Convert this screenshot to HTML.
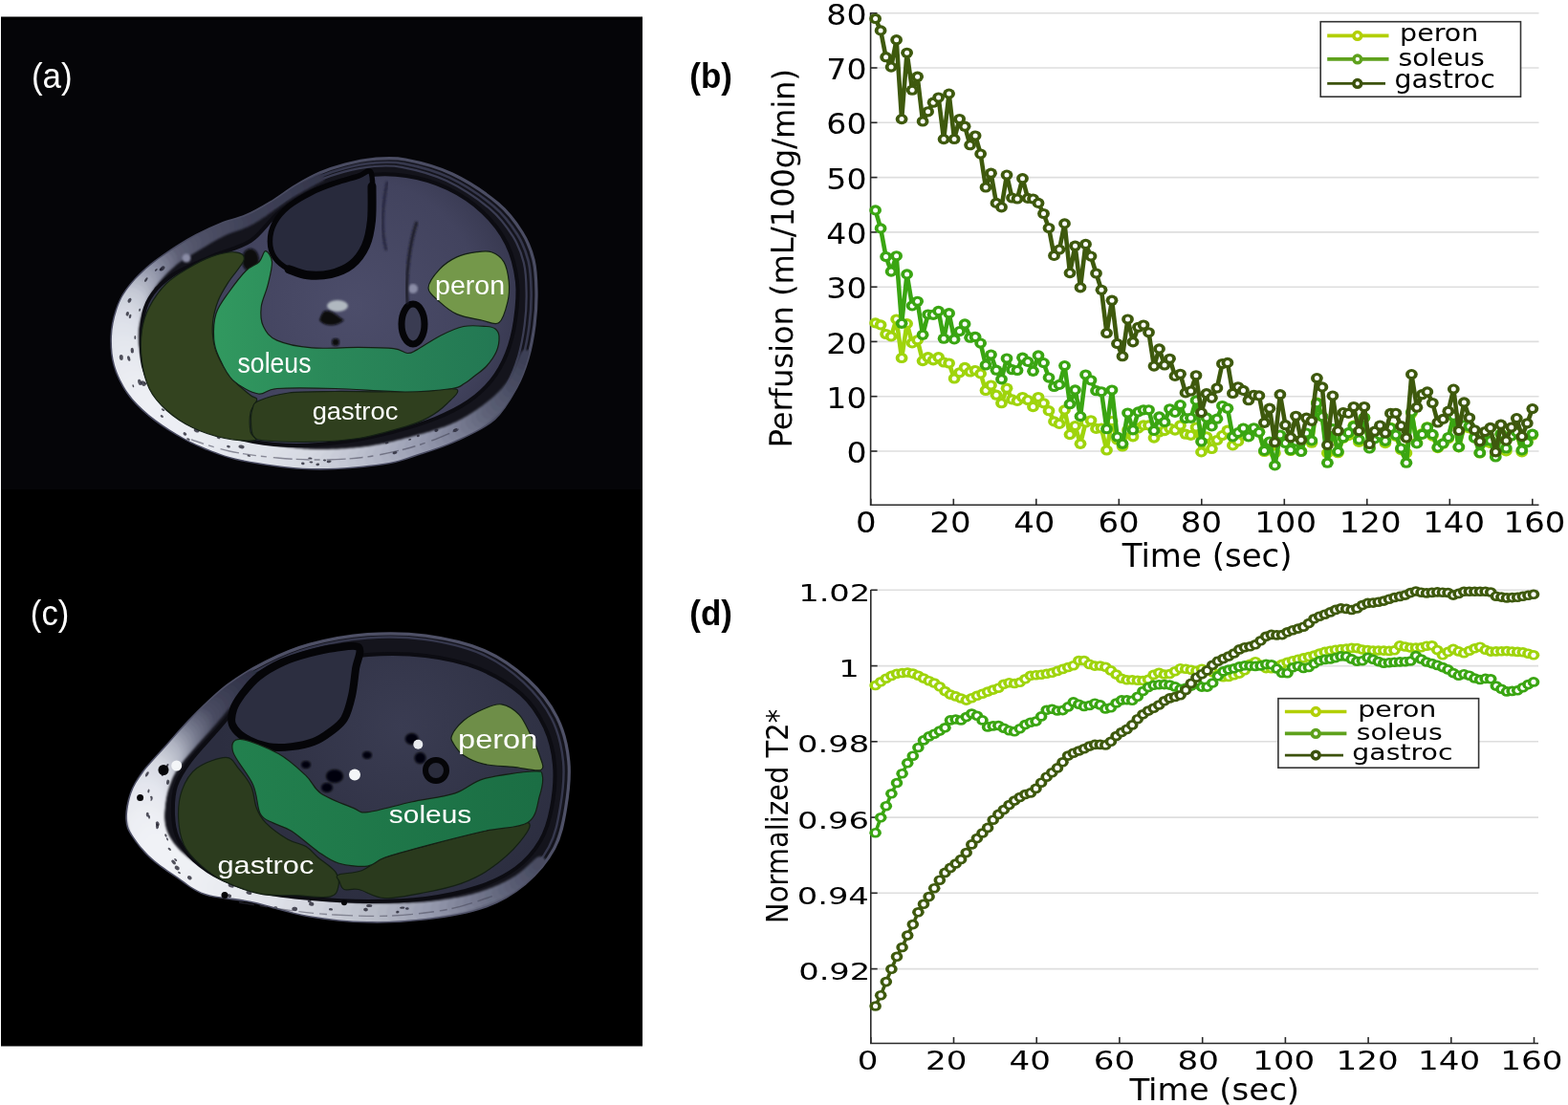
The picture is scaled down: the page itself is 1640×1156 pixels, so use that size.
<!DOCTYPE html>
<html><head><meta charset="utf-8"><title>Figure</title><style>html,body{margin:0;padding:0;background:#fff;overflow:hidden}svg{display:block}</style></head><body>
<svg width="1640" height="1156" viewBox="0 0 1640 1156">
<rect width="1640" height="1156" fill="#fff"/>
<defs>
<filter id="blur1" x="-10%" y="-10%" width="120%" height="120%"><feGaussianBlur stdDeviation="1.2"/></filter>
<filter id="blur06" x="-10%" y="-10%" width="120%" height="120%"><feGaussianBlur stdDeviation="0.6"/></filter>
<filter id="blur2" x="-10%" y="-10%" width="120%" height="120%"><feGaussianBlur stdDeviation="2.5"/></filter>
<filter id="blur4" x="-20%" y="-20%" width="140%" height="140%"><feGaussianBlur stdDeviation="5"/></filter>
<linearGradient id="bandA" gradientUnits="userSpaceOnUse" x1="120" y1="420" x2="560" y2="300">
<stop offset="0" stop-color="#e6e8f0"/><stop offset="0.45" stop-color="#c8ccd8"/><stop offset="0.75" stop-color="#6a6e86"/><stop offset="1" stop-color="#3a3c50"/></linearGradient>
<linearGradient id="bandC" gradientUnits="userSpaceOnUse" x1="130" y1="880" x2="600" y2="900">
<stop offset="0" stop-color="#f0f2f6"/><stop offset="0.5" stop-color="#d8dce4"/><stop offset="0.8" stop-color="#8a8ea6"/><stop offset="1" stop-color="#4a4c62"/></linearGradient>
<radialGradient id="musA" gradientUnits="userSpaceOnUse" cx="370" cy="320" r="190">
<stop offset="0" stop-color="#4c4d6a"/><stop offset="0.7" stop-color="#42435e"/><stop offset="1" stop-color="#34354b"/></radialGradient>
<radialGradient id="musC" gradientUnits="userSpaceOnUse" cx="420" cy="760" r="190">
<stop offset="0" stop-color="#3a3c52"/><stop offset="1" stop-color="#2c2e40"/></radialGradient>
<linearGradient id="solA" gradientUnits="userSpaceOnUse" x1="230" y1="0" x2="520" y2="0">
<stop offset="0" stop-color="#31985f"/><stop offset="0.4" stop-color="#2a8859"/><stop offset="1" stop-color="#237853"/></linearGradient>
<linearGradient id="solC" gradientUnits="userSpaceOnUse" x1="250" y1="0" x2="565" y2="0">
<stop offset="0" stop-color="#22804e"/><stop offset="1" stop-color="#1b6e44"/></linearGradient>
</defs>
<rect x="1" y="17.5" width="671" height="1077" fill="#000"/>
<rect x="1" y="21" width="671" height="491" fill="#050508"/>
<clipPath id="clipOA"><path d="M117,352 C117.3,342.5 119.4,333.1 122,325 C124.6,316.9 127.3,310.9 132.5,303.6 C137.7,296.3 145.5,288 153.3,281.1 C161.1,274.2 170.5,267.9 179.2,262.1 C187.8,256.3 196.5,251.1 205.2,246.5 C213.8,241.9 222.4,237.8 231.1,234.4 C239.8,231 248.5,229.6 257.1,225.8 C265.8,222.1 274.4,217.1 283,211.9 C291.6,206.7 300.3,199.8 309,194.6 C317.7,189.4 326.3,184.6 335,180.8 C343.7,177 351.8,174.4 361,172 C370.2,169.6 379.5,167.3 390,166.5 C400.5,165.7 410.2,164.4 424,167 C437.8,169.6 456.8,174.3 473,182 C489.2,189.7 508.8,202.8 521,213 C533.2,223.2 539.8,233.2 546,243 C552.2,252.8 555.5,261.7 558,272 C560.5,282.3 560.8,293.7 561,305 C561.2,316.3 560.5,328.3 559,340 C557.5,351.7 555.2,364.2 552,375 C548.8,385.8 545.8,394.5 540,405 C534.2,415.5 527.3,428.8 517,438 C506.7,447.2 490.8,454 478,460 C465.2,466 453,469.8 440,474 C427,478.2 419,482.3 400,485 C381,487.7 350.5,490.7 326,490 C301.5,489.3 271.8,484.7 253,481 C234.2,477.3 224.3,472.5 213,468 C201.7,463.5 194.5,459.7 185,454 C175.5,448.3 164.5,441.2 156,434 C147.5,426.8 140,419.7 134,411 C128,402.3 122.8,391.8 120,382 C117.2,372.2 116.7,361.5 117,352 Z"/></clipPath>
<path d="M117,352 C117.3,342.5 119.4,333.1 122,325 C124.6,316.9 127.3,310.9 132.5,303.6 C137.7,296.3 145.5,288 153.3,281.1 C161.1,274.2 170.5,267.9 179.2,262.1 C187.8,256.3 196.5,251.1 205.2,246.5 C213.8,241.9 222.4,237.8 231.1,234.4 C239.8,231 248.5,229.6 257.1,225.8 C265.8,222.1 274.4,217.1 283,211.9 C291.6,206.7 300.3,199.8 309,194.6 C317.7,189.4 326.3,184.6 335,180.8 C343.7,177 351.8,174.4 361,172 C370.2,169.6 379.5,167.3 390,166.5 C400.5,165.7 410.2,164.4 424,167 C437.8,169.6 456.8,174.3 473,182 C489.2,189.7 508.8,202.8 521,213 C533.2,223.2 539.8,233.2 546,243 C552.2,252.8 555.5,261.7 558,272 C560.5,282.3 560.8,293.7 561,305 C561.2,316.3 560.5,328.3 559,340 C557.5,351.7 555.2,364.2 552,375 C548.8,385.8 545.8,394.5 540,405 C534.2,415.5 527.3,428.8 517,438 C506.7,447.2 490.8,454 478,460 C465.2,466 453,469.8 440,474 C427,478.2 419,482.3 400,485 C381,487.7 350.5,490.7 326,490 C301.5,489.3 271.8,484.7 253,481 C234.2,477.3 224.3,472.5 213,468 C201.7,463.5 194.5,459.7 185,454 C175.5,448.3 164.5,441.2 156,434 C147.5,426.8 140,419.7 134,411 C128,402.3 122.8,391.8 120,382 C117.2,372.2 116.7,361.5 117,352 Z" fill="#14141c"/>
<path d="M117,352 C117.3,342.5 119.4,333.1 122,325 C124.6,316.9 127.3,310.9 132.5,303.6 C137.7,296.3 145.5,288 153.3,281.1 C161.1,274.2 170.5,267.9 179.2,262.1 C187.8,256.3 196.5,251.1 205.2,246.5 C213.8,241.9 222.4,237.8 231.1,234.4 C239.8,231 248.5,229.6 257.1,225.8 C265.8,222.1 274.4,217.1 283,211.9 C291.6,206.7 300.3,199.8 309,194.6 C317.7,189.4 326.3,184.6 335,180.8 C343.7,177 351.8,174.4 361,172 C370.2,169.6 379.5,167.3 390,166.5 C400.5,165.7 410.2,164.4 424,167 C437.8,169.6 456.8,174.3 473,182 C489.2,189.7 508.8,202.8 521,213 C533.2,223.2 539.8,233.2 546,243 C552.2,252.8 555.5,261.7 558,272 C560.5,282.3 560.8,293.7 561,305 C561.2,316.3 560.5,328.3 559,340 C557.5,351.7 555.2,364.2 552,375 C548.8,385.8 545.8,394.5 540,405 C534.2,415.5 527.3,428.8 517,438 C506.7,447.2 490.8,454 478,460 C465.2,466 453,469.8 440,474 C427,478.2 419,482.3 400,485 C381,487.7 350.5,490.7 326,490 C301.5,489.3 271.8,484.7 253,481 C234.2,477.3 224.3,472.5 213,468 C201.7,463.5 194.5,459.7 185,454 C175.5,448.3 164.5,441.2 156,434 C147.5,426.8 140,419.7 134,411 C128,402.3 122.8,391.8 120,382 C117.2,372.2 116.7,361.5 117,352 Z" fill="none" stroke="#4a4c62" stroke-width="3.2"/>
<path d="M122.7,351.4 C123,342.2 125.1,333 127.6,325.1 C130.1,317.3 132.7,311.4 137.8,304.3 C142.9,297.1 150.5,289.1 158.1,282.3 C165.7,275.6 174.9,269.4 183.3,263.8 C191.8,258.2 200.3,253.1 208.7,248.6 C217.1,244.1 225.5,240.2 233.9,236.8 C242.4,233.4 250.9,232.1 259.3,228.4 C267.7,224.7 276.1,219.9 284.6,214.9 C293,209.8 301.4,203 309.9,198 C318.3,192.9 326.8,188.2 335.2,184.5 C343.7,180.9 351.7,178.3 360.6,176 C369.5,173.6 378.6,171.4 388.9,170.6 C399.1,169.8 408.5,168.6 422,171.1 C435.5,173.6 454,178.2 469.8,185.7 C485.6,193.2 504.7,206 516.6,215.9 C528.5,225.8 535,235.6 541,245.2 C547,254.8 550.2,263.4 552.7,273.4 C555.1,283.5 555.4,294.6 555.6,305.6 C555.8,316.7 555.1,328.4 553.6,339.8 C552.2,351.1 549.9,363.3 546.8,373.9 C543.7,384.4 540.8,392.9 535.1,403.1 C529.4,413.4 522.8,426.4 512.7,435.3 C502.6,444.2 487.2,450.9 474.7,456.8 C462.2,462.6 450.3,466.3 437.6,470.4 C424.9,474.5 417.1,478.5 398.6,481.1 C380.1,483.7 350.4,486.6 326.5,486 C302.6,485.4 273.7,480.8 255.3,477.2 C236.9,473.7 227.4,468.9 216.3,464.5 C205.2,460.2 198.3,456.4 189,450.9 C179.7,445.4 169,438.4 160.7,431.4 C152.4,424.4 145.1,417.4 139.3,409 C133.4,400.5 128.4,390.3 125.6,380.7 C122.9,371.1 122.4,360.7 122.7,351.4 Z" fill="none" stroke="#35374c" stroke-width="2.6"/>
<path d="M127.9,350.9 C128.3,341.9 130.2,332.9 132.7,325.2 C135.2,317.6 137.7,311.8 142.7,304.9 C147.7,297.9 155.1,290 162.5,283.4 C169.9,276.9 178.9,270.8 187.2,265.4 C195.4,259.9 203.7,254.9 211.9,250.5 C220.1,246.1 228.3,242.3 236.6,239 C244.8,235.7 253.1,234.4 261.3,230.8 C269.6,227.2 277.7,222.5 286,217.6 C294.2,212.6 302.5,206 310.7,201.1 C319,196.2 327.2,191.5 335.5,188 C343.7,184.4 351.5,181.9 360.2,179.6 C369,177.3 377.8,175.1 387.8,174.3 C397.8,173.6 407,172.4 420.2,174.8 C433.4,177.3 451.5,181.8 466.9,189.1 C482.2,196.4 501,208.9 512.6,218.6 C524.1,228.3 530.5,237.8 536.4,247.2 C542.2,256.5 545.4,264.9 547.8,274.8 C550.2,284.6 550.5,295.4 550.6,306.2 C550.8,317 550.2,328.4 548.7,339.5 C547.3,350.6 545.1,362.5 542.1,372.8 C539,383.2 536.2,391.4 530.6,401.4 C525.1,411.4 518.6,424.1 508.7,432.8 C498.9,441.5 483.8,448 471.6,453.8 C459.4,459.5 447.8,463.1 435.4,467.1 C423.1,471.1 415.4,475 397.4,477.6 C379.3,480.1 350.2,483 326.9,482.3 C303.6,481.7 275.3,477.2 257.4,473.8 C239.5,470.3 230.1,465.7 219.3,461.4 C208.5,457.1 201.7,453.4 192.7,448 C183.6,442.7 173.2,435.8 165.1,429 C157,422.2 149.8,415.4 144.1,407.1 C138.4,398.9 133.5,388.9 130.8,379.5 C128.1,370.1 127.6,360 127.9,350.9 Z" fill="none" stroke="#3a3c52" stroke-width="2.2"/>
<g clip-path="url(#clipOA)"><g filter="url(#blur1)" fill="none" stroke-linecap="round">
<path d="M335,186 L331.2,187.9" stroke="#34364a" stroke-width="8.2"/>
<path d="M331.2,187.9 L326,190.4" stroke="#35374b" stroke-width="8.8"/>
<path d="M326,190.4 L319.9,193.5" stroke="#36384d" stroke-width="9.2"/>
<path d="M319.9,193.5 L313.2,196.9" stroke="#37394e" stroke-width="9.8"/>
<path d="M313.2,196.9 L306.4,200.4" stroke="#383a4f" stroke-width="10.2"/>
<path d="M306.4,200.4 L300,204" stroke="#393b51" stroke-width="10.8"/>
<path d="M300,204 L293.7,207.8" stroke="#3a3c52" stroke-width="11.2"/>
<path d="M293.7,207.8 L287.3,212.1" stroke="#3b3d53" stroke-width="11.8"/>
<path d="M287.3,212.1 L280.7,216.5" stroke="#3b3d53" stroke-width="12.2"/>
<path d="M280.7,216.5 L274.2,220.8" stroke="#3c3e54" stroke-width="12.8"/>
<path d="M274.2,220.8 L267.9,224.7" stroke="#3d3f55" stroke-width="13.2"/>
<path d="M267.9,224.7 L262,228" stroke="#3d3f55" stroke-width="13.8"/>
<path d="M262,228 L256.5,230.4" stroke="#3e4056" stroke-width="14.3"/>
<path d="M256.5,230.4 L251.3,232.2" stroke="#3f4157" stroke-width="15"/>
<path d="M251.3,232.2 L246.3,233.6" stroke="#414359" stroke-width="15.7"/>
<path d="M246.3,233.6 L241.5,234.9" stroke="#42445a" stroke-width="16.3"/>
<path d="M241.5,234.9 L236.7,236.3" stroke="#43455b" stroke-width="17"/>
<path d="M236.7,236.3 L232,238" stroke="#45475d" stroke-width="17.7"/>
<path d="M232,238 L227.3,240.1" stroke="#46485e" stroke-width="18.2"/>
<path d="M227.3,240.1 L222.8,242.3" stroke="#47495f" stroke-width="18.5"/>
<path d="M222.8,242.3 L218.3,244.6" stroke="#494b61" stroke-width="18.8"/>
<path d="M218.3,244.6 L213.9,247" stroke="#4a4c62" stroke-width="19.2"/>
<path d="M213.9,247 L209.5,249.5" stroke="#4b4d63" stroke-width="19.5"/>
<path d="M209.5,249.5 L205,252" stroke="#4d4f65" stroke-width="19.8"/>
<path d="M205,252 L200.5,254.5" stroke="#4e5066" stroke-width="20.2"/>
<path d="M200.5,254.5 L195.9,257" stroke="#515369" stroke-width="20.5"/>
<path d="M195.9,257 L191.3,259.5" stroke="#53556b" stroke-width="20.8"/>
<path d="M191.3,259.5 L186.8,262.1" stroke="#56586e" stroke-width="21.2"/>
<path d="M186.8,262.1 L182.3,265" stroke="#595b71" stroke-width="21.5"/>
<path d="M182.3,265 L178,268" stroke="#5b5d73" stroke-width="21.8"/>
<path d="M178,268 L173.7,271.3" stroke="#5e6076" stroke-width="22.3"/>
<path d="M173.7,271.3 L169.5,274.7" stroke="#66697e" stroke-width="23"/>
<path d="M169.5,274.7 L165.4,278.4" stroke="#6f7187" stroke-width="23.7"/>
<path d="M165.4,278.4 L161.4,282.1" stroke="#777a8f" stroke-width="24.3"/>
<path d="M161.4,282.1 L157.6,286" stroke="#7f8397" stroke-width="25"/>
<path d="M157.6,286 L154,290" stroke="#888ba0" stroke-width="25.7"/>
<path d="M154,290 L150.7,294.1" stroke="#9094a8" stroke-width="26.3"/>
<path d="M150.7,294.1 L147.5,298.3" stroke="#999daf" stroke-width="27"/>
<path d="M147.5,298.3 L144.5,302.6" stroke="#a1a5b7" stroke-width="27.7"/>
<path d="M144.5,302.6 L141.7,307" stroke="#aaaebe" stroke-width="28.3"/>
<path d="M141.7,307 L139.2,311.5" stroke="#b3b7c5" stroke-width="29"/>
<path d="M139.2,311.5 L137,316" stroke="#bbbfcd" stroke-width="29.7"/>
<path d="M137,316 L135,320.5" stroke="#c4c8d4" stroke-width="30.2"/>
<path d="M135,320.5 L133.3,325.1" stroke="#c8ccd7" stroke-width="30.5"/>
<path d="M133.3,325.1 L131.9,329.8" stroke="#ccd0db" stroke-width="30.8"/>
<path d="M131.9,329.8 L130.7,334.4" stroke="#d0d4de" stroke-width="31.2"/>
<path d="M130.7,334.4 L129.7,339.2" stroke="#d4d7e1" stroke-width="31.5"/>
<path d="M129.7,339.2 L129,344" stroke="#d8dbe5" stroke-width="31.8"/>
<path d="M129,344 L128.5,348.9" stroke="#dcdfe8" stroke-width="32.2"/>
<path d="M128.5,348.9 L128.3,353.8" stroke="#dde0e9" stroke-width="32.5"/>
<path d="M128.3,353.8 L128.4,358.8" stroke="#dfe2ea" stroke-width="32.8"/>
<path d="M128.4,358.8 L128.7,363.9" stroke="#e0e3eb" stroke-width="33.2"/>
<path d="M128.7,363.9 L129.2,368.9" stroke="#e1e4ec" stroke-width="33.5"/>
<path d="M129.2,368.9 L130,374" stroke="#e3e6ed" stroke-width="33.8"/>
<path d="M130,374 L131,379.1" stroke="#e4e7ee" stroke-width="34"/>
<path d="M131,379.1 L132.2,384.4" stroke="#e5e8ef" stroke-width="34"/>
<path d="M132.2,384.4 L133.7,389.6" stroke="#e6e9ef" stroke-width="34"/>
<path d="M133.7,389.6 L135.4,394.9" stroke="#e7eaf0" stroke-width="34"/>
<path d="M135.4,394.9 L137.5,400" stroke="#e8eaf1" stroke-width="34"/>
<path d="M137.5,400 L140,405" stroke="#e9ebf1" stroke-width="34"/>
<path d="M140,405 L142.9,409.9" stroke="#eaecf2" stroke-width="34"/>
<path d="M142.9,409.9 L146.1,414.8" stroke="#ebedf2" stroke-width="34"/>
<path d="M146.1,414.8 L149.6,419.6" stroke="#ebedf3" stroke-width="34"/>
<path d="M149.6,419.6 L153.5,424.2" stroke="#eceef4" stroke-width="34"/>
<path d="M153.5,424.2 L157.6,428.7" stroke="#edeff4" stroke-width="34"/>
<path d="M157.6,428.7 L162,433" stroke="#edeff4" stroke-width="34"/>
<path d="M162,433 L166.7,437.1" stroke="#eef0f5" stroke-width="34"/>
<path d="M166.7,437.1 L171.6,441" stroke="#eef0f5" stroke-width="34"/>
<path d="M171.6,441 L176.9,444.8" stroke="#edeff5" stroke-width="34"/>
<path d="M176.9,444.8 L182.4,448.3" stroke="#edeff4" stroke-width="34"/>
<path d="M182.4,448.3 L188.1,451.8" stroke="#edeff4" stroke-width="34"/>
<path d="M188.1,451.8 L194,455" stroke="#eceef4" stroke-width="34"/>
<path d="M194,455 L200.1,458.1" stroke="#eceef4" stroke-width="33.8"/>
<path d="M200.1,458.1 L206.5,461" stroke="#ebedf3" stroke-width="33.5"/>
<path d="M206.5,461 L213.1,463.8" stroke="#eaecf3" stroke-width="33.2"/>
<path d="M213.1,463.8 L219.9,466.4" stroke="#e9ecf2" stroke-width="32.8"/>
<path d="M219.9,466.4 L226.9,468.8" stroke="#e8ebf1" stroke-width="32.5"/>
<path d="M226.9,468.8 L234,471" stroke="#e7eaf1" stroke-width="32.2"/>
<path d="M234,471 L241.3,473" stroke="#e6e9f0" stroke-width="31.8"/>
<path d="M241.3,473 L248.7,474.7" stroke="#e5e8ef" stroke-width="31.5"/>
<path d="M248.7,474.7 L256.4,476.2" stroke="#e4e7ee" stroke-width="31.2"/>
<path d="M256.4,476.2 L264.1,477.6" stroke="#e3e6ed" stroke-width="30.8"/>
<path d="M264.1,477.6 L272,478.9" stroke="#e2e5ec" stroke-width="30.5"/>
<path d="M272,478.9 L280,480" stroke="#e1e4eb" stroke-width="30.2"/>
<path d="M280,480 L288,481" stroke="#e0e3ea" stroke-width="29.8"/>
<path d="M288,481 L296.2,482" stroke="#dee1e9" stroke-width="29.5"/>
<path d="M296.2,482 L304.4,482.8" stroke="#dde0e7" stroke-width="29.2"/>
<path d="M304.4,482.8 L312.8,483.4" stroke="#dbdee6" stroke-width="28.8"/>
<path d="M312.8,483.4 L321.3,483.9" stroke="#d9dce5" stroke-width="28.5"/>
<path d="M321.3,483.9 L330,484" stroke="#d8dbe3" stroke-width="28.2"/>
<path d="M330,484 L338.9,483.9" stroke="#d6d9e2" stroke-width="27.8"/>
<path d="M338.9,483.9 L348.1,483.6" stroke="#d2d5df" stroke-width="27.5"/>
<path d="M348.1,483.6 L357.5,483" stroke="#cdd1db" stroke-width="27.2"/>
<path d="M357.5,483 L366.9,482.2" stroke="#c9ccd8" stroke-width="26.8"/>
<path d="M366.9,482.2 L376.1,481.2" stroke="#c5c8d5" stroke-width="26.5"/>
<path d="M376.1,481.2 L385,480" stroke="#c0c4d1" stroke-width="26.2"/>
<path d="M385,480 L393.7,478.5" stroke="#bcc0ce" stroke-width="25.8"/>
<path d="M393.7,478.5 L402.3,476.7" stroke="#b7bbca" stroke-width="25.5"/>
<path d="M402.3,476.7 L410.8,474.8" stroke="#b2b6c6" stroke-width="25.2"/>
<path d="M410.8,474.8 L419,472.6" stroke="#adb1c2" stroke-width="24.8"/>
<path d="M419,472.6 L427.1,470.3" stroke="#a8acbe" stroke-width="24.5"/>
<path d="M427.1,470.3 L435,468" stroke="#a3a7ba" stroke-width="24.2"/>
<path d="M435,468 L442.7,465.6" stroke="#9ea2b6" stroke-width="23.7"/>
<path d="M442.7,465.6 L450.2,463.2" stroke="#999db1" stroke-width="23"/>
<path d="M450.2,463.2 L457.5,460.6" stroke="#9397ac" stroke-width="22.3"/>
<path d="M457.5,460.6 L464.6,457.9" stroke="#8e92a7" stroke-width="21.7"/>
<path d="M464.6,457.9 L471.4,455.1" stroke="#898da2" stroke-width="21"/>
<path d="M471.4,455.1 L478,452" stroke="#83879d" stroke-width="20.3"/>
<path d="M478,452 L484.3,448.7" stroke="#7e8298" stroke-width="19.8"/>
<path d="M484.3,448.7 L490.4,445.3" stroke="#797d93" stroke-width="19.5"/>
<path d="M490.4,445.3 L496.2,441.6" stroke="#73778d" stroke-width="19.2"/>
<path d="M496.2,441.6 L501.7,437.9" stroke="#6e7288" stroke-width="18.8"/>
<path d="M501.7,437.9 L507,434" stroke="#696d83" stroke-width="18.5"/>
<path d="M507,434 L512,430" stroke="#63677d" stroke-width="18.2"/>
<path d="M512,430 L516.7,426" stroke="#5e6278" stroke-width="17.7"/>
<path d="M516.7,426 L521.1,421.9" stroke="#5b5f75" stroke-width="17"/>
<path d="M521.1,421.9 L525.2,417.6" stroke="#575b71" stroke-width="16.3"/>
<path d="M525.2,417.6 L529.1,413.3" stroke="#54586e" stroke-width="15.7"/>
<path d="M529.1,413.3 L532.7,408.7" stroke="#51556b" stroke-width="15"/>
<path d="M532.7,408.7 L536,404" stroke="#4d5167" stroke-width="14.3"/>
<path d="M536,404 L539.1,398.6" stroke="#4a4e64" stroke-width="13.8"/>
<path d="M539.1,398.6 L541.9,392.6" stroke="#484b61" stroke-width="13.5"/>
<path d="M541.9,392.6 L544.5,386.4" stroke="#45495f" stroke-width="13.2"/>
<path d="M544.5,386.4 L546.7,380.5" stroke="#43465c" stroke-width="12.8"/>
<path d="M546.7,380.5 L548.6,375.6" stroke="#414359" stroke-width="12.5"/>
<path d="M548.6,375.6 L550,372" stroke="#3e4157" stroke-width="12.2"/>
</g></g>
<g fill="#1c1c2a" fill-opacity="0.75" filter="url(#blur06)" clip-path="url(#clipOA)">
<ellipse cx="169.8" cy="280.9" rx="3.1" ry="1.9" transform="rotate(137.5 169.8 280.9)"/>
<ellipse cx="168.2" cy="281.8" rx="1.8" ry="1.1" transform="rotate(137.5 168.2 281.8)"/>
<ellipse cx="163.3" cy="282.3" rx="1.7" ry="0.9" transform="rotate(137.5 163.3 282.3)"/>
<ellipse cx="152.8" cy="292.6" rx="2.7" ry="1.2" transform="rotate(123.2 152.8 292.6)"/>
<ellipse cx="135.5" cy="314.3" rx="2.6" ry="1.7" transform="rotate(123.2 135.5 314.3)"/>
<ellipse cx="162.8" cy="301.6" rx="2.4" ry="1.1" transform="rotate(123.2 162.8 301.6)"/>
<ellipse cx="146.1" cy="324.3" rx="1.6" ry="0.9" transform="rotate(105.9 146.1 324.3)"/>
<ellipse cx="133.3" cy="328.3" rx="2.4" ry="1.6" transform="rotate(105.9 133.3 328.3)"/>
<ellipse cx="136.1" cy="330.9" rx="2.3" ry="1.2" transform="rotate(105.9 136.1 330.9)"/>
<ellipse cx="126.8" cy="374" rx="2.9" ry="2" transform="rotate(88.1 126.8 374)"/>
<ellipse cx="141.3" cy="353.1" rx="2" ry="0.9" transform="rotate(88.1 141.3 353.1)"/>
<ellipse cx="138.3" cy="366.7" rx="2.9" ry="1.7" transform="rotate(88.1 138.3 366.7)"/>
<ellipse cx="139.3" cy="403.8" rx="1.5" ry="0.8" transform="rotate(72.1 139.3 403.8)"/>
<ellipse cx="146.2" cy="399.9" rx="3.2" ry="1.9" transform="rotate(72.1 146.2 399.9)"/>
<ellipse cx="134.7" cy="375" rx="2.8" ry="1.5" transform="rotate(72.1 134.7 375)"/>
<ellipse cx="149.9" cy="401.1" rx="3.1" ry="2.2" transform="rotate(51.8 149.9 401.1)"/>
<ellipse cx="152" cy="400.9" rx="1.7" ry="0.8" transform="rotate(51.8 152 400.9)"/>
<ellipse cx="168.1" cy="419.1" rx="2.5" ry="1.5" transform="rotate(51.8 168.1 419.1)"/>
<ellipse cx="169.3" cy="435.5" rx="1.7" ry="1.2" transform="rotate(34.5 169.3 435.5)"/>
<ellipse cx="170.5" cy="428.6" rx="1.9" ry="1" transform="rotate(34.5 170.5 428.6)"/>
<ellipse cx="193.4" cy="453.9" rx="2" ry="1.5" transform="rotate(34.5 193.4 453.9)"/>
<ellipse cx="205.7" cy="450.3" rx="3" ry="2" transform="rotate(21.8 205.7 450.3)"/>
<ellipse cx="196.9" cy="459.5" rx="1.9" ry="1" transform="rotate(21.8 196.9 459.5)"/>
<ellipse cx="228.6" cy="458.1" rx="2" ry="1" transform="rotate(21.8 228.6 458.1)"/>
<ellipse cx="239" cy="467.2" rx="1.9" ry="1.3" transform="rotate(11.1 239 467.2)"/>
<ellipse cx="252.5" cy="467.4" rx="3.1" ry="1.9" transform="rotate(11.1 252.5 467.4)"/>
<ellipse cx="260.3" cy="476.8" rx="1.8" ry="0.9" transform="rotate(11.1 260.3 476.8)"/>
<ellipse cx="325.4" cy="483.4" rx="1.9" ry="1" transform="rotate(4.6 325.4 483.4)"/>
<ellipse cx="316.8" cy="484.8" rx="1.8" ry="1.4" transform="rotate(4.6 316.8 484.8)"/>
<ellipse cx="324.4" cy="479.5" rx="2.2" ry="1.1" transform="rotate(4.6 324.4 479.5)"/>
<ellipse cx="332.3" cy="485.9" rx="1.9" ry="1.3" transform="rotate(-4.2 332.3 485.9)"/>
<ellipse cx="344.1" cy="482.8" rx="2.5" ry="1.4" transform="rotate(-4.2 344.1 482.8)"/>
<ellipse cx="339.5" cy="481.5" rx="1.6" ry="0.9" transform="rotate(-4.2 339.5 481.5)"/>
<ellipse cx="413" cy="473.6" rx="2.5" ry="1.4" transform="rotate(-13.5 413 473.6)"/>
<ellipse cx="428.7" cy="459.8" rx="1.5" ry="0.8" transform="rotate(-13.5 428.7 459.8)"/>
<ellipse cx="404.6" cy="463.4" rx="1.8" ry="1" transform="rotate(-13.5 404.6 463.4)"/>
<ellipse cx="456.4" cy="450.2" rx="2.1" ry="1.6" transform="rotate(-20.4 456.4 450.2)"/>
<ellipse cx="476.3" cy="450.1" rx="2.7" ry="1.8" transform="rotate(-20.4 476.3 450.1)"/>
<ellipse cx="437.4" cy="455.9" rx="1.5" ry="1.2" transform="rotate(-20.4 437.4 455.9)"/>
</g>
<path d="M200,460 C206.7,462 225,468.8 240,472 C255,475.2 273.3,477.5 290,479 C306.7,480.5 323.3,481.3 340,481 C356.7,480.7 373.3,479.7 390,477 C406.7,474.3 425,469.7 440,465 C455,460.3 473.3,451.7 480,449" fill="none" stroke="#404052" stroke-width="1.4" stroke-dasharray="14 5 6 7 20 4" stroke-opacity="0.55" filter="url(#blur06)"/>
<path d="M148,352 C148.3,341.8 149.3,330.3 152,322 C154.7,313.7 158.5,308.2 164,302 C169.5,295.8 175.3,290.7 185,285 C194.7,279.3 209.2,273.5 222,268 C234.8,262.5 250.3,259.7 262,252 C273.7,244.3 280.7,231 292,222 C303.3,213 315.3,204.3 330,198 C344.7,191.7 364.2,186.3 380,184 C395.8,181.7 410.3,181.8 425,184 C439.7,186.2 454.7,190.7 468,197 C481.3,203.3 494.7,212.3 505,222 C515.3,231.7 524,242.8 530,255 C536,267.2 539.5,281.7 541,295 C542.5,308.3 540.8,322.5 539,335 C537.2,347.5 534.2,359.5 530,370 C525.8,380.5 520.7,389.7 514,398 C507.3,406.3 499.8,413.3 490,420 C480.2,426.7 468.3,432.7 455,438 C441.7,443.3 425.8,448 410,452 C394.2,456 376.7,459.7 360,462 C343.3,464.3 325.8,466 310,466 C294.2,466 279.7,464.7 265,462 C250.3,459.3 235.2,455 222,450 C208.8,445 196,438.7 186,432 C176,425.3 168,418.2 162,410 C156,401.8 152.3,392.7 150,383 C147.7,373.3 147.7,362.2 148,352 Z" fill="url(#musA)" stroke="#0c0c12" stroke-width="4"/>
<ellipse cx="262" cy="272" rx="9" ry="12" fill="#08080c" filter="url(#blur1)"/>
<path d="M387.3,179.3 C384.9,176.9 381.2,182.1 375.1,184.1 C369,186.1 358.8,188.7 350.7,191.5 C342.6,194.3 334.4,197.1 326.3,201.2 C318.2,205.3 308.5,210.6 302,215.9 C295.5,221.2 290.6,226.8 287.3,232.9 C284,239 282.4,246.3 282.4,252.4 C282.4,258.5 284,264.6 287.3,269.5 C290.6,274.4 296.3,278.6 302,281.7 C307.7,284.8 314.2,287 321.5,287.8 C328.8,288.6 338.2,288.4 345.9,286.6 C353.6,284.8 361.7,281.7 367.8,276.8 C373.9,271.9 378.9,265 382.4,257.3 C385.8,249.6 387.3,240.2 388.5,230.5 C389.7,220.8 390,207.3 389.8,198.8 C389.6,190.3 389.8,181.8 387.3,179.3 Z" fill="#282a3c" stroke="#050508" stroke-width="5.5"/>
<path d="M389,195 C388.9,200.9 389.6,220.1 388.5,230.5 C387.4,240.9 385.8,249.6 382.4,257.3 C378.9,265 373.9,271.9 367.8,276.8 C361.7,281.7 353.6,284.8 345.9,286.6 C338.2,288.4 328.8,288.6 321.5,287.8 C314.2,287 305.2,282.7 302,281.7" fill="none" stroke="#050508" stroke-width="9" stroke-linecap="round"/>
<ellipse cx="432" cy="339" rx="12" ry="21" fill="#3a3c52" stroke="#050508" stroke-width="7"/>
<circle cx="432" cy="302" r="5" fill="#8a8ca6" filter="url(#blur1)"/>
<ellipse cx="353" cy="320" rx="11" ry="6" fill="#b0b8c0" filter="url(#blur1)"/>
<ellipse cx="342" cy="333" rx="6" ry="5" fill="#08080c" filter="url(#blur1)"/>
<circle cx="195" cy="270" r="4.5" fill="#8a8ca6" filter="url(#blur1)"/>
<path d="M436,232 C428,255 424,290 426,318" fill="none" stroke="#1c1c28" stroke-width="3" filter="url(#blur1)"/>
<path d="M405,190 C400,215 398,240 404,262" fill="none" stroke="#24243a" stroke-width="2.5" filter="url(#blur1)"/>
<path d="M338,326 C345,322 352,330 360,335 C352,342 340,342 334,335 Z" fill="#08080c" filter="url(#blur1)"/>
<circle cx="351" cy="358" r="4" fill="#08080c" filter="url(#blur1)"/>
<path d="M246.2,263.9 C251.8,264.4 256.3,266.6 255.2,271.7 C254.1,276.8 244,287.1 239.5,294.2 C235,301.3 231,307.4 228.2,314.5 C225.4,321.6 223.3,329.5 222.6,337 C221.8,344.5 222.4,352.8 223.7,359.5 C225,366.2 227.1,371.1 230.5,377.5 C233.9,383.9 238.8,391.7 244,397.7 C249.2,403.7 257.9,410.1 262,413.5 C266.1,416.9 268.7,415 268.7,418 C268.7,421 263.1,425.9 262,431.5 C260.9,437.1 261.2,446.8 262,451.7 C262.8,456.6 271,459.6 266.5,460.7 C262,461.8 245.9,460.8 235,458.5 C224.1,456.2 211.3,452.1 201.2,447.2 C191.1,442.3 181.7,435.9 174.2,429.2 C166.7,422.4 160.5,415.3 156.2,406.7 C151.9,398.1 149.7,387.6 148.4,377.5 C147.1,367.4 147.1,355.4 148.4,346 C149.7,336.6 151.9,329.4 156.2,321.2 C160.5,312.9 167.4,303.2 174.2,296.5 C180.9,289.8 188.8,285.4 196.7,280.7 C204.6,276 213.2,271.2 221.5,268.4 C229.8,265.6 240.6,263.3 246.2,263.9 Z" fill="#33431f" stroke="#142014" stroke-width="1.2"/>
<path d="M270.2,419.5 C276.5,416.7 288.7,412.7 302,411 C315.3,409.3 333.8,409.7 350,409.5 C366.2,409.3 384.5,409.9 399.5,409.8 C414.5,409.7 427,409.4 440,409 C453,408.6 473,405.1 477.6,407.3 C482.2,409.5 472.7,417.1 467.8,422 C462.9,426.9 455.6,432.6 448.3,436.6 C441,440.7 436.1,442.7 423.9,446.3 C411.7,449.9 391.4,455.9 375.1,458.5 C358.8,461.1 342.6,461.8 326.3,462.2 C310.1,462.6 287.8,462 277.6,461 C267.4,460 267.5,459.3 265,456 C262.5,452.7 262.7,445.7 262.5,441 C262.3,436.3 262.7,431.6 264,428 C265.3,424.4 263.9,422.3 270.2,419.5 Z" fill="#2f3f1e" stroke="#142014" stroke-width="1.2"/>
<path d="M277.7,262.7 C279.9,262.7 284.1,268 284.5,274 C284.9,280 281.9,290.8 280,298.7 C278.1,306.6 273.9,314.1 273.2,321.2 C272.4,328.3 272.7,335.7 275.5,341.5 C278.3,347.3 281.3,352.4 289.8,356.1 C298.3,359.8 312.1,362.7 326.3,363.9 C340.5,365.1 360.9,363.3 375.1,363.4 C389.3,363.5 403.2,363.6 411.7,364.6 C420.2,365.6 422.2,369.3 426.3,369.5 C430.4,369.7 430.4,368.9 436.1,365.9 C441.8,362.8 452.4,355.3 460.5,351.2 C468.6,347.1 476.8,343.1 484.9,341.5 C493,339.9 503.4,341.1 508.9,341.5 C514.4,341.9 515.8,342.2 518,344 C520.2,345.8 521.8,348.1 522,352 C522.2,355.9 521.5,362.3 519.3,367.5 C517.1,372.7 512.6,378.8 508.9,383 C505.2,387.2 501,389.7 497.1,392.7 C493.2,395.7 489.7,398.9 485.6,401.2 C481.5,403.5 483,405 472.7,406.5 C462.4,408 444.2,410 423.9,410 C403.6,410 373,407.1 350.7,406.5 C328.4,405.9 303.2,405.6 289.8,406.5 C276.4,407.4 277.9,413.5 270.2,412 C262.5,410.5 250.3,404.1 243.4,397.6 C236.5,391.1 232.1,380.3 228.8,373.2 C225.5,366.1 224.2,362.5 223.7,355 C223.2,347.5 223.4,336.2 226,328 C228.6,319.8 234.2,313 239.5,305.5 C244.8,298 252.2,288.2 257.5,283 C262.8,277.8 267.6,277.4 271,274 C274.4,270.6 275.4,262.7 277.7,262.7 Z" fill="url(#solA)" stroke="#142014" stroke-width="1.2"/>
<path d="M448,301.3 C448,295.7 454.6,287.3 459.6,281.9 C464.6,276.5 471.3,271.9 477.8,268.9 C484.3,265.9 492.4,264.6 498.5,263.7 C504.6,262.8 509.3,262 514.1,263.7 C518.9,265.4 524.1,268.9 527.1,274.1 C530.1,279.3 531.6,288 532.3,294.9 C532.9,301.8 532.7,308.5 531,315.6 C529.3,322.7 526.4,334.4 521.9,337.6 C517.4,340.8 511,336.5 503.7,335 C496.4,333.5 485.1,331.8 477.8,328.6 C470.5,325.4 464.6,320.2 459.6,315.6 C454.6,311.1 448,306.9 448,301.3 Z" fill="#74984a" stroke="#142014" stroke-width="1.2"/>
<text transform="translate(248.56,389.91) scale(0.8881,1.0000)" font-family="Liberation Sans, sans-serif" font-size="29.96" fill="#fff">soleus</text>
<text transform="translate(326.65,439.18) scale(1.0663,1.0000)" font-family="Liberation Sans, sans-serif" font-size="25.64" fill="#fff">gastroc</text>
<text transform="translate(455.06,307.80) scale(1.0037,1.0000)" font-family="Liberation Sans, sans-serif" font-size="28.43" fill="#fff">peron</text>
<text transform="translate(32.93,92.19) scale(0.9638,1.0000)" font-family="Liberation Sans, sans-serif" font-size="36.28" fill="#fff">(a)</text>
<clipPath id="clipOC"><path d="M132.9,857.3 C132.6,849.9 134.6,838 137.4,829.9 C140.2,821.8 144,816.1 149.6,808.5 C155.2,800.9 162.3,793.8 171,784.1 C179.7,774.5 190.3,761.8 201.5,750.6 C212.7,739.4 225.3,726.8 238,717.1 C250.7,707.5 263.5,699.8 277.7,692.7 C291.9,685.6 305.6,679.2 323.4,674.4 C341.2,669.6 364.1,665.2 384.4,663.7 C404.7,662.2 425.1,662.4 445.4,665.2 C465.7,668 488.5,672.9 506.3,680.5 C524.1,688.1 539.4,699.3 552.1,711 C564.8,722.7 575.5,736.4 582.6,750.6 C589.7,764.8 593.3,780.5 594.8,796.3 C596.3,812 594.2,829.9 591.7,845.1 C589.2,860.4 586.6,874.6 579.5,887.8 C572.4,901 561.2,914.2 549,924.4 C536.8,934.6 523.6,942.7 506.3,948.8 C489,954.9 465.7,958.5 445.4,961 C425.1,963.5 404.7,964.5 384.4,964 C364.1,963.5 343.7,961.4 323.4,957.9 C303.1,954.4 280.4,946.5 262.4,942.7 C244.3,938.9 227.7,939.2 215.1,935.1 C202.5,931 196.1,924.4 186.6,918 C177.1,911.6 166,904.3 158.1,897 C150.2,889.7 143.2,880.8 139,874.2 C134.8,867.6 133.2,864.7 132.9,857.3 Z"/></clipPath>
<path d="M132.9,857.3 C132.6,849.9 134.6,838 137.4,829.9 C140.2,821.8 144,816.1 149.6,808.5 C155.2,800.9 162.3,793.8 171,784.1 C179.7,774.5 190.3,761.8 201.5,750.6 C212.7,739.4 225.3,726.8 238,717.1 C250.7,707.5 263.5,699.8 277.7,692.7 C291.9,685.6 305.6,679.2 323.4,674.4 C341.2,669.6 364.1,665.2 384.4,663.7 C404.7,662.2 425.1,662.4 445.4,665.2 C465.7,668 488.5,672.9 506.3,680.5 C524.1,688.1 539.4,699.3 552.1,711 C564.8,722.7 575.5,736.4 582.6,750.6 C589.7,764.8 593.3,780.5 594.8,796.3 C596.3,812 594.2,829.9 591.7,845.1 C589.2,860.4 586.6,874.6 579.5,887.8 C572.4,901 561.2,914.2 549,924.4 C536.8,934.6 523.6,942.7 506.3,948.8 C489,954.9 465.7,958.5 445.4,961 C425.1,963.5 404.7,964.5 384.4,964 C364.1,963.5 343.7,961.4 323.4,957.9 C303.1,954.4 280.4,946.5 262.4,942.7 C244.3,938.9 227.7,939.2 215.1,935.1 C202.5,931 196.1,924.4 186.6,918 C177.1,911.6 166,904.3 158.1,897 C150.2,889.7 143.2,880.8 139,874.2 C134.8,867.6 133.2,864.7 132.9,857.3 Z" fill="#14141c"/>
<path d="M132.9,857.3 C132.6,849.9 134.6,838 137.4,829.9 C140.2,821.8 144,816.1 149.6,808.5 C155.2,800.9 162.3,793.8 171,784.1 C179.7,774.5 190.3,761.8 201.5,750.6 C212.7,739.4 225.3,726.8 238,717.1 C250.7,707.5 263.5,699.8 277.7,692.7 C291.9,685.6 305.6,679.2 323.4,674.4 C341.2,669.6 364.1,665.2 384.4,663.7 C404.7,662.2 425.1,662.4 445.4,665.2 C465.7,668 488.5,672.9 506.3,680.5 C524.1,688.1 539.4,699.3 552.1,711 C564.8,722.7 575.5,736.4 582.6,750.6 C589.7,764.8 593.3,780.5 594.8,796.3 C596.3,812 594.2,829.9 591.7,845.1 C589.2,860.4 586.6,874.6 579.5,887.8 C572.4,901 561.2,914.2 549,924.4 C536.8,934.6 523.6,942.7 506.3,948.8 C489,954.9 465.7,958.5 445.4,961 C425.1,963.5 404.7,964.5 384.4,964 C364.1,963.5 343.7,961.4 323.4,957.9 C303.1,954.4 280.4,946.5 262.4,942.7 C244.3,938.9 227.7,939.2 215.1,935.1 C202.5,931 196.1,924.4 186.6,918 C177.1,911.6 166,904.3 158.1,897 C150.2,889.7 143.2,880.8 139,874.2 C134.8,867.6 133.2,864.7 132.9,857.3 Z" fill="none" stroke="#4e5066" stroke-width="3.2"/>
<path d="M138.7,856.2 C138.4,849 140.4,837.5 143.1,829.5 C145.8,821.6 149.5,816.1 155,808.7 C160.4,801.2 167.4,794.3 175.8,784.9 C184.3,775.5 194.7,763.1 205.6,752.2 C216.5,741.3 228.8,729 241.2,719.5 C253.6,710.1 266,702.7 279.9,695.8 C293.8,688.8 307.1,682.6 324.4,677.9 C341.8,673.2 364.1,669 383.9,667.5 C403.7,666 423.6,666.2 443.4,668.9 C463.2,671.7 485.4,676.4 502.8,683.9 C520.1,691.3 535,702.2 547.4,713.6 C559.8,725 570.2,738.3 577.2,752.2 C584.1,766.1 587.6,781.4 589.1,796.8 C590.5,812.1 588.5,829.5 586,844.3 C583.5,859.2 581.1,873.1 574.1,886 C567.2,898.9 556.3,911.8 544.4,921.7 C532.5,931.6 519.6,939.5 502.8,945.5 C485.9,951.4 463.2,954.9 443.4,957.4 C423.6,959.8 403.7,960.8 383.9,960.3 C364.1,959.8 344.3,957.8 324.4,954.3 C304.6,950.9 282.6,943.2 265,939.5 C247.4,935.8 231.2,936.1 218.8,932.1 C206.5,928.1 200.3,921.6 191.1,915.4 C181.8,909.2 171,902.1 163.3,895 C155.5,887.8 148.7,879.2 144.7,872.7 C140.6,866.3 139,863.4 138.7,856.2 Z" fill="none" stroke="#35374c" stroke-width="2.4"/>
<g clip-path="url(#clipOC)"><g filter="url(#blur1)" fill="none" stroke-linecap="round">
<path d="M262,708 L259.1,710.4" stroke="#2e3044" stroke-width="14.5"/>
<path d="M259.1,710.4 L255.2,713.7" stroke="#303246" stroke-width="15.5"/>
<path d="M255.2,713.7 L250.5,717.6" stroke="#323449" stroke-width="16.5"/>
<path d="M250.5,717.6 L245.5,721.9" stroke="#34364b" stroke-width="17.5"/>
<path d="M245.5,721.9 L240.5,726.1" stroke="#36384d" stroke-width="18.5"/>
<path d="M240.5,726.1 L236,730" stroke="#383a50" stroke-width="19.5"/>
<path d="M236,730 L231.9,733.7" stroke="#3a3c52" stroke-width="20.7"/>
<path d="M231.9,733.7 L227.8,737.4" stroke="#3d3f55" stroke-width="22"/>
<path d="M227.8,737.4 L223.8,741.1" stroke="#3f4157" stroke-width="23.3"/>
<path d="M223.8,741.1 L219.8,744.8" stroke="#42445a" stroke-width="24.7"/>
<path d="M219.8,744.8 L215.9,748.4" stroke="#45475d" stroke-width="26"/>
<path d="M215.9,748.4 L212,752" stroke="#47495f" stroke-width="27.3"/>
<path d="M212,752 L208.2,755.4" stroke="#4a4c62" stroke-width="28.5"/>
<path d="M208.2,755.4 L204.4,758.8" stroke="#515369" stroke-width="29.5"/>
<path d="M204.4,758.8 L200.8,762.1" stroke="#585b70" stroke-width="30.5"/>
<path d="M200.8,762.1 L197.1,765.4" stroke="#5f6277" stroke-width="31.5"/>
<path d="M197.1,765.4 L193.5,768.7" stroke="#66697e" stroke-width="32.5"/>
<path d="M193.5,768.7 L190,772" stroke="#6d7185" stroke-width="33.5"/>
<path d="M190,772 L186.5,775.3" stroke="#74788c" stroke-width="34.5"/>
<path d="M186.5,775.3 L182.9,778.6" stroke="#7e8295" stroke-width="35.5"/>
<path d="M182.9,778.6 L179.4,781.9" stroke="#888c9e" stroke-width="36.5"/>
<path d="M179.4,781.9 L176.1,785.2" stroke="#9296a7" stroke-width="37.5"/>
<path d="M176.1,785.2 L172.9,788.6" stroke="#9ca0b0" stroke-width="38.5"/>
<path d="M172.9,788.6 L170,792" stroke="#a6aab9" stroke-width="39.5"/>
<path d="M170,792 L167.3,795.5" stroke="#b0b4c2" stroke-width="40.3"/>
<path d="M167.3,795.5 L164.9,799" stroke="#b6bac7" stroke-width="41"/>
<path d="M164.9,799 L162.6,802.6" stroke="#bcc0cc" stroke-width="41.7"/>
<path d="M162.6,802.6 L160.5,806.3" stroke="#c2c6d1" stroke-width="42.3"/>
<path d="M160.5,806.3 L158.6,810.1" stroke="#c8cbd6" stroke-width="43"/>
<path d="M158.6,810.1 L157,814" stroke="#ced1db" stroke-width="43.7"/>
<path d="M157,814 L155.6,818.1" stroke="#d4d7e0" stroke-width="43.8"/>
<path d="M155.6,818.1 L154.5,822.4" stroke="#d7dae2" stroke-width="43.5"/>
<path d="M154.5,822.4 L153.6,826.8" stroke="#d9dce5" stroke-width="43.2"/>
<path d="M153.6,826.8 L152.9,831.2" stroke="#dcdee7" stroke-width="42.8"/>
<path d="M152.9,831.2 L152.3,835.6" stroke="#dfe1e9" stroke-width="42.5"/>
<path d="M152.3,835.6 L152,840" stroke="#e1e4ec" stroke-width="42.2"/>
<path d="M152,840 L151.8,844.4" stroke="#e4e6ee" stroke-width="41.7"/>
<path d="M151.8,844.4 L151.8,848.8" stroke="#e5e7ef" stroke-width="41"/>
<path d="M151.8,848.8 L152,853.2" stroke="#e7e9f0" stroke-width="40.3"/>
<path d="M152,853.2 L152.4,857.6" stroke="#e8eaf0" stroke-width="39.7"/>
<path d="M152.4,857.6 L153.1,861.9" stroke="#e9ebf1" stroke-width="39"/>
<path d="M153.1,861.9 L154,866" stroke="#ebedf2" stroke-width="38.3"/>
<path d="M154,866 L155.2,869.9" stroke="#eceef3" stroke-width="37.7"/>
<path d="M155.2,869.9 L156.7,873.7" stroke="#edeff4" stroke-width="37"/>
<path d="M156.7,873.7 L158.4,877.4" stroke="#edeff4" stroke-width="36.3"/>
<path d="M158.4,877.4 L160.3,881" stroke="#eef0f4" stroke-width="35.7"/>
<path d="M160.3,881 L162.5,884.6" stroke="#eff1f5" stroke-width="35"/>
<path d="M162.5,884.6 L165,888" stroke="#eff1f6" stroke-width="34.3"/>
<path d="M165,888 L167.7,891.4" stroke="#f0f2f6" stroke-width="33.7"/>
<path d="M167.7,891.4 L170.7,894.7" stroke="#f0f2f6" stroke-width="33"/>
<path d="M170.7,894.7 L174,897.9" stroke="#f0f2f6" stroke-width="32.3"/>
<path d="M174,897.9 L177.5,901" stroke="#f0f2f6" stroke-width="31.7"/>
<path d="M177.5,901 L181.2,904" stroke="#f0f2f6" stroke-width="31"/>
<path d="M181.2,904 L185,907" stroke="#f0f2f6" stroke-width="30.3"/>
<path d="M185,907 L189,909.9" stroke="#f0f2f6" stroke-width="29.8"/>
<path d="M189,909.9 L193.1,912.6" stroke="#f0f2f6" stroke-width="29.5"/>
<path d="M193.1,912.6 L197.5,915.3" stroke="#eff1f5" stroke-width="29.2"/>
<path d="M197.5,915.3 L202.1,917.9" stroke="#eff1f5" stroke-width="28.8"/>
<path d="M202.1,917.9 L206.9,920.5" stroke="#eff1f5" stroke-width="28.5"/>
<path d="M206.9,920.5 L212,923" stroke="#eef0f4" stroke-width="28.2"/>
<path d="M212,923 L217.4,925.5" stroke="#eef0f4" stroke-width="27.8"/>
<path d="M217.4,925.5 L223,928" stroke="#edeff3" stroke-width="27.5"/>
<path d="M223,928 L228.9,930.4" stroke="#eceef3" stroke-width="27.2"/>
<path d="M228.9,930.4 L235.1,932.7" stroke="#ebedf2" stroke-width="26.8"/>
<path d="M235.1,932.7 L241.4,934.9" stroke="#eaecf1" stroke-width="26.5"/>
<path d="M241.4,934.9 L248,937" stroke="#e9ebf1" stroke-width="26.2"/>
<path d="M248,937 L254.8,938.9" stroke="#e8eaf0" stroke-width="25.8"/>
<path d="M254.8,938.9 L261.9,940.8" stroke="#e7e9ef" stroke-width="25.5"/>
<path d="M261.9,940.8 L269.2,942.5" stroke="#e5e7ee" stroke-width="25.2"/>
<path d="M269.2,942.5 L276.7,944.1" stroke="#e4e6ed" stroke-width="24.8"/>
<path d="M276.7,944.1 L284.3,945.6" stroke="#e3e5ec" stroke-width="24.5"/>
<path d="M284.3,945.6 L292,947" stroke="#e1e3eb" stroke-width="24.2"/>
<path d="M292,947 L299.7,948.3" stroke="#e0e2ea" stroke-width="23.8"/>
<path d="M299.7,948.3 L307.4,949.4" stroke="#dde0e8" stroke-width="23.5"/>
<path d="M307.4,949.4 L315.3,950.5" stroke="#dbdde5" stroke-width="23.2"/>
<path d="M315.3,950.5 L323.3,951.4" stroke="#d8dae3" stroke-width="22.8"/>
<path d="M323.3,951.4 L331.5,952.3" stroke="#d5d8e1" stroke-width="22.5"/>
<path d="M331.5,952.3 L340,953" stroke="#d3d6de" stroke-width="22.2"/>
<path d="M340,953 L348.8,953.6" stroke="#d0d3dc" stroke-width="21.8"/>
<path d="M348.8,953.6 L357.8,954.1" stroke="#cccfd9" stroke-width="21.5"/>
<path d="M357.8,954.1 L367.1,954.6" stroke="#c8cbd5" stroke-width="21.2"/>
<path d="M367.1,954.6 L376.4,954.9" stroke="#c4c8d2" stroke-width="20.8"/>
<path d="M376.4,954.9 L385.8,955" stroke="#c0c4cf" stroke-width="20.5"/>
<path d="M385.8,955 L395,955" stroke="#bcc0cb" stroke-width="20.2"/>
<path d="M395,955 L404.2,954.9" stroke="#b8bcc8" stroke-width="19.8"/>
<path d="M404.2,954.9 L413.5,954.6" stroke="#b3b7c4" stroke-width="19.5"/>
<path d="M413.5,954.6 L422.8,954.2" stroke="#adb1c0" stroke-width="19.2"/>
<path d="M422.8,954.2 L432,953.7" stroke="#a8acbc" stroke-width="18.8"/>
<path d="M432,953.7 L441.1,953" stroke="#a3a7b8" stroke-width="18.5"/>
<path d="M441.1,953 L450,952" stroke="#9da1b4" stroke-width="18.2"/>
<path d="M450,952 L458.7,950.8" stroke="#989cb0" stroke-width="17.8"/>
<path d="M458.7,950.8 L467.4,949.5" stroke="#9296aa" stroke-width="17.5"/>
<path d="M467.4,949.5 L475.9,947.9" stroke="#8c90a5" stroke-width="17.2"/>
<path d="M475.9,947.9 L484.3,946.2" stroke="#868a9f" stroke-width="16.8"/>
<path d="M484.3,946.2 L492.3,944.2" stroke="#808499" stroke-width="16.5"/>
<path d="M492.3,944.2 L500,942" stroke="#7a7e94" stroke-width="16.2"/>
<path d="M500,942 L507.4,939.5" stroke="#74788e" stroke-width="15.8"/>
<path d="M507.4,939.5 L514.6,936.7" stroke="#6f7389" stroke-width="15.5"/>
<path d="M514.6,936.7 L521.6,933.8" stroke="#6b6f85" stroke-width="15.2"/>
<path d="M521.6,933.8 L528.1,930.6" stroke="#666a80" stroke-width="14.8"/>
<path d="M528.1,930.6 L534.3,927.3" stroke="#61657b" stroke-width="14.5"/>
<path d="M534.3,927.3 L540,924" stroke="#5d6177" stroke-width="14.2"/>
<path d="M540,924 L545.3,920.3" stroke="#585c72" stroke-width="13.8"/>
<path d="M545.3,920.3 L550.4,916.1" stroke="#55596f" stroke-width="13.5"/>
<path d="M550.4,916.1 L555,911.9" stroke="#52556b" stroke-width="13.2"/>
<path d="M555,911.9 L559.1,907.9" stroke="#4e5268" stroke-width="12.8"/>
<path d="M559.1,907.9 L562.5,904.4" stroke="#4b4f65" stroke-width="12.5"/>
<path d="M562.5,904.4 L565,902" stroke="#484b61" stroke-width="12.2"/>
</g></g>
<g fill="#1c1c2a" fill-opacity="0.75" filter="url(#blur06)" clip-path="url(#clipOC)">
<ellipse cx="153.8" cy="809.9" rx="3" ry="1.4" transform="rotate(120.6 153.8 809.9)"/>
<ellipse cx="170.4" cy="809.8" rx="2.4" ry="1.2" transform="rotate(120.6 170.4 809.8)"/>
<ellipse cx="175.1" cy="800.7" rx="1.9" ry="1.1" transform="rotate(120.6 175.1 800.7)"/>
<ellipse cx="175.6" cy="818.3" rx="2.7" ry="1.6" transform="rotate(100.9 175.6 818.3)"/>
<ellipse cx="155.4" cy="827.5" rx="2.1" ry="1" transform="rotate(100.9 155.4 827.5)"/>
<ellipse cx="158" cy="835.3" rx="2.6" ry="1.7" transform="rotate(100.9 158 835.3)"/>
<ellipse cx="164.5" cy="864.4" rx="2.8" ry="1.6" transform="rotate(85.6 164.5 864.4)"/>
<ellipse cx="156" cy="854.7" rx="2" ry="1" transform="rotate(85.6 156 854.7)"/>
<ellipse cx="154.3" cy="852.2" rx="2.5" ry="1.5" transform="rotate(85.6 154.3 852.2)"/>
<ellipse cx="173.4" cy="874" rx="1.8" ry="1" transform="rotate(63.4 173.4 874)"/>
<ellipse cx="175" cy="877.9" rx="1.7" ry="0.8" transform="rotate(63.4 175 877.9)"/>
<ellipse cx="164.8" cy="861.7" rx="2.5" ry="1.8" transform="rotate(63.4 164.8 861.7)"/>
<ellipse cx="177.3" cy="888.3" rx="2" ry="1.1" transform="rotate(43.5 177.3 888.3)"/>
<ellipse cx="183.7" cy="899.5" rx="1.9" ry="0.9" transform="rotate(43.5 183.7 899.5)"/>
<ellipse cx="181.6" cy="902" rx="2.9" ry="1.6" transform="rotate(43.5 181.6 902)"/>
<ellipse cx="198.3" cy="918.2" rx="2.5" ry="2" transform="rotate(30.7 198.3 918.2)"/>
<ellipse cx="187.5" cy="913" rx="1.6" ry="1" transform="rotate(30.7 187.5 913)"/>
<ellipse cx="185.2" cy="908" rx="2.7" ry="2.1" transform="rotate(30.7 185.2 908)"/>
<ellipse cx="239.8" cy="937.2" rx="2.4" ry="1.9" transform="rotate(21.3 239.8 937.2)"/>
<ellipse cx="241.7" cy="926.6" rx="3.2" ry="1.8" transform="rotate(21.3 241.7 926.6)"/>
<ellipse cx="223.4" cy="914.4" rx="2.3" ry="1.2" transform="rotate(21.3 223.4 914.4)"/>
<ellipse cx="288.4" cy="949.2" rx="1.9" ry="0.9" transform="rotate(12.8 288.4 949.2)"/>
<ellipse cx="273.4" cy="932.8" rx="2.4" ry="1.8" transform="rotate(12.8 273.4 932.8)"/>
<ellipse cx="260.4" cy="934" rx="3" ry="1.8" transform="rotate(12.8 260.4 934)"/>
<ellipse cx="308.2" cy="950.9" rx="2.9" ry="2.2" transform="rotate(7.1 308.2 950.9)"/>
<ellipse cx="325.7" cy="945.8" rx="2.7" ry="2" transform="rotate(7.1 325.7 945.8)"/>
<ellipse cx="323.7" cy="943" rx="2" ry="1.2" transform="rotate(7.1 323.7 943)"/>
<ellipse cx="382.5" cy="951.6" rx="2.4" ry="1.8" transform="rotate(2.1 382.5 951.6)"/>
<ellipse cx="346" cy="951.3" rx="2.1" ry="1.3" transform="rotate(2.1 346 951.3)"/>
<ellipse cx="386.2" cy="947.6" rx="3.1" ry="1.5" transform="rotate(2.1 386.2 947.6)"/>
<ellipse cx="425.8" cy="950.5" rx="1.9" ry="1.2" transform="rotate(-3.1 425.8 950.5)"/>
<ellipse cx="420.7" cy="949.6" rx="2.7" ry="1.2" transform="rotate(-3.1 420.7 949.6)"/>
<ellipse cx="415.8" cy="954.1" rx="1.7" ry="1.3" transform="rotate(-3.1 415.8 954.1)"/>
</g>
<path d="M250,944 C258.3,945.3 283.3,949.8 300,952 C316.7,954.2 331.7,956 350,957 C368.3,958 390,959 410,958 C430,957 451.7,954.7 470,951 C488.3,947.3 511.7,938.5 520,936" fill="none" stroke="#404052" stroke-width="1.4" stroke-dasharray="16 6 8 5 22 6" stroke-opacity="0.5" filter="url(#blur06)"/>
<path d="M181,852 C180.7,842.8 181,831.3 184,822 C187,812.7 192,805.5 199,796 C206,786.5 217.5,774.7 226,765 C234.5,755.3 241,746.5 250,738 C259,729.5 267.5,721.2 280,714 C292.5,706.8 307.5,699.8 325,695 C342.5,690.2 365,686.5 385,685 C405,683.5 425.8,683.7 445,686 C464.2,688.3 483.3,692.3 500,699 C516.7,705.7 533.3,715.7 545,726 C556.7,736.3 564.2,748.7 570,761 C575.8,773.3 578.8,786 580,800 C581.2,814 579.5,831.7 577,845 C574.5,858.3 571.2,869.5 565,880 C558.8,890.5 550.8,900 540,908 C529.2,916 515.8,922.7 500,928 C484.2,933.3 464.2,937.5 445,940 C425.8,942.5 405,943 385,943 C365,943 343.8,941.7 325,940 C306.2,938.3 287.3,936.3 272,933 C256.7,929.7 244.5,925.5 233,920 C221.5,914.5 210.8,907.2 203,900 C195.2,892.8 189.7,885 186,877 C182.3,869 181.3,861.2 181,852 Z" fill="url(#musC)" stroke="#0c0c12" stroke-width="4"/>
<path d="M375.2,677.4 C378.9,681.1 373.2,691.6 372,700 C370.8,708.4 370,719.3 368,728 C366,736.7 363.8,745.7 360,752 C356.2,758.3 350.3,762 345,766 C339.7,770 334.6,773.5 328,776 C321.4,778.5 313,780.2 305.1,781.1 C297.2,782 288.8,782.6 280.7,781.1 C272.6,779.6 262.6,775.9 256.3,772 C250,768.1 245,763 243,758 C241,753 242.4,747.3 244.1,742 C245.8,736.7 249,731.9 253.3,726.2 C257.6,720.5 263.1,713.5 270,708 C276.9,702.5 286.1,697.1 295,693 C303.9,688.9 314.2,686 323.4,683.5 C332.6,681 341.4,679 350,678 C358.6,677 371.5,673.7 375.2,677.4 Z" fill="#2c2e40" stroke="#050508" stroke-width="8"/>
<ellipse cx="350" cy="812" rx="9" ry="7" fill="#060608" filter="url(#blur1)"/>
<ellipse cx="342" cy="824" rx="6" ry="5" fill="#060608" filter="url(#blur1)"/>
<ellipse cx="430.7" cy="773" rx="7" ry="6" fill="#060608" filter="url(#blur1)"/>
<ellipse cx="439.5" cy="793" rx="6" ry="6" fill="#060608" filter="url(#blur1)"/>
<ellipse cx="384" cy="790" rx="5" ry="4" fill="#060608" filter="url(#blur1)"/>
<ellipse cx="320" cy="800" rx="5" ry="4" fill="#060608" filter="url(#blur1)"/>
<circle cx="456" cy="806" r="11" fill="#2a2c3c" stroke="#050508" stroke-width="6"/>
<circle cx="371" cy="810.5" r="6" fill="#f4f6f8"/>
<circle cx="437.3" cy="778.7" r="5" fill="#e8eaee"/>
<circle cx="184.7" cy="801" r="5.5" fill="#f4f6f8"/>
<circle cx="152.7" cy="836" r="5" fill="#e8eaf0"/>
<circle cx="171" cy="805.5" r="5.5" fill="#050508"/>
<circle cx="146.6" cy="834.5" r="3.5" fill="#050508"/>
<circle cx="235" cy="936.6" r="3.5" fill="#050508"/>
<circle cx="360" cy="944.2" r="3" fill="#050508"/>
<path d="M236.1,792.4 C243.4,792.4 245,798.7 249.4,803.8 C253.8,808.9 259.5,815.8 262.7,822.8 C265.9,829.8 265.8,839.2 268.4,845.6 C270.9,852 272.6,855.5 278,860.9 C283.4,866.3 293.8,873.9 300.8,878 C307.8,882.1 314.7,882.4 320,885.6 C325.3,888.8 327.5,892.6 332.6,897 C337.8,901.4 347.3,907.1 350.9,912.2 C354.4,917.3 354.9,923.1 353.9,927.4 C352.9,931.7 352.4,936.6 344.8,938.1 C337.2,939.6 320.3,937.1 308.2,936.6 C296.1,936.1 284.5,937.6 272.2,935.1 C259.9,932.6 244.7,926.9 234.2,921.8 C223.7,916.7 216.4,911 209.4,904.6 C202.4,898.2 196.1,892 192.3,883.7 C188.5,875.5 186.9,864.6 186.6,855.1 C186.3,845.6 187.2,835.2 190.4,826.6 C193.6,818 198,809.5 205.6,803.8 C213.2,798.1 228.8,792.4 236.1,792.4 Z" fill="#2c3c1e" stroke="#142014" stroke-width="1.2"/>
<path d="M353.9,915.2 C357.8,913.3 370.2,913.7 378.3,910.7 C386.4,907.7 391.5,901.3 402.7,897 C413.9,892.7 428.1,889.4 445.4,884.8 C462.7,880.2 488.5,873.6 506.3,869.5 C524.1,865.4 546,858.4 552.1,860.4 C558.2,862.4 549.6,873.6 543,881.7 C536.4,889.8 522.6,902 512.4,909.1 C502.2,916.2 493.2,920.3 482,924.4 C470.8,928.5 458.6,931 445.4,933.5 C432.2,936 414.4,940.1 402.7,939.6 C391,939.1 382.3,932 375.2,930.5 C368.1,929 363.4,931.9 360,930.5 C356.6,929.1 356,924.5 355,922 C354,919.5 350,917.1 353.9,915.2 Z" fill="#2a3a1d" stroke="#142014" stroke-width="1.2"/>
<path d="M251.3,773.3 C259.2,773.6 279.9,782.1 291.3,788.5 C302.8,794.9 312.6,804.5 320,811.4 C327.4,818.3 327.4,824.3 335.6,829.9 C343.8,835.5 361,841.8 369.1,845.1 C377.2,848.4 374.2,850.7 384.4,849.7 C394.6,848.7 414.9,842.3 430.1,839 C445.4,835.7 463.2,834 475.9,829.9 C488.6,825.8 492.6,818.4 506.3,814.6 C520,810.8 548,807.5 558.2,807 C568.4,806.5 566.3,807.3 567.3,811.6 C568.3,815.9 566.8,824.8 564.3,832.9 C561.8,841 561.8,854.3 552.1,860.4 C542.4,866.5 524.1,865.4 506.3,869.5 C488.5,873.6 462.7,880.2 445.4,884.8 C428.1,889.4 412.9,893.5 402.7,897 C392.5,900.5 392.5,905.1 384.4,906.1 C376.3,907.1 362.5,905.5 353.9,903 C345.3,900.5 340.7,896.5 332.6,890.9 C324.5,885.3 312.9,874.5 305.1,869.5 C297.3,864.5 291.1,863.9 285.6,860.9 C280.1,857.9 275.7,858 272.2,851.3 C268.7,844.6 269.4,831.7 264.6,820.9 C259.9,810.1 245.9,794.5 243.7,786.6 C241.5,778.7 243.4,773 251.3,773.3 Z" fill="url(#solC)" stroke="#142014" stroke-width="1.2"/>
<path d="M472.8,768.9 C474.6,764.9 479.4,758.3 485,753.7 C490.6,749.1 499.7,744.3 506.3,741.5 C512.9,738.7 518.5,735.9 524.6,736.9 C530.7,737.9 537.8,742.3 542.9,747.6 C548,752.9 551.5,761.8 555.1,768.9 C558.7,776 562.5,784.1 564.3,790.2 C566.1,796.3 570.4,803.5 565.8,805.5 C561.2,807.5 546.7,803.4 536.8,802.4 C526.9,801.4 514.9,801.4 506.3,799.4 C497.7,797.4 490.3,793.8 485,790.2 C479.7,786.6 476.3,781.5 474.3,778 C472.3,774.5 471,772.9 472.8,768.9 Z" fill="#6e8e48" stroke="#142014" stroke-width="1.2"/>
<text transform="translate(479.10,782.71) scale(1.1662,1.0000)" font-family="Liberation Sans, sans-serif" font-size="27.90" fill="#fff">peron</text>
<text transform="translate(406.87,860.75) scale(1.1740,1.0000)" font-family="Liberation Sans, sans-serif" font-size="25.46" fill="#fff">soleus</text>
<text transform="translate(227.51,913.78) scale(1.1987,1.0000)" font-family="Liberation Sans, sans-serif" font-size="25.64" fill="#fff">gastroc</text>
<text transform="translate(31.85,654.27) scale(0.9275,1.0000)" font-family="Liberation Sans, sans-serif" font-size="37.35" fill="#fff">(c)</text>
<line x1="911" y1="472" x2="1609.5" y2="472" stroke="#dedede" stroke-width="1.6"/>
<line x1="911" y1="414.7" x2="1609.5" y2="414.7" stroke="#dedede" stroke-width="1.6"/>
<line x1="911" y1="357.4" x2="1609.5" y2="357.4" stroke="#dedede" stroke-width="1.6"/>
<line x1="911" y1="300.2" x2="1609.5" y2="300.2" stroke="#dedede" stroke-width="1.6"/>
<line x1="911" y1="242.9" x2="1609.5" y2="242.9" stroke="#dedede" stroke-width="1.6"/>
<line x1="911" y1="185.6" x2="1609.5" y2="185.6" stroke="#dedede" stroke-width="1.6"/>
<line x1="911" y1="128.3" x2="1609.5" y2="128.3" stroke="#dedede" stroke-width="1.6"/>
<line x1="911" y1="71" x2="1609.5" y2="71" stroke="#dedede" stroke-width="1.6"/>
<line x1="911" y1="13.8" x2="1609.5" y2="13.8" stroke="#dedede" stroke-width="1.6"/>
<path d="M910.6,13 V528.3 H1609.5" fill="none" stroke="#2a2a2a" stroke-width="1.6"/>
<line x1="910.6" y1="472" x2="917.5" y2="472" stroke="#2a2a2a" stroke-width="1.6"/>
<line x1="910.6" y1="414.7" x2="917.5" y2="414.7" stroke="#2a2a2a" stroke-width="1.6"/>
<line x1="910.6" y1="357.4" x2="917.5" y2="357.4" stroke="#2a2a2a" stroke-width="1.6"/>
<line x1="910.6" y1="300.2" x2="917.5" y2="300.2" stroke="#2a2a2a" stroke-width="1.6"/>
<line x1="910.6" y1="242.9" x2="917.5" y2="242.9" stroke="#2a2a2a" stroke-width="1.6"/>
<line x1="910.6" y1="185.6" x2="917.5" y2="185.6" stroke="#2a2a2a" stroke-width="1.6"/>
<line x1="910.6" y1="128.3" x2="917.5" y2="128.3" stroke="#2a2a2a" stroke-width="1.6"/>
<line x1="910.6" y1="71" x2="917.5" y2="71" stroke="#2a2a2a" stroke-width="1.6"/>
<line x1="910.6" y1="13.8" x2="917.5" y2="13.8" stroke="#2a2a2a" stroke-width="1.6"/>
<line x1="910.8" y1="528.3" x2="910.8" y2="521.8" stroke="#2a2a2a" stroke-width="1.6"/>
<line x1="997.3" y1="528.3" x2="997.3" y2="521.8" stroke="#2a2a2a" stroke-width="1.6"/>
<line x1="1083.8" y1="528.3" x2="1083.8" y2="521.8" stroke="#2a2a2a" stroke-width="1.6"/>
<line x1="1170.3" y1="528.3" x2="1170.3" y2="521.8" stroke="#2a2a2a" stroke-width="1.6"/>
<line x1="1256.8" y1="528.3" x2="1256.8" y2="521.8" stroke="#2a2a2a" stroke-width="1.6"/>
<line x1="1343.3" y1="528.3" x2="1343.3" y2="521.8" stroke="#2a2a2a" stroke-width="1.6"/>
<line x1="1429.8" y1="528.3" x2="1429.8" y2="521.8" stroke="#2a2a2a" stroke-width="1.6"/>
<line x1="1516.3" y1="528.3" x2="1516.3" y2="521.8" stroke="#2a2a2a" stroke-width="1.6"/>
<line x1="1602.8" y1="528.3" x2="1602.8" y2="521.8" stroke="#2a2a2a" stroke-width="1.6"/>
<text transform="translate(885.41,484.17) scale(1.0800,0.9862)" font-family="DejaVu Sans, sans-serif" font-size="30.70" fill="#000">0</text>
<text transform="translate(864.31,426.89) scale(1.0800,0.9862)" font-family="DejaVu Sans, sans-serif" font-size="30.70" fill="#000">10</text>
<text transform="translate(864.31,369.61) scale(1.0800,0.9862)" font-family="DejaVu Sans, sans-serif" font-size="30.70" fill="#000">20</text>
<text transform="translate(864.31,312.33) scale(1.0800,0.9862)" font-family="DejaVu Sans, sans-serif" font-size="30.70" fill="#000">30</text>
<text transform="translate(864.31,255.05) scale(1.0800,0.9862)" font-family="DejaVu Sans, sans-serif" font-size="30.70" fill="#000">40</text>
<text transform="translate(864.31,197.77) scale(1.0800,0.9862)" font-family="DejaVu Sans, sans-serif" font-size="30.70" fill="#000">50</text>
<text transform="translate(864.31,140.49) scale(1.0800,0.9862)" font-family="DejaVu Sans, sans-serif" font-size="30.70" fill="#000">60</text>
<text transform="translate(864.31,83.21) scale(1.0800,0.9862)" font-family="DejaVu Sans, sans-serif" font-size="30.70" fill="#000">70</text>
<text transform="translate(864.31,25.93) scale(1.0800,0.9862)" font-family="DejaVu Sans, sans-serif" font-size="30.70" fill="#000">80</text>
<text transform="translate(895.00,556.87) scale(1.1100,0.9981)" font-family="DejaVu Sans, sans-serif" font-size="30.60" fill="#000">0</text>
<text transform="translate(972.37,556.87) scale(1.1100,0.9981)" font-family="DejaVu Sans, sans-serif" font-size="30.60" fill="#000">20</text>
<text transform="translate(1060.19,556.87) scale(1.1100,0.9981)" font-family="DejaVu Sans, sans-serif" font-size="30.60" fill="#000">40</text>
<text transform="translate(1148.43,556.87) scale(1.1100,0.9981)" font-family="DejaVu Sans, sans-serif" font-size="30.60" fill="#000">60</text>
<text transform="translate(1234.86,556.87) scale(1.1100,0.9981)" font-family="DejaVu Sans, sans-serif" font-size="30.60" fill="#000">80</text>
<text transform="translate(1312.25,556.87) scale(1.1100,0.9981)" font-family="DejaVu Sans, sans-serif" font-size="30.60" fill="#000">100</text>
<text transform="translate(1400.75,556.87) scale(1.1100,0.9981)" font-family="DejaVu Sans, sans-serif" font-size="30.60" fill="#000">120</text>
<text transform="translate(1488.25,556.87) scale(1.1100,0.9981)" font-family="DejaVu Sans, sans-serif" font-size="30.60" fill="#000">140</text>
<text transform="translate(1572.55,556.87) scale(1.1100,0.9981)" font-family="DejaVu Sans, sans-serif" font-size="30.60" fill="#000">160</text>
<text transform="translate(1173.70,592.61) scale(1.0207,1.0000)" font-family="DejaVu Sans, sans-serif" font-size="33.31" fill="#000">Time (sec)</text>
<text transform="translate(827.93,468.55) rotate(-89.5) scale(0.9863,1.0000)" font-family="DejaVu Sans, sans-serif" font-size="32.55" fill="#000">Perfusion (mL/100g/min)</text>
<polyline points="915.6,337.9 921.1,339.9 926.6,349.5 932.1,351.9 937.6,334 943.1,374.5 948.6,338.6 954.1,358.9 959.6,355.8 965.1,377.6 970.6,373.7 976.1,376.8 981.6,373.7 987.1,379 992.6,380 998.1,396 1003.6,389.8 1009.1,384.4 1014.6,389 1020.1,387.5 1025.6,390.9 1031,408.5 1036.5,403 1042,413.2 1047.5,421.7 1053,406.2 1058.5,417.9 1064,419.4 1069.5,415.5 1075,418.6 1080.5,425.6 1086,415.5 1091.5,421.8 1097,429.7 1102.5,440.9 1108,443.4 1113.5,428.9 1119,454.6 1124.5,445.6 1130,464.3 1135.5,442 1141,439.8 1146.5,448.4 1152,448 1157.5,471 1163,440.6 1168.5,460 1174,467 1179.5,450 1185,456.8 1190.5,448 1196,444.9 1201.5,444.9 1207,458.1 1212.5,452 1218,450.6 1223.5,448 1229,450.1 1234.5,444.9 1240,454.2 1245.5,455.3 1251,447 1256.5,472.9 1261.9,456.8 1267.4,469.5 1272.9,460.5 1278.4,455.6 1283.9,450.2 1289.4,465.9 1294.9,461.7 1300.4,448.4 1305.9,456.5 1311.4,449.4 1316.9,451.6 1322.4,472.5 1327.9,462.5 1333.4,474 1338.9,456 1344.4,462.6 1349.9,471.5 1355.4,461.3 1360.9,471.9 1366.4,453.8 1371.9,463.2 1377.4,421.2 1382.9,435.7 1388.4,474 1393.9,451.5 1399.4,473.7 1404.9,458.3 1410.4,455.6 1415.9,445.1 1421.4,462.4 1426.9,437.1 1432.4,468.6 1437.9,458.4 1443.4,455.2 1448.9,463.6 1454.4,447.3 1459.9,456.3 1465.4,470.6 1470.9,474 1476.4,432.2 1481.9,463.2 1487.4,453.6 1492.8,446.8 1498.3,456.1 1503.8,468.6 1509.3,464.2 1514.8,458.8 1520.3,436 1525.8,467.8 1531.3,447 1536.8,447.8 1542.3,458 1547.8,474 1553.3,462.1 1558.8,463.5 1564.3,474 1569.8,454.2 1575.3,471.9 1580.8,455.5 1586.3,452.7 1591.8,472.9 1597.3,462.4 1602.8,455.2" fill="none" stroke="#9fd40c" stroke-width="4.6" stroke-linejoin="round"/>
<ellipse cx="915.6" cy="337.9" rx="6.4" ry="5.6" fill="#9fd40c"/><circle cx="915.6" cy="337.9" r="2.5" fill="#fff"/>
<ellipse cx="921.1" cy="339.9" rx="6.4" ry="5.6" fill="#9fd40c"/><circle cx="921.1" cy="339.9" r="2.5" fill="#fff"/>
<ellipse cx="926.6" cy="349.5" rx="6.4" ry="5.6" fill="#9fd40c"/><circle cx="926.6" cy="349.5" r="2.5" fill="#fff"/>
<ellipse cx="932.1" cy="351.9" rx="6.4" ry="5.6" fill="#9fd40c"/><circle cx="932.1" cy="351.9" r="2.5" fill="#fff"/>
<ellipse cx="937.6" cy="334" rx="6.4" ry="5.6" fill="#9fd40c"/><circle cx="937.6" cy="334" r="2.5" fill="#fff"/>
<ellipse cx="943.1" cy="374.5" rx="6.4" ry="5.6" fill="#9fd40c"/><circle cx="943.1" cy="374.5" r="2.5" fill="#fff"/>
<ellipse cx="948.6" cy="338.6" rx="6.4" ry="5.6" fill="#9fd40c"/><circle cx="948.6" cy="338.6" r="2.5" fill="#fff"/>
<ellipse cx="954.1" cy="358.9" rx="6.4" ry="5.6" fill="#9fd40c"/><circle cx="954.1" cy="358.9" r="2.5" fill="#fff"/>
<ellipse cx="959.6" cy="355.8" rx="6.4" ry="5.6" fill="#9fd40c"/><circle cx="959.6" cy="355.8" r="2.5" fill="#fff"/>
<ellipse cx="965.1" cy="377.6" rx="6.4" ry="5.6" fill="#9fd40c"/><circle cx="965.1" cy="377.6" r="2.5" fill="#fff"/>
<ellipse cx="970.6" cy="373.7" rx="6.4" ry="5.6" fill="#9fd40c"/><circle cx="970.6" cy="373.7" r="2.5" fill="#fff"/>
<ellipse cx="976.1" cy="376.8" rx="6.4" ry="5.6" fill="#9fd40c"/><circle cx="976.1" cy="376.8" r="2.5" fill="#fff"/>
<ellipse cx="981.6" cy="373.7" rx="6.4" ry="5.6" fill="#9fd40c"/><circle cx="981.6" cy="373.7" r="2.5" fill="#fff"/>
<ellipse cx="987.1" cy="379" rx="6.4" ry="5.6" fill="#9fd40c"/><circle cx="987.1" cy="379" r="2.5" fill="#fff"/>
<ellipse cx="992.6" cy="380" rx="6.4" ry="5.6" fill="#9fd40c"/><circle cx="992.6" cy="380" r="2.5" fill="#fff"/>
<ellipse cx="998.1" cy="396" rx="6.4" ry="5.6" fill="#9fd40c"/><circle cx="998.1" cy="396" r="2.5" fill="#fff"/>
<ellipse cx="1003.6" cy="389.8" rx="6.4" ry="5.6" fill="#9fd40c"/><circle cx="1003.6" cy="389.8" r="2.5" fill="#fff"/>
<ellipse cx="1009.1" cy="384.4" rx="6.4" ry="5.6" fill="#9fd40c"/><circle cx="1009.1" cy="384.4" r="2.5" fill="#fff"/>
<ellipse cx="1014.6" cy="389" rx="6.4" ry="5.6" fill="#9fd40c"/><circle cx="1014.6" cy="389" r="2.5" fill="#fff"/>
<ellipse cx="1020.1" cy="387.5" rx="6.4" ry="5.6" fill="#9fd40c"/><circle cx="1020.1" cy="387.5" r="2.5" fill="#fff"/>
<ellipse cx="1025.6" cy="390.9" rx="6.4" ry="5.6" fill="#9fd40c"/><circle cx="1025.6" cy="390.9" r="2.5" fill="#fff"/>
<ellipse cx="1031" cy="408.5" rx="6.4" ry="5.6" fill="#9fd40c"/><circle cx="1031" cy="408.5" r="2.5" fill="#fff"/>
<ellipse cx="1036.5" cy="403" rx="6.4" ry="5.6" fill="#9fd40c"/><circle cx="1036.5" cy="403" r="2.5" fill="#fff"/>
<ellipse cx="1042" cy="413.2" rx="6.4" ry="5.6" fill="#9fd40c"/><circle cx="1042" cy="413.2" r="2.5" fill="#fff"/>
<ellipse cx="1047.5" cy="421.7" rx="6.4" ry="5.6" fill="#9fd40c"/><circle cx="1047.5" cy="421.7" r="2.5" fill="#fff"/>
<ellipse cx="1053" cy="406.2" rx="6.4" ry="5.6" fill="#9fd40c"/><circle cx="1053" cy="406.2" r="2.5" fill="#fff"/>
<ellipse cx="1058.5" cy="417.9" rx="6.4" ry="5.6" fill="#9fd40c"/><circle cx="1058.5" cy="417.9" r="2.5" fill="#fff"/>
<ellipse cx="1064" cy="419.4" rx="6.4" ry="5.6" fill="#9fd40c"/><circle cx="1064" cy="419.4" r="2.5" fill="#fff"/>
<ellipse cx="1069.5" cy="415.5" rx="6.4" ry="5.6" fill="#9fd40c"/><circle cx="1069.5" cy="415.5" r="2.5" fill="#fff"/>
<ellipse cx="1075" cy="418.6" rx="6.4" ry="5.6" fill="#9fd40c"/><circle cx="1075" cy="418.6" r="2.5" fill="#fff"/>
<ellipse cx="1080.5" cy="425.6" rx="6.4" ry="5.6" fill="#9fd40c"/><circle cx="1080.5" cy="425.6" r="2.5" fill="#fff"/>
<ellipse cx="1086" cy="415.5" rx="6.4" ry="5.6" fill="#9fd40c"/><circle cx="1086" cy="415.5" r="2.5" fill="#fff"/>
<ellipse cx="1091.5" cy="421.8" rx="6.4" ry="5.6" fill="#9fd40c"/><circle cx="1091.5" cy="421.8" r="2.5" fill="#fff"/>
<ellipse cx="1097" cy="429.7" rx="6.4" ry="5.6" fill="#9fd40c"/><circle cx="1097" cy="429.7" r="2.5" fill="#fff"/>
<ellipse cx="1102.5" cy="440.9" rx="6.4" ry="5.6" fill="#9fd40c"/><circle cx="1102.5" cy="440.9" r="2.5" fill="#fff"/>
<ellipse cx="1108" cy="443.4" rx="6.4" ry="5.6" fill="#9fd40c"/><circle cx="1108" cy="443.4" r="2.5" fill="#fff"/>
<ellipse cx="1113.5" cy="428.9" rx="6.4" ry="5.6" fill="#9fd40c"/><circle cx="1113.5" cy="428.9" r="2.5" fill="#fff"/>
<ellipse cx="1119" cy="454.6" rx="6.4" ry="5.6" fill="#9fd40c"/><circle cx="1119" cy="454.6" r="2.5" fill="#fff"/>
<ellipse cx="1124.5" cy="445.6" rx="6.4" ry="5.6" fill="#9fd40c"/><circle cx="1124.5" cy="445.6" r="2.5" fill="#fff"/>
<ellipse cx="1130" cy="464.3" rx="6.4" ry="5.6" fill="#9fd40c"/><circle cx="1130" cy="464.3" r="2.5" fill="#fff"/>
<ellipse cx="1135.5" cy="442" rx="6.4" ry="5.6" fill="#9fd40c"/><circle cx="1135.5" cy="442" r="2.5" fill="#fff"/>
<ellipse cx="1141" cy="439.8" rx="6.4" ry="5.6" fill="#9fd40c"/><circle cx="1141" cy="439.8" r="2.5" fill="#fff"/>
<ellipse cx="1146.5" cy="448.4" rx="6.4" ry="5.6" fill="#9fd40c"/><circle cx="1146.5" cy="448.4" r="2.5" fill="#fff"/>
<ellipse cx="1152" cy="448" rx="6.4" ry="5.6" fill="#9fd40c"/><circle cx="1152" cy="448" r="2.5" fill="#fff"/>
<ellipse cx="1157.5" cy="471" rx="6.4" ry="5.6" fill="#9fd40c"/><circle cx="1157.5" cy="471" r="2.5" fill="#fff"/>
<ellipse cx="1163" cy="440.6" rx="6.4" ry="5.6" fill="#9fd40c"/><circle cx="1163" cy="440.6" r="2.5" fill="#fff"/>
<ellipse cx="1168.5" cy="460" rx="6.4" ry="5.6" fill="#9fd40c"/><circle cx="1168.5" cy="460" r="2.5" fill="#fff"/>
<ellipse cx="1174" cy="467" rx="6.4" ry="5.6" fill="#9fd40c"/><circle cx="1174" cy="467" r="2.5" fill="#fff"/>
<ellipse cx="1179.5" cy="450" rx="6.4" ry="5.6" fill="#9fd40c"/><circle cx="1179.5" cy="450" r="2.5" fill="#fff"/>
<ellipse cx="1185" cy="456.8" rx="6.4" ry="5.6" fill="#9fd40c"/><circle cx="1185" cy="456.8" r="2.5" fill="#fff"/>
<ellipse cx="1190.5" cy="448" rx="6.4" ry="5.6" fill="#9fd40c"/><circle cx="1190.5" cy="448" r="2.5" fill="#fff"/>
<ellipse cx="1196" cy="444.9" rx="6.4" ry="5.6" fill="#9fd40c"/><circle cx="1196" cy="444.9" r="2.5" fill="#fff"/>
<ellipse cx="1201.5" cy="444.9" rx="6.4" ry="5.6" fill="#9fd40c"/><circle cx="1201.5" cy="444.9" r="2.5" fill="#fff"/>
<ellipse cx="1207" cy="458.1" rx="6.4" ry="5.6" fill="#9fd40c"/><circle cx="1207" cy="458.1" r="2.5" fill="#fff"/>
<ellipse cx="1212.5" cy="452" rx="6.4" ry="5.6" fill="#9fd40c"/><circle cx="1212.5" cy="452" r="2.5" fill="#fff"/>
<ellipse cx="1218" cy="450.6" rx="6.4" ry="5.6" fill="#9fd40c"/><circle cx="1218" cy="450.6" r="2.5" fill="#fff"/>
<ellipse cx="1223.5" cy="448" rx="6.4" ry="5.6" fill="#9fd40c"/><circle cx="1223.5" cy="448" r="2.5" fill="#fff"/>
<ellipse cx="1229" cy="450.1" rx="6.4" ry="5.6" fill="#9fd40c"/><circle cx="1229" cy="450.1" r="2.5" fill="#fff"/>
<ellipse cx="1234.5" cy="444.9" rx="6.4" ry="5.6" fill="#9fd40c"/><circle cx="1234.5" cy="444.9" r="2.5" fill="#fff"/>
<ellipse cx="1240" cy="454.2" rx="6.4" ry="5.6" fill="#9fd40c"/><circle cx="1240" cy="454.2" r="2.5" fill="#fff"/>
<ellipse cx="1245.5" cy="455.3" rx="6.4" ry="5.6" fill="#9fd40c"/><circle cx="1245.5" cy="455.3" r="2.5" fill="#fff"/>
<ellipse cx="1251" cy="447" rx="6.4" ry="5.6" fill="#9fd40c"/><circle cx="1251" cy="447" r="2.5" fill="#fff"/>
<ellipse cx="1256.5" cy="472.9" rx="6.4" ry="5.6" fill="#9fd40c"/><circle cx="1256.5" cy="472.9" r="2.5" fill="#fff"/>
<ellipse cx="1261.9" cy="456.8" rx="6.4" ry="5.6" fill="#9fd40c"/><circle cx="1261.9" cy="456.8" r="2.5" fill="#fff"/>
<ellipse cx="1267.4" cy="469.5" rx="6.4" ry="5.6" fill="#9fd40c"/><circle cx="1267.4" cy="469.5" r="2.5" fill="#fff"/>
<ellipse cx="1272.9" cy="460.5" rx="6.4" ry="5.6" fill="#9fd40c"/><circle cx="1272.9" cy="460.5" r="2.5" fill="#fff"/>
<ellipse cx="1278.4" cy="455.6" rx="6.4" ry="5.6" fill="#9fd40c"/><circle cx="1278.4" cy="455.6" r="2.5" fill="#fff"/>
<ellipse cx="1283.9" cy="450.2" rx="6.4" ry="5.6" fill="#9fd40c"/><circle cx="1283.9" cy="450.2" r="2.5" fill="#fff"/>
<ellipse cx="1289.4" cy="465.9" rx="6.4" ry="5.6" fill="#9fd40c"/><circle cx="1289.4" cy="465.9" r="2.5" fill="#fff"/>
<ellipse cx="1294.9" cy="461.7" rx="6.4" ry="5.6" fill="#9fd40c"/><circle cx="1294.9" cy="461.7" r="2.5" fill="#fff"/>
<ellipse cx="1300.4" cy="448.4" rx="6.4" ry="5.6" fill="#9fd40c"/><circle cx="1300.4" cy="448.4" r="2.5" fill="#fff"/>
<ellipse cx="1305.9" cy="456.5" rx="6.4" ry="5.6" fill="#9fd40c"/><circle cx="1305.9" cy="456.5" r="2.5" fill="#fff"/>
<ellipse cx="1311.4" cy="449.4" rx="6.4" ry="5.6" fill="#9fd40c"/><circle cx="1311.4" cy="449.4" r="2.5" fill="#fff"/>
<ellipse cx="1316.9" cy="451.6" rx="6.4" ry="5.6" fill="#9fd40c"/><circle cx="1316.9" cy="451.6" r="2.5" fill="#fff"/>
<ellipse cx="1322.4" cy="472.5" rx="6.4" ry="5.6" fill="#9fd40c"/><circle cx="1322.4" cy="472.5" r="2.5" fill="#fff"/>
<ellipse cx="1327.9" cy="462.5" rx="6.4" ry="5.6" fill="#9fd40c"/><circle cx="1327.9" cy="462.5" r="2.5" fill="#fff"/>
<ellipse cx="1333.4" cy="474" rx="6.4" ry="5.6" fill="#9fd40c"/><circle cx="1333.4" cy="474" r="2.5" fill="#fff"/>
<ellipse cx="1338.9" cy="456" rx="6.4" ry="5.6" fill="#9fd40c"/><circle cx="1338.9" cy="456" r="2.5" fill="#fff"/>
<ellipse cx="1344.4" cy="462.6" rx="6.4" ry="5.6" fill="#9fd40c"/><circle cx="1344.4" cy="462.6" r="2.5" fill="#fff"/>
<ellipse cx="1349.9" cy="471.5" rx="6.4" ry="5.6" fill="#9fd40c"/><circle cx="1349.9" cy="471.5" r="2.5" fill="#fff"/>
<ellipse cx="1355.4" cy="461.3" rx="6.4" ry="5.6" fill="#9fd40c"/><circle cx="1355.4" cy="461.3" r="2.5" fill="#fff"/>
<ellipse cx="1360.9" cy="471.9" rx="6.4" ry="5.6" fill="#9fd40c"/><circle cx="1360.9" cy="471.9" r="2.5" fill="#fff"/>
<ellipse cx="1366.4" cy="453.8" rx="6.4" ry="5.6" fill="#9fd40c"/><circle cx="1366.4" cy="453.8" r="2.5" fill="#fff"/>
<ellipse cx="1371.9" cy="463.2" rx="6.4" ry="5.6" fill="#9fd40c"/><circle cx="1371.9" cy="463.2" r="2.5" fill="#fff"/>
<ellipse cx="1377.4" cy="421.2" rx="6.4" ry="5.6" fill="#9fd40c"/><circle cx="1377.4" cy="421.2" r="2.5" fill="#fff"/>
<ellipse cx="1382.9" cy="435.7" rx="6.4" ry="5.6" fill="#9fd40c"/><circle cx="1382.9" cy="435.7" r="2.5" fill="#fff"/>
<ellipse cx="1388.4" cy="474" rx="6.4" ry="5.6" fill="#9fd40c"/><circle cx="1388.4" cy="474" r="2.5" fill="#fff"/>
<ellipse cx="1393.9" cy="451.5" rx="6.4" ry="5.6" fill="#9fd40c"/><circle cx="1393.9" cy="451.5" r="2.5" fill="#fff"/>
<ellipse cx="1399.4" cy="473.7" rx="6.4" ry="5.6" fill="#9fd40c"/><circle cx="1399.4" cy="473.7" r="2.5" fill="#fff"/>
<ellipse cx="1404.9" cy="458.3" rx="6.4" ry="5.6" fill="#9fd40c"/><circle cx="1404.9" cy="458.3" r="2.5" fill="#fff"/>
<ellipse cx="1410.4" cy="455.6" rx="6.4" ry="5.6" fill="#9fd40c"/><circle cx="1410.4" cy="455.6" r="2.5" fill="#fff"/>
<ellipse cx="1415.9" cy="445.1" rx="6.4" ry="5.6" fill="#9fd40c"/><circle cx="1415.9" cy="445.1" r="2.5" fill="#fff"/>
<ellipse cx="1421.4" cy="462.4" rx="6.4" ry="5.6" fill="#9fd40c"/><circle cx="1421.4" cy="462.4" r="2.5" fill="#fff"/>
<ellipse cx="1426.9" cy="437.1" rx="6.4" ry="5.6" fill="#9fd40c"/><circle cx="1426.9" cy="437.1" r="2.5" fill="#fff"/>
<ellipse cx="1432.4" cy="468.6" rx="6.4" ry="5.6" fill="#9fd40c"/><circle cx="1432.4" cy="468.6" r="2.5" fill="#fff"/>
<ellipse cx="1437.9" cy="458.4" rx="6.4" ry="5.6" fill="#9fd40c"/><circle cx="1437.9" cy="458.4" r="2.5" fill="#fff"/>
<ellipse cx="1443.4" cy="455.2" rx="6.4" ry="5.6" fill="#9fd40c"/><circle cx="1443.4" cy="455.2" r="2.5" fill="#fff"/>
<ellipse cx="1448.9" cy="463.6" rx="6.4" ry="5.6" fill="#9fd40c"/><circle cx="1448.9" cy="463.6" r="2.5" fill="#fff"/>
<ellipse cx="1454.4" cy="447.3" rx="6.4" ry="5.6" fill="#9fd40c"/><circle cx="1454.4" cy="447.3" r="2.5" fill="#fff"/>
<ellipse cx="1459.9" cy="456.3" rx="6.4" ry="5.6" fill="#9fd40c"/><circle cx="1459.9" cy="456.3" r="2.5" fill="#fff"/>
<ellipse cx="1465.4" cy="470.6" rx="6.4" ry="5.6" fill="#9fd40c"/><circle cx="1465.4" cy="470.6" r="2.5" fill="#fff"/>
<ellipse cx="1470.9" cy="474" rx="6.4" ry="5.6" fill="#9fd40c"/><circle cx="1470.9" cy="474" r="2.5" fill="#fff"/>
<ellipse cx="1476.4" cy="432.2" rx="6.4" ry="5.6" fill="#9fd40c"/><circle cx="1476.4" cy="432.2" r="2.5" fill="#fff"/>
<ellipse cx="1481.9" cy="463.2" rx="6.4" ry="5.6" fill="#9fd40c"/><circle cx="1481.9" cy="463.2" r="2.5" fill="#fff"/>
<ellipse cx="1487.4" cy="453.6" rx="6.4" ry="5.6" fill="#9fd40c"/><circle cx="1487.4" cy="453.6" r="2.5" fill="#fff"/>
<ellipse cx="1492.8" cy="446.8" rx="6.4" ry="5.6" fill="#9fd40c"/><circle cx="1492.8" cy="446.8" r="2.5" fill="#fff"/>
<ellipse cx="1498.3" cy="456.1" rx="6.4" ry="5.6" fill="#9fd40c"/><circle cx="1498.3" cy="456.1" r="2.5" fill="#fff"/>
<ellipse cx="1503.8" cy="468.6" rx="6.4" ry="5.6" fill="#9fd40c"/><circle cx="1503.8" cy="468.6" r="2.5" fill="#fff"/>
<ellipse cx="1509.3" cy="464.2" rx="6.4" ry="5.6" fill="#9fd40c"/><circle cx="1509.3" cy="464.2" r="2.5" fill="#fff"/>
<ellipse cx="1514.8" cy="458.8" rx="6.4" ry="5.6" fill="#9fd40c"/><circle cx="1514.8" cy="458.8" r="2.5" fill="#fff"/>
<ellipse cx="1520.3" cy="436" rx="6.4" ry="5.6" fill="#9fd40c"/><circle cx="1520.3" cy="436" r="2.5" fill="#fff"/>
<ellipse cx="1525.8" cy="467.8" rx="6.4" ry="5.6" fill="#9fd40c"/><circle cx="1525.8" cy="467.8" r="2.5" fill="#fff"/>
<ellipse cx="1531.3" cy="447" rx="6.4" ry="5.6" fill="#9fd40c"/><circle cx="1531.3" cy="447" r="2.5" fill="#fff"/>
<ellipse cx="1536.8" cy="447.8" rx="6.4" ry="5.6" fill="#9fd40c"/><circle cx="1536.8" cy="447.8" r="2.5" fill="#fff"/>
<ellipse cx="1542.3" cy="458" rx="6.4" ry="5.6" fill="#9fd40c"/><circle cx="1542.3" cy="458" r="2.5" fill="#fff"/>
<ellipse cx="1547.8" cy="474" rx="6.4" ry="5.6" fill="#9fd40c"/><circle cx="1547.8" cy="474" r="2.5" fill="#fff"/>
<ellipse cx="1553.3" cy="462.1" rx="6.4" ry="5.6" fill="#9fd40c"/><circle cx="1553.3" cy="462.1" r="2.5" fill="#fff"/>
<ellipse cx="1558.8" cy="463.5" rx="6.4" ry="5.6" fill="#9fd40c"/><circle cx="1558.8" cy="463.5" r="2.5" fill="#fff"/>
<ellipse cx="1564.3" cy="474" rx="6.4" ry="5.6" fill="#9fd40c"/><circle cx="1564.3" cy="474" r="2.5" fill="#fff"/>
<ellipse cx="1569.8" cy="454.2" rx="6.4" ry="5.6" fill="#9fd40c"/><circle cx="1569.8" cy="454.2" r="2.5" fill="#fff"/>
<ellipse cx="1575.3" cy="471.9" rx="6.4" ry="5.6" fill="#9fd40c"/><circle cx="1575.3" cy="471.9" r="2.5" fill="#fff"/>
<ellipse cx="1580.8" cy="455.5" rx="6.4" ry="5.6" fill="#9fd40c"/><circle cx="1580.8" cy="455.5" r="2.5" fill="#fff"/>
<ellipse cx="1586.3" cy="452.7" rx="6.4" ry="5.6" fill="#9fd40c"/><circle cx="1586.3" cy="452.7" r="2.5" fill="#fff"/>
<ellipse cx="1591.8" cy="472.9" rx="6.4" ry="5.6" fill="#9fd40c"/><circle cx="1591.8" cy="472.9" r="2.5" fill="#fff"/>
<ellipse cx="1597.3" cy="462.4" rx="6.4" ry="5.6" fill="#9fd40c"/><circle cx="1597.3" cy="462.4" r="2.5" fill="#fff"/>
<ellipse cx="1602.8" cy="455.2" rx="6.4" ry="5.6" fill="#9fd40c"/><circle cx="1602.8" cy="455.2" r="2.5" fill="#fff"/>
<polyline points="915.6,219.9 921.1,238.9 926.6,268.5 932.1,284.1 937.6,267.8 943.1,338.3 948.6,286.9 954.1,319.9 959.6,315.3 965.1,350.3 970.6,329 976.1,329.3 981.6,325.4 987.1,354.2 992.6,327.7 998.1,354.9 1003.6,346.6 1009.1,338.9 1014.6,353.2 1020.1,352.4 1025.6,359.1 1031,382 1036.5,371.1 1042,387.2 1047.5,396.8 1053,375 1058.5,386.7 1064,387.5 1069.5,374.2 1075,378.4 1080.5,388.3 1086,371.9 1091.5,379.6 1097,395.1 1102.5,404.5 1108,402.4 1113.5,382.6 1119,422.7 1124.5,407.9 1130,435.6 1135.5,392 1141,397.8 1146.5,408.7 1152,409.8 1157.5,448.7 1163,408 1168.5,457 1174,464.3 1179.5,432 1185,449.8 1190.5,430.9 1196,428.8 1201.5,428.8 1207,450.4 1212.5,435.9 1218,441.5 1223.5,427.8 1229,431.4 1234.5,423.6 1240,437.6 1245.5,437.3 1251,418.9 1256.5,462 1261.9,436.9 1267.4,445.9 1272.9,438.2 1278.4,424.5 1283.9,427.2 1289.4,456.9 1294.9,452.6 1300.4,448.1 1305.9,456.9 1311.4,447.8 1316.9,452.3 1322.4,471.4 1327.9,462 1333.4,486.9 1338.9,455 1344.4,463.5 1349.9,470.8 1355.4,462 1360.9,472.5 1366.4,453.1 1371.9,460.9 1377.4,421.7 1382.9,435.8 1388.4,484.2 1393.9,448.7 1399.4,472.4 1404.9,457.7 1410.4,452.7 1415.9,445.9 1421.4,460 1426.9,436.9 1432.4,469 1437.9,458.9 1443.4,455 1448.9,461.3 1454.4,447.6 1459.9,455 1465.4,469 1470.9,484.2 1476.4,431 1481.9,463.9 1487.4,454.4 1492.8,447 1498.3,454.4 1503.8,467.9 1509.3,463.9 1514.8,457.5 1520.3,435.2 1525.8,467.6 1531.3,444.8 1536.8,446 1542.3,458 1547.8,473.7 1553.3,461 1558.8,461 1564.3,478 1569.8,454 1575.3,469 1580.8,456 1586.3,452 1591.8,470.9 1597.3,462.8 1602.8,454.2" fill="none" stroke="#3aa512" stroke-width="4.6" stroke-linejoin="round"/>
<ellipse cx="915.6" cy="219.9" rx="6.4" ry="5.6" fill="#3aa512"/><circle cx="915.6" cy="219.9" r="2.5" fill="#fff"/>
<ellipse cx="921.1" cy="238.9" rx="6.4" ry="5.6" fill="#3aa512"/><circle cx="921.1" cy="238.9" r="2.5" fill="#fff"/>
<ellipse cx="926.6" cy="268.5" rx="6.4" ry="5.6" fill="#3aa512"/><circle cx="926.6" cy="268.5" r="2.5" fill="#fff"/>
<ellipse cx="932.1" cy="284.1" rx="6.4" ry="5.6" fill="#3aa512"/><circle cx="932.1" cy="284.1" r="2.5" fill="#fff"/>
<ellipse cx="937.6" cy="267.8" rx="6.4" ry="5.6" fill="#3aa512"/><circle cx="937.6" cy="267.8" r="2.5" fill="#fff"/>
<ellipse cx="943.1" cy="338.3" rx="6.4" ry="5.6" fill="#3aa512"/><circle cx="943.1" cy="338.3" r="2.5" fill="#fff"/>
<ellipse cx="948.6" cy="286.9" rx="6.4" ry="5.6" fill="#3aa512"/><circle cx="948.6" cy="286.9" r="2.5" fill="#fff"/>
<ellipse cx="954.1" cy="319.9" rx="6.4" ry="5.6" fill="#3aa512"/><circle cx="954.1" cy="319.9" r="2.5" fill="#fff"/>
<ellipse cx="959.6" cy="315.3" rx="6.4" ry="5.6" fill="#3aa512"/><circle cx="959.6" cy="315.3" r="2.5" fill="#fff"/>
<ellipse cx="965.1" cy="350.3" rx="6.4" ry="5.6" fill="#3aa512"/><circle cx="965.1" cy="350.3" r="2.5" fill="#fff"/>
<ellipse cx="970.6" cy="329" rx="6.4" ry="5.6" fill="#3aa512"/><circle cx="970.6" cy="329" r="2.5" fill="#fff"/>
<ellipse cx="976.1" cy="329.3" rx="6.4" ry="5.6" fill="#3aa512"/><circle cx="976.1" cy="329.3" r="2.5" fill="#fff"/>
<ellipse cx="981.6" cy="325.4" rx="6.4" ry="5.6" fill="#3aa512"/><circle cx="981.6" cy="325.4" r="2.5" fill="#fff"/>
<ellipse cx="987.1" cy="354.2" rx="6.4" ry="5.6" fill="#3aa512"/><circle cx="987.1" cy="354.2" r="2.5" fill="#fff"/>
<ellipse cx="992.6" cy="327.7" rx="6.4" ry="5.6" fill="#3aa512"/><circle cx="992.6" cy="327.7" r="2.5" fill="#fff"/>
<ellipse cx="998.1" cy="354.9" rx="6.4" ry="5.6" fill="#3aa512"/><circle cx="998.1" cy="354.9" r="2.5" fill="#fff"/>
<ellipse cx="1003.6" cy="346.6" rx="6.4" ry="5.6" fill="#3aa512"/><circle cx="1003.6" cy="346.6" r="2.5" fill="#fff"/>
<ellipse cx="1009.1" cy="338.9" rx="6.4" ry="5.6" fill="#3aa512"/><circle cx="1009.1" cy="338.9" r="2.5" fill="#fff"/>
<ellipse cx="1014.6" cy="353.2" rx="6.4" ry="5.6" fill="#3aa512"/><circle cx="1014.6" cy="353.2" r="2.5" fill="#fff"/>
<ellipse cx="1020.1" cy="352.4" rx="6.4" ry="5.6" fill="#3aa512"/><circle cx="1020.1" cy="352.4" r="2.5" fill="#fff"/>
<ellipse cx="1025.6" cy="359.1" rx="6.4" ry="5.6" fill="#3aa512"/><circle cx="1025.6" cy="359.1" r="2.5" fill="#fff"/>
<ellipse cx="1031" cy="382" rx="6.4" ry="5.6" fill="#3aa512"/><circle cx="1031" cy="382" r="2.5" fill="#fff"/>
<ellipse cx="1036.5" cy="371.1" rx="6.4" ry="5.6" fill="#3aa512"/><circle cx="1036.5" cy="371.1" r="2.5" fill="#fff"/>
<ellipse cx="1042" cy="387.2" rx="6.4" ry="5.6" fill="#3aa512"/><circle cx="1042" cy="387.2" r="2.5" fill="#fff"/>
<ellipse cx="1047.5" cy="396.8" rx="6.4" ry="5.6" fill="#3aa512"/><circle cx="1047.5" cy="396.8" r="2.5" fill="#fff"/>
<ellipse cx="1053" cy="375" rx="6.4" ry="5.6" fill="#3aa512"/><circle cx="1053" cy="375" r="2.5" fill="#fff"/>
<ellipse cx="1058.5" cy="386.7" rx="6.4" ry="5.6" fill="#3aa512"/><circle cx="1058.5" cy="386.7" r="2.5" fill="#fff"/>
<ellipse cx="1064" cy="387.5" rx="6.4" ry="5.6" fill="#3aa512"/><circle cx="1064" cy="387.5" r="2.5" fill="#fff"/>
<ellipse cx="1069.5" cy="374.2" rx="6.4" ry="5.6" fill="#3aa512"/><circle cx="1069.5" cy="374.2" r="2.5" fill="#fff"/>
<ellipse cx="1075" cy="378.4" rx="6.4" ry="5.6" fill="#3aa512"/><circle cx="1075" cy="378.4" r="2.5" fill="#fff"/>
<ellipse cx="1080.5" cy="388.3" rx="6.4" ry="5.6" fill="#3aa512"/><circle cx="1080.5" cy="388.3" r="2.5" fill="#fff"/>
<ellipse cx="1086" cy="371.9" rx="6.4" ry="5.6" fill="#3aa512"/><circle cx="1086" cy="371.9" r="2.5" fill="#fff"/>
<ellipse cx="1091.5" cy="379.6" rx="6.4" ry="5.6" fill="#3aa512"/><circle cx="1091.5" cy="379.6" r="2.5" fill="#fff"/>
<ellipse cx="1097" cy="395.1" rx="6.4" ry="5.6" fill="#3aa512"/><circle cx="1097" cy="395.1" r="2.5" fill="#fff"/>
<ellipse cx="1102.5" cy="404.5" rx="6.4" ry="5.6" fill="#3aa512"/><circle cx="1102.5" cy="404.5" r="2.5" fill="#fff"/>
<ellipse cx="1108" cy="402.4" rx="6.4" ry="5.6" fill="#3aa512"/><circle cx="1108" cy="402.4" r="2.5" fill="#fff"/>
<ellipse cx="1113.5" cy="382.6" rx="6.4" ry="5.6" fill="#3aa512"/><circle cx="1113.5" cy="382.6" r="2.5" fill="#fff"/>
<ellipse cx="1119" cy="422.7" rx="6.4" ry="5.6" fill="#3aa512"/><circle cx="1119" cy="422.7" r="2.5" fill="#fff"/>
<ellipse cx="1124.5" cy="407.9" rx="6.4" ry="5.6" fill="#3aa512"/><circle cx="1124.5" cy="407.9" r="2.5" fill="#fff"/>
<ellipse cx="1130" cy="435.6" rx="6.4" ry="5.6" fill="#3aa512"/><circle cx="1130" cy="435.6" r="2.5" fill="#fff"/>
<ellipse cx="1135.5" cy="392" rx="6.4" ry="5.6" fill="#3aa512"/><circle cx="1135.5" cy="392" r="2.5" fill="#fff"/>
<ellipse cx="1141" cy="397.8" rx="6.4" ry="5.6" fill="#3aa512"/><circle cx="1141" cy="397.8" r="2.5" fill="#fff"/>
<ellipse cx="1146.5" cy="408.7" rx="6.4" ry="5.6" fill="#3aa512"/><circle cx="1146.5" cy="408.7" r="2.5" fill="#fff"/>
<ellipse cx="1152" cy="409.8" rx="6.4" ry="5.6" fill="#3aa512"/><circle cx="1152" cy="409.8" r="2.5" fill="#fff"/>
<ellipse cx="1157.5" cy="448.7" rx="6.4" ry="5.6" fill="#3aa512"/><circle cx="1157.5" cy="448.7" r="2.5" fill="#fff"/>
<ellipse cx="1163" cy="408" rx="6.4" ry="5.6" fill="#3aa512"/><circle cx="1163" cy="408" r="2.5" fill="#fff"/>
<ellipse cx="1168.5" cy="457" rx="6.4" ry="5.6" fill="#3aa512"/><circle cx="1168.5" cy="457" r="2.5" fill="#fff"/>
<ellipse cx="1174" cy="464.3" rx="6.4" ry="5.6" fill="#3aa512"/><circle cx="1174" cy="464.3" r="2.5" fill="#fff"/>
<ellipse cx="1179.5" cy="432" rx="6.4" ry="5.6" fill="#3aa512"/><circle cx="1179.5" cy="432" r="2.5" fill="#fff"/>
<ellipse cx="1185" cy="449.8" rx="6.4" ry="5.6" fill="#3aa512"/><circle cx="1185" cy="449.8" r="2.5" fill="#fff"/>
<ellipse cx="1190.5" cy="430.9" rx="6.4" ry="5.6" fill="#3aa512"/><circle cx="1190.5" cy="430.9" r="2.5" fill="#fff"/>
<ellipse cx="1196" cy="428.8" rx="6.4" ry="5.6" fill="#3aa512"/><circle cx="1196" cy="428.8" r="2.5" fill="#fff"/>
<ellipse cx="1201.5" cy="428.8" rx="6.4" ry="5.6" fill="#3aa512"/><circle cx="1201.5" cy="428.8" r="2.5" fill="#fff"/>
<ellipse cx="1207" cy="450.4" rx="6.4" ry="5.6" fill="#3aa512"/><circle cx="1207" cy="450.4" r="2.5" fill="#fff"/>
<ellipse cx="1212.5" cy="435.9" rx="6.4" ry="5.6" fill="#3aa512"/><circle cx="1212.5" cy="435.9" r="2.5" fill="#fff"/>
<ellipse cx="1218" cy="441.5" rx="6.4" ry="5.6" fill="#3aa512"/><circle cx="1218" cy="441.5" r="2.5" fill="#fff"/>
<ellipse cx="1223.5" cy="427.8" rx="6.4" ry="5.6" fill="#3aa512"/><circle cx="1223.5" cy="427.8" r="2.5" fill="#fff"/>
<ellipse cx="1229" cy="431.4" rx="6.4" ry="5.6" fill="#3aa512"/><circle cx="1229" cy="431.4" r="2.5" fill="#fff"/>
<ellipse cx="1234.5" cy="423.6" rx="6.4" ry="5.6" fill="#3aa512"/><circle cx="1234.5" cy="423.6" r="2.5" fill="#fff"/>
<ellipse cx="1240" cy="437.6" rx="6.4" ry="5.6" fill="#3aa512"/><circle cx="1240" cy="437.6" r="2.5" fill="#fff"/>
<ellipse cx="1245.5" cy="437.3" rx="6.4" ry="5.6" fill="#3aa512"/><circle cx="1245.5" cy="437.3" r="2.5" fill="#fff"/>
<ellipse cx="1251" cy="418.9" rx="6.4" ry="5.6" fill="#3aa512"/><circle cx="1251" cy="418.9" r="2.5" fill="#fff"/>
<ellipse cx="1256.5" cy="462" rx="6.4" ry="5.6" fill="#3aa512"/><circle cx="1256.5" cy="462" r="2.5" fill="#fff"/>
<ellipse cx="1261.9" cy="436.9" rx="6.4" ry="5.6" fill="#3aa512"/><circle cx="1261.9" cy="436.9" r="2.5" fill="#fff"/>
<ellipse cx="1267.4" cy="445.9" rx="6.4" ry="5.6" fill="#3aa512"/><circle cx="1267.4" cy="445.9" r="2.5" fill="#fff"/>
<ellipse cx="1272.9" cy="438.2" rx="6.4" ry="5.6" fill="#3aa512"/><circle cx="1272.9" cy="438.2" r="2.5" fill="#fff"/>
<ellipse cx="1278.4" cy="424.5" rx="6.4" ry="5.6" fill="#3aa512"/><circle cx="1278.4" cy="424.5" r="2.5" fill="#fff"/>
<ellipse cx="1283.9" cy="427.2" rx="6.4" ry="5.6" fill="#3aa512"/><circle cx="1283.9" cy="427.2" r="2.5" fill="#fff"/>
<ellipse cx="1289.4" cy="456.9" rx="6.4" ry="5.6" fill="#3aa512"/><circle cx="1289.4" cy="456.9" r="2.5" fill="#fff"/>
<ellipse cx="1294.9" cy="452.6" rx="6.4" ry="5.6" fill="#3aa512"/><circle cx="1294.9" cy="452.6" r="2.5" fill="#fff"/>
<ellipse cx="1300.4" cy="448.1" rx="6.4" ry="5.6" fill="#3aa512"/><circle cx="1300.4" cy="448.1" r="2.5" fill="#fff"/>
<ellipse cx="1305.9" cy="456.9" rx="6.4" ry="5.6" fill="#3aa512"/><circle cx="1305.9" cy="456.9" r="2.5" fill="#fff"/>
<ellipse cx="1311.4" cy="447.8" rx="6.4" ry="5.6" fill="#3aa512"/><circle cx="1311.4" cy="447.8" r="2.5" fill="#fff"/>
<ellipse cx="1316.9" cy="452.3" rx="6.4" ry="5.6" fill="#3aa512"/><circle cx="1316.9" cy="452.3" r="2.5" fill="#fff"/>
<ellipse cx="1322.4" cy="471.4" rx="6.4" ry="5.6" fill="#3aa512"/><circle cx="1322.4" cy="471.4" r="2.5" fill="#fff"/>
<ellipse cx="1327.9" cy="462" rx="6.4" ry="5.6" fill="#3aa512"/><circle cx="1327.9" cy="462" r="2.5" fill="#fff"/>
<ellipse cx="1333.4" cy="486.9" rx="6.4" ry="5.6" fill="#3aa512"/><circle cx="1333.4" cy="486.9" r="2.5" fill="#fff"/>
<ellipse cx="1338.9" cy="455" rx="6.4" ry="5.6" fill="#3aa512"/><circle cx="1338.9" cy="455" r="2.5" fill="#fff"/>
<ellipse cx="1344.4" cy="463.5" rx="6.4" ry="5.6" fill="#3aa512"/><circle cx="1344.4" cy="463.5" r="2.5" fill="#fff"/>
<ellipse cx="1349.9" cy="470.8" rx="6.4" ry="5.6" fill="#3aa512"/><circle cx="1349.9" cy="470.8" r="2.5" fill="#fff"/>
<ellipse cx="1355.4" cy="462" rx="6.4" ry="5.6" fill="#3aa512"/><circle cx="1355.4" cy="462" r="2.5" fill="#fff"/>
<ellipse cx="1360.9" cy="472.5" rx="6.4" ry="5.6" fill="#3aa512"/><circle cx="1360.9" cy="472.5" r="2.5" fill="#fff"/>
<ellipse cx="1366.4" cy="453.1" rx="6.4" ry="5.6" fill="#3aa512"/><circle cx="1366.4" cy="453.1" r="2.5" fill="#fff"/>
<ellipse cx="1371.9" cy="460.9" rx="6.4" ry="5.6" fill="#3aa512"/><circle cx="1371.9" cy="460.9" r="2.5" fill="#fff"/>
<ellipse cx="1377.4" cy="421.7" rx="6.4" ry="5.6" fill="#3aa512"/><circle cx="1377.4" cy="421.7" r="2.5" fill="#fff"/>
<ellipse cx="1382.9" cy="435.8" rx="6.4" ry="5.6" fill="#3aa512"/><circle cx="1382.9" cy="435.8" r="2.5" fill="#fff"/>
<ellipse cx="1388.4" cy="484.2" rx="6.4" ry="5.6" fill="#3aa512"/><circle cx="1388.4" cy="484.2" r="2.5" fill="#fff"/>
<ellipse cx="1393.9" cy="448.7" rx="6.4" ry="5.6" fill="#3aa512"/><circle cx="1393.9" cy="448.7" r="2.5" fill="#fff"/>
<ellipse cx="1399.4" cy="472.4" rx="6.4" ry="5.6" fill="#3aa512"/><circle cx="1399.4" cy="472.4" r="2.5" fill="#fff"/>
<ellipse cx="1404.9" cy="457.7" rx="6.4" ry="5.6" fill="#3aa512"/><circle cx="1404.9" cy="457.7" r="2.5" fill="#fff"/>
<ellipse cx="1410.4" cy="452.7" rx="6.4" ry="5.6" fill="#3aa512"/><circle cx="1410.4" cy="452.7" r="2.5" fill="#fff"/>
<ellipse cx="1415.9" cy="445.9" rx="6.4" ry="5.6" fill="#3aa512"/><circle cx="1415.9" cy="445.9" r="2.5" fill="#fff"/>
<ellipse cx="1421.4" cy="460" rx="6.4" ry="5.6" fill="#3aa512"/><circle cx="1421.4" cy="460" r="2.5" fill="#fff"/>
<ellipse cx="1426.9" cy="436.9" rx="6.4" ry="5.6" fill="#3aa512"/><circle cx="1426.9" cy="436.9" r="2.5" fill="#fff"/>
<ellipse cx="1432.4" cy="469" rx="6.4" ry="5.6" fill="#3aa512"/><circle cx="1432.4" cy="469" r="2.5" fill="#fff"/>
<ellipse cx="1437.9" cy="458.9" rx="6.4" ry="5.6" fill="#3aa512"/><circle cx="1437.9" cy="458.9" r="2.5" fill="#fff"/>
<ellipse cx="1443.4" cy="455" rx="6.4" ry="5.6" fill="#3aa512"/><circle cx="1443.4" cy="455" r="2.5" fill="#fff"/>
<ellipse cx="1448.9" cy="461.3" rx="6.4" ry="5.6" fill="#3aa512"/><circle cx="1448.9" cy="461.3" r="2.5" fill="#fff"/>
<ellipse cx="1454.4" cy="447.6" rx="6.4" ry="5.6" fill="#3aa512"/><circle cx="1454.4" cy="447.6" r="2.5" fill="#fff"/>
<ellipse cx="1459.9" cy="455" rx="6.4" ry="5.6" fill="#3aa512"/><circle cx="1459.9" cy="455" r="2.5" fill="#fff"/>
<ellipse cx="1465.4" cy="469" rx="6.4" ry="5.6" fill="#3aa512"/><circle cx="1465.4" cy="469" r="2.5" fill="#fff"/>
<ellipse cx="1470.9" cy="484.2" rx="6.4" ry="5.6" fill="#3aa512"/><circle cx="1470.9" cy="484.2" r="2.5" fill="#fff"/>
<ellipse cx="1476.4" cy="431" rx="6.4" ry="5.6" fill="#3aa512"/><circle cx="1476.4" cy="431" r="2.5" fill="#fff"/>
<ellipse cx="1481.9" cy="463.9" rx="6.4" ry="5.6" fill="#3aa512"/><circle cx="1481.9" cy="463.9" r="2.5" fill="#fff"/>
<ellipse cx="1487.4" cy="454.4" rx="6.4" ry="5.6" fill="#3aa512"/><circle cx="1487.4" cy="454.4" r="2.5" fill="#fff"/>
<ellipse cx="1492.8" cy="447" rx="6.4" ry="5.6" fill="#3aa512"/><circle cx="1492.8" cy="447" r="2.5" fill="#fff"/>
<ellipse cx="1498.3" cy="454.4" rx="6.4" ry="5.6" fill="#3aa512"/><circle cx="1498.3" cy="454.4" r="2.5" fill="#fff"/>
<ellipse cx="1503.8" cy="467.9" rx="6.4" ry="5.6" fill="#3aa512"/><circle cx="1503.8" cy="467.9" r="2.5" fill="#fff"/>
<ellipse cx="1509.3" cy="463.9" rx="6.4" ry="5.6" fill="#3aa512"/><circle cx="1509.3" cy="463.9" r="2.5" fill="#fff"/>
<ellipse cx="1514.8" cy="457.5" rx="6.4" ry="5.6" fill="#3aa512"/><circle cx="1514.8" cy="457.5" r="2.5" fill="#fff"/>
<ellipse cx="1520.3" cy="435.2" rx="6.4" ry="5.6" fill="#3aa512"/><circle cx="1520.3" cy="435.2" r="2.5" fill="#fff"/>
<ellipse cx="1525.8" cy="467.6" rx="6.4" ry="5.6" fill="#3aa512"/><circle cx="1525.8" cy="467.6" r="2.5" fill="#fff"/>
<ellipse cx="1531.3" cy="444.8" rx="6.4" ry="5.6" fill="#3aa512"/><circle cx="1531.3" cy="444.8" r="2.5" fill="#fff"/>
<ellipse cx="1536.8" cy="446" rx="6.4" ry="5.6" fill="#3aa512"/><circle cx="1536.8" cy="446" r="2.5" fill="#fff"/>
<ellipse cx="1542.3" cy="458" rx="6.4" ry="5.6" fill="#3aa512"/><circle cx="1542.3" cy="458" r="2.5" fill="#fff"/>
<ellipse cx="1547.8" cy="473.7" rx="6.4" ry="5.6" fill="#3aa512"/><circle cx="1547.8" cy="473.7" r="2.5" fill="#fff"/>
<ellipse cx="1553.3" cy="461" rx="6.4" ry="5.6" fill="#3aa512"/><circle cx="1553.3" cy="461" r="2.5" fill="#fff"/>
<ellipse cx="1558.8" cy="461" rx="6.4" ry="5.6" fill="#3aa512"/><circle cx="1558.8" cy="461" r="2.5" fill="#fff"/>
<ellipse cx="1564.3" cy="478" rx="6.4" ry="5.6" fill="#3aa512"/><circle cx="1564.3" cy="478" r="2.5" fill="#fff"/>
<ellipse cx="1569.8" cy="454" rx="6.4" ry="5.6" fill="#3aa512"/><circle cx="1569.8" cy="454" r="2.5" fill="#fff"/>
<ellipse cx="1575.3" cy="469" rx="6.4" ry="5.6" fill="#3aa512"/><circle cx="1575.3" cy="469" r="2.5" fill="#fff"/>
<ellipse cx="1580.8" cy="456" rx="6.4" ry="5.6" fill="#3aa512"/><circle cx="1580.8" cy="456" r="2.5" fill="#fff"/>
<ellipse cx="1586.3" cy="452" rx="6.4" ry="5.6" fill="#3aa512"/><circle cx="1586.3" cy="452" r="2.5" fill="#fff"/>
<ellipse cx="1591.8" cy="470.9" rx="6.4" ry="5.6" fill="#3aa512"/><circle cx="1591.8" cy="470.9" r="2.5" fill="#fff"/>
<ellipse cx="1597.3" cy="462.8" rx="6.4" ry="5.6" fill="#3aa512"/><circle cx="1597.3" cy="462.8" r="2.5" fill="#fff"/>
<ellipse cx="1602.8" cy="454.2" rx="6.4" ry="5.6" fill="#3aa512"/><circle cx="1602.8" cy="454.2" r="2.5" fill="#fff"/>
<polyline points="915.6,19.5 921.1,31.9 926.6,59.7 932.1,70.1 937.6,41.7 943.1,124.6 948.6,55.3 954.1,94.2 959.6,80.2 965.1,127 970.6,116.8 976.1,107.2 981.6,102 987.1,145.6 992.6,98.1 998.1,145.5 1003.6,124.5 1009.1,132.2 1014.6,151.7 1020.1,142 1025.6,161 1031,196 1036.5,181.2 1042,212.4 1047.5,216.8 1053,183.1 1058.5,207 1064,208 1069.5,186.7 1075,207.4 1080.5,208 1086,212.4 1091.5,223.5 1097,238.5 1102.5,267.4 1108,261.1 1113.5,233.9 1119,285.6 1124.5,257.2 1130,300.8 1135.5,255.4 1141,268.1 1146.5,286 1152,303.3 1157.5,348.5 1163,314.2 1168.5,359.5 1174,372.7 1179.5,334 1185,357.8 1190.5,342.3 1196,340 1201.5,347.8 1207,383.1 1212.5,364.9 1218,382 1223.5,375.3 1229,393.4 1234.5,391.3 1240,410.9 1245.5,409 1251,392.8 1256.5,431.6 1261.9,411.7 1267.4,416.3 1272.9,406 1278.4,380.5 1283.9,379.4 1289.4,411.5 1294.9,404.8 1300.4,408.4 1305.9,418.7 1311.4,413.3 1316.9,413.9 1322.4,442.3 1327.9,427.2 1333.4,462.7 1338.9,412.7 1344.4,444.7 1349.9,457.8 1355.4,435.3 1360.9,460.2 1366.4,437.2 1371.9,440.3 1377.4,395.6 1382.9,404.9 1388.4,465.6 1393.9,414.1 1399.4,450.8 1404.9,431.6 1410.4,432.4 1415.9,425.5 1421.4,450.8 1426.9,425.5 1432.4,464.5 1437.9,451.2 1443.4,445.1 1448.9,453 1454.4,432.4 1459.9,432.3 1465.4,445.6 1470.9,458 1476.4,391.6 1481.9,426.2 1487.4,412.7 1492.8,409.9 1498.3,421.5 1503.8,442 1509.3,438.4 1514.8,430.2 1520.3,407.1 1525.8,450.4 1531.3,420.9 1536.8,437 1542.3,449.8 1547.8,461.8 1553.3,451.5 1558.8,447.4 1564.3,472.8 1569.8,444.2 1575.3,460.9 1580.8,447.1 1586.3,437.6 1591.8,456.6 1597.3,442.8 1602.8,427.6" fill="none" stroke="#3e590d" stroke-width="4.6" stroke-linejoin="round"/>
<ellipse cx="915.6" cy="19.5" rx="6.4" ry="5.6" fill="#3e590d"/><circle cx="915.6" cy="19.5" r="2.5" fill="#fff"/>
<ellipse cx="921.1" cy="31.9" rx="6.4" ry="5.6" fill="#3e590d"/><circle cx="921.1" cy="31.9" r="2.5" fill="#fff"/>
<ellipse cx="926.6" cy="59.7" rx="6.4" ry="5.6" fill="#3e590d"/><circle cx="926.6" cy="59.7" r="2.5" fill="#fff"/>
<ellipse cx="932.1" cy="70.1" rx="6.4" ry="5.6" fill="#3e590d"/><circle cx="932.1" cy="70.1" r="2.5" fill="#fff"/>
<ellipse cx="937.6" cy="41.7" rx="6.4" ry="5.6" fill="#3e590d"/><circle cx="937.6" cy="41.7" r="2.5" fill="#fff"/>
<ellipse cx="943.1" cy="124.6" rx="6.4" ry="5.6" fill="#3e590d"/><circle cx="943.1" cy="124.6" r="2.5" fill="#fff"/>
<ellipse cx="948.6" cy="55.3" rx="6.4" ry="5.6" fill="#3e590d"/><circle cx="948.6" cy="55.3" r="2.5" fill="#fff"/>
<ellipse cx="954.1" cy="94.2" rx="6.4" ry="5.6" fill="#3e590d"/><circle cx="954.1" cy="94.2" r="2.5" fill="#fff"/>
<ellipse cx="959.6" cy="80.2" rx="6.4" ry="5.6" fill="#3e590d"/><circle cx="959.6" cy="80.2" r="2.5" fill="#fff"/>
<ellipse cx="965.1" cy="127" rx="6.4" ry="5.6" fill="#3e590d"/><circle cx="965.1" cy="127" r="2.5" fill="#fff"/>
<ellipse cx="970.6" cy="116.8" rx="6.4" ry="5.6" fill="#3e590d"/><circle cx="970.6" cy="116.8" r="2.5" fill="#fff"/>
<ellipse cx="976.1" cy="107.2" rx="6.4" ry="5.6" fill="#3e590d"/><circle cx="976.1" cy="107.2" r="2.5" fill="#fff"/>
<ellipse cx="981.6" cy="102" rx="6.4" ry="5.6" fill="#3e590d"/><circle cx="981.6" cy="102" r="2.5" fill="#fff"/>
<ellipse cx="987.1" cy="145.6" rx="6.4" ry="5.6" fill="#3e590d"/><circle cx="987.1" cy="145.6" r="2.5" fill="#fff"/>
<ellipse cx="992.6" cy="98.1" rx="6.4" ry="5.6" fill="#3e590d"/><circle cx="992.6" cy="98.1" r="2.5" fill="#fff"/>
<ellipse cx="998.1" cy="145.5" rx="6.4" ry="5.6" fill="#3e590d"/><circle cx="998.1" cy="145.5" r="2.5" fill="#fff"/>
<ellipse cx="1003.6" cy="124.5" rx="6.4" ry="5.6" fill="#3e590d"/><circle cx="1003.6" cy="124.5" r="2.5" fill="#fff"/>
<ellipse cx="1009.1" cy="132.2" rx="6.4" ry="5.6" fill="#3e590d"/><circle cx="1009.1" cy="132.2" r="2.5" fill="#fff"/>
<ellipse cx="1014.6" cy="151.7" rx="6.4" ry="5.6" fill="#3e590d"/><circle cx="1014.6" cy="151.7" r="2.5" fill="#fff"/>
<ellipse cx="1020.1" cy="142" rx="6.4" ry="5.6" fill="#3e590d"/><circle cx="1020.1" cy="142" r="2.5" fill="#fff"/>
<ellipse cx="1025.6" cy="161" rx="6.4" ry="5.6" fill="#3e590d"/><circle cx="1025.6" cy="161" r="2.5" fill="#fff"/>
<ellipse cx="1031" cy="196" rx="6.4" ry="5.6" fill="#3e590d"/><circle cx="1031" cy="196" r="2.5" fill="#fff"/>
<ellipse cx="1036.5" cy="181.2" rx="6.4" ry="5.6" fill="#3e590d"/><circle cx="1036.5" cy="181.2" r="2.5" fill="#fff"/>
<ellipse cx="1042" cy="212.4" rx="6.4" ry="5.6" fill="#3e590d"/><circle cx="1042" cy="212.4" r="2.5" fill="#fff"/>
<ellipse cx="1047.5" cy="216.8" rx="6.4" ry="5.6" fill="#3e590d"/><circle cx="1047.5" cy="216.8" r="2.5" fill="#fff"/>
<ellipse cx="1053" cy="183.1" rx="6.4" ry="5.6" fill="#3e590d"/><circle cx="1053" cy="183.1" r="2.5" fill="#fff"/>
<ellipse cx="1058.5" cy="207" rx="6.4" ry="5.6" fill="#3e590d"/><circle cx="1058.5" cy="207" r="2.5" fill="#fff"/>
<ellipse cx="1064" cy="208" rx="6.4" ry="5.6" fill="#3e590d"/><circle cx="1064" cy="208" r="2.5" fill="#fff"/>
<ellipse cx="1069.5" cy="186.7" rx="6.4" ry="5.6" fill="#3e590d"/><circle cx="1069.5" cy="186.7" r="2.5" fill="#fff"/>
<ellipse cx="1075" cy="207.4" rx="6.4" ry="5.6" fill="#3e590d"/><circle cx="1075" cy="207.4" r="2.5" fill="#fff"/>
<ellipse cx="1080.5" cy="208" rx="6.4" ry="5.6" fill="#3e590d"/><circle cx="1080.5" cy="208" r="2.5" fill="#fff"/>
<ellipse cx="1086" cy="212.4" rx="6.4" ry="5.6" fill="#3e590d"/><circle cx="1086" cy="212.4" r="2.5" fill="#fff"/>
<ellipse cx="1091.5" cy="223.5" rx="6.4" ry="5.6" fill="#3e590d"/><circle cx="1091.5" cy="223.5" r="2.5" fill="#fff"/>
<ellipse cx="1097" cy="238.5" rx="6.4" ry="5.6" fill="#3e590d"/><circle cx="1097" cy="238.5" r="2.5" fill="#fff"/>
<ellipse cx="1102.5" cy="267.4" rx="6.4" ry="5.6" fill="#3e590d"/><circle cx="1102.5" cy="267.4" r="2.5" fill="#fff"/>
<ellipse cx="1108" cy="261.1" rx="6.4" ry="5.6" fill="#3e590d"/><circle cx="1108" cy="261.1" r="2.5" fill="#fff"/>
<ellipse cx="1113.5" cy="233.9" rx="6.4" ry="5.6" fill="#3e590d"/><circle cx="1113.5" cy="233.9" r="2.5" fill="#fff"/>
<ellipse cx="1119" cy="285.6" rx="6.4" ry="5.6" fill="#3e590d"/><circle cx="1119" cy="285.6" r="2.5" fill="#fff"/>
<ellipse cx="1124.5" cy="257.2" rx="6.4" ry="5.6" fill="#3e590d"/><circle cx="1124.5" cy="257.2" r="2.5" fill="#fff"/>
<ellipse cx="1130" cy="300.8" rx="6.4" ry="5.6" fill="#3e590d"/><circle cx="1130" cy="300.8" r="2.5" fill="#fff"/>
<ellipse cx="1135.5" cy="255.4" rx="6.4" ry="5.6" fill="#3e590d"/><circle cx="1135.5" cy="255.4" r="2.5" fill="#fff"/>
<ellipse cx="1141" cy="268.1" rx="6.4" ry="5.6" fill="#3e590d"/><circle cx="1141" cy="268.1" r="2.5" fill="#fff"/>
<ellipse cx="1146.5" cy="286" rx="6.4" ry="5.6" fill="#3e590d"/><circle cx="1146.5" cy="286" r="2.5" fill="#fff"/>
<ellipse cx="1152" cy="303.3" rx="6.4" ry="5.6" fill="#3e590d"/><circle cx="1152" cy="303.3" r="2.5" fill="#fff"/>
<ellipse cx="1157.5" cy="348.5" rx="6.4" ry="5.6" fill="#3e590d"/><circle cx="1157.5" cy="348.5" r="2.5" fill="#fff"/>
<ellipse cx="1163" cy="314.2" rx="6.4" ry="5.6" fill="#3e590d"/><circle cx="1163" cy="314.2" r="2.5" fill="#fff"/>
<ellipse cx="1168.5" cy="359.5" rx="6.4" ry="5.6" fill="#3e590d"/><circle cx="1168.5" cy="359.5" r="2.5" fill="#fff"/>
<ellipse cx="1174" cy="372.7" rx="6.4" ry="5.6" fill="#3e590d"/><circle cx="1174" cy="372.7" r="2.5" fill="#fff"/>
<ellipse cx="1179.5" cy="334" rx="6.4" ry="5.6" fill="#3e590d"/><circle cx="1179.5" cy="334" r="2.5" fill="#fff"/>
<ellipse cx="1185" cy="357.8" rx="6.4" ry="5.6" fill="#3e590d"/><circle cx="1185" cy="357.8" r="2.5" fill="#fff"/>
<ellipse cx="1190.5" cy="342.3" rx="6.4" ry="5.6" fill="#3e590d"/><circle cx="1190.5" cy="342.3" r="2.5" fill="#fff"/>
<ellipse cx="1196" cy="340" rx="6.4" ry="5.6" fill="#3e590d"/><circle cx="1196" cy="340" r="2.5" fill="#fff"/>
<ellipse cx="1201.5" cy="347.8" rx="6.4" ry="5.6" fill="#3e590d"/><circle cx="1201.5" cy="347.8" r="2.5" fill="#fff"/>
<ellipse cx="1207" cy="383.1" rx="6.4" ry="5.6" fill="#3e590d"/><circle cx="1207" cy="383.1" r="2.5" fill="#fff"/>
<ellipse cx="1212.5" cy="364.9" rx="6.4" ry="5.6" fill="#3e590d"/><circle cx="1212.5" cy="364.9" r="2.5" fill="#fff"/>
<ellipse cx="1218" cy="382" rx="6.4" ry="5.6" fill="#3e590d"/><circle cx="1218" cy="382" r="2.5" fill="#fff"/>
<ellipse cx="1223.5" cy="375.3" rx="6.4" ry="5.6" fill="#3e590d"/><circle cx="1223.5" cy="375.3" r="2.5" fill="#fff"/>
<ellipse cx="1229" cy="393.4" rx="6.4" ry="5.6" fill="#3e590d"/><circle cx="1229" cy="393.4" r="2.5" fill="#fff"/>
<ellipse cx="1234.5" cy="391.3" rx="6.4" ry="5.6" fill="#3e590d"/><circle cx="1234.5" cy="391.3" r="2.5" fill="#fff"/>
<ellipse cx="1240" cy="410.9" rx="6.4" ry="5.6" fill="#3e590d"/><circle cx="1240" cy="410.9" r="2.5" fill="#fff"/>
<ellipse cx="1245.5" cy="409" rx="6.4" ry="5.6" fill="#3e590d"/><circle cx="1245.5" cy="409" r="2.5" fill="#fff"/>
<ellipse cx="1251" cy="392.8" rx="6.4" ry="5.6" fill="#3e590d"/><circle cx="1251" cy="392.8" r="2.5" fill="#fff"/>
<ellipse cx="1256.5" cy="431.6" rx="6.4" ry="5.6" fill="#3e590d"/><circle cx="1256.5" cy="431.6" r="2.5" fill="#fff"/>
<ellipse cx="1261.9" cy="411.7" rx="6.4" ry="5.6" fill="#3e590d"/><circle cx="1261.9" cy="411.7" r="2.5" fill="#fff"/>
<ellipse cx="1267.4" cy="416.3" rx="6.4" ry="5.6" fill="#3e590d"/><circle cx="1267.4" cy="416.3" r="2.5" fill="#fff"/>
<ellipse cx="1272.9" cy="406" rx="6.4" ry="5.6" fill="#3e590d"/><circle cx="1272.9" cy="406" r="2.5" fill="#fff"/>
<ellipse cx="1278.4" cy="380.5" rx="6.4" ry="5.6" fill="#3e590d"/><circle cx="1278.4" cy="380.5" r="2.5" fill="#fff"/>
<ellipse cx="1283.9" cy="379.4" rx="6.4" ry="5.6" fill="#3e590d"/><circle cx="1283.9" cy="379.4" r="2.5" fill="#fff"/>
<ellipse cx="1289.4" cy="411.5" rx="6.4" ry="5.6" fill="#3e590d"/><circle cx="1289.4" cy="411.5" r="2.5" fill="#fff"/>
<ellipse cx="1294.9" cy="404.8" rx="6.4" ry="5.6" fill="#3e590d"/><circle cx="1294.9" cy="404.8" r="2.5" fill="#fff"/>
<ellipse cx="1300.4" cy="408.4" rx="6.4" ry="5.6" fill="#3e590d"/><circle cx="1300.4" cy="408.4" r="2.5" fill="#fff"/>
<ellipse cx="1305.9" cy="418.7" rx="6.4" ry="5.6" fill="#3e590d"/><circle cx="1305.9" cy="418.7" r="2.5" fill="#fff"/>
<ellipse cx="1311.4" cy="413.3" rx="6.4" ry="5.6" fill="#3e590d"/><circle cx="1311.4" cy="413.3" r="2.5" fill="#fff"/>
<ellipse cx="1316.9" cy="413.9" rx="6.4" ry="5.6" fill="#3e590d"/><circle cx="1316.9" cy="413.9" r="2.5" fill="#fff"/>
<ellipse cx="1322.4" cy="442.3" rx="6.4" ry="5.6" fill="#3e590d"/><circle cx="1322.4" cy="442.3" r="2.5" fill="#fff"/>
<ellipse cx="1327.9" cy="427.2" rx="6.4" ry="5.6" fill="#3e590d"/><circle cx="1327.9" cy="427.2" r="2.5" fill="#fff"/>
<ellipse cx="1333.4" cy="462.7" rx="6.4" ry="5.6" fill="#3e590d"/><circle cx="1333.4" cy="462.7" r="2.5" fill="#fff"/>
<ellipse cx="1338.9" cy="412.7" rx="6.4" ry="5.6" fill="#3e590d"/><circle cx="1338.9" cy="412.7" r="2.5" fill="#fff"/>
<ellipse cx="1344.4" cy="444.7" rx="6.4" ry="5.6" fill="#3e590d"/><circle cx="1344.4" cy="444.7" r="2.5" fill="#fff"/>
<ellipse cx="1349.9" cy="457.8" rx="6.4" ry="5.6" fill="#3e590d"/><circle cx="1349.9" cy="457.8" r="2.5" fill="#fff"/>
<ellipse cx="1355.4" cy="435.3" rx="6.4" ry="5.6" fill="#3e590d"/><circle cx="1355.4" cy="435.3" r="2.5" fill="#fff"/>
<ellipse cx="1360.9" cy="460.2" rx="6.4" ry="5.6" fill="#3e590d"/><circle cx="1360.9" cy="460.2" r="2.5" fill="#fff"/>
<ellipse cx="1366.4" cy="437.2" rx="6.4" ry="5.6" fill="#3e590d"/><circle cx="1366.4" cy="437.2" r="2.5" fill="#fff"/>
<ellipse cx="1371.9" cy="440.3" rx="6.4" ry="5.6" fill="#3e590d"/><circle cx="1371.9" cy="440.3" r="2.5" fill="#fff"/>
<ellipse cx="1377.4" cy="395.6" rx="6.4" ry="5.6" fill="#3e590d"/><circle cx="1377.4" cy="395.6" r="2.5" fill="#fff"/>
<ellipse cx="1382.9" cy="404.9" rx="6.4" ry="5.6" fill="#3e590d"/><circle cx="1382.9" cy="404.9" r="2.5" fill="#fff"/>
<ellipse cx="1388.4" cy="465.6" rx="6.4" ry="5.6" fill="#3e590d"/><circle cx="1388.4" cy="465.6" r="2.5" fill="#fff"/>
<ellipse cx="1393.9" cy="414.1" rx="6.4" ry="5.6" fill="#3e590d"/><circle cx="1393.9" cy="414.1" r="2.5" fill="#fff"/>
<ellipse cx="1399.4" cy="450.8" rx="6.4" ry="5.6" fill="#3e590d"/><circle cx="1399.4" cy="450.8" r="2.5" fill="#fff"/>
<ellipse cx="1404.9" cy="431.6" rx="6.4" ry="5.6" fill="#3e590d"/><circle cx="1404.9" cy="431.6" r="2.5" fill="#fff"/>
<ellipse cx="1410.4" cy="432.4" rx="6.4" ry="5.6" fill="#3e590d"/><circle cx="1410.4" cy="432.4" r="2.5" fill="#fff"/>
<ellipse cx="1415.9" cy="425.5" rx="6.4" ry="5.6" fill="#3e590d"/><circle cx="1415.9" cy="425.5" r="2.5" fill="#fff"/>
<ellipse cx="1421.4" cy="450.8" rx="6.4" ry="5.6" fill="#3e590d"/><circle cx="1421.4" cy="450.8" r="2.5" fill="#fff"/>
<ellipse cx="1426.9" cy="425.5" rx="6.4" ry="5.6" fill="#3e590d"/><circle cx="1426.9" cy="425.5" r="2.5" fill="#fff"/>
<ellipse cx="1432.4" cy="464.5" rx="6.4" ry="5.6" fill="#3e590d"/><circle cx="1432.4" cy="464.5" r="2.5" fill="#fff"/>
<ellipse cx="1437.9" cy="451.2" rx="6.4" ry="5.6" fill="#3e590d"/><circle cx="1437.9" cy="451.2" r="2.5" fill="#fff"/>
<ellipse cx="1443.4" cy="445.1" rx="6.4" ry="5.6" fill="#3e590d"/><circle cx="1443.4" cy="445.1" r="2.5" fill="#fff"/>
<ellipse cx="1448.9" cy="453" rx="6.4" ry="5.6" fill="#3e590d"/><circle cx="1448.9" cy="453" r="2.5" fill="#fff"/>
<ellipse cx="1454.4" cy="432.4" rx="6.4" ry="5.6" fill="#3e590d"/><circle cx="1454.4" cy="432.4" r="2.5" fill="#fff"/>
<ellipse cx="1459.9" cy="432.3" rx="6.4" ry="5.6" fill="#3e590d"/><circle cx="1459.9" cy="432.3" r="2.5" fill="#fff"/>
<ellipse cx="1465.4" cy="445.6" rx="6.4" ry="5.6" fill="#3e590d"/><circle cx="1465.4" cy="445.6" r="2.5" fill="#fff"/>
<ellipse cx="1470.9" cy="458" rx="6.4" ry="5.6" fill="#3e590d"/><circle cx="1470.9" cy="458" r="2.5" fill="#fff"/>
<ellipse cx="1476.4" cy="391.6" rx="6.4" ry="5.6" fill="#3e590d"/><circle cx="1476.4" cy="391.6" r="2.5" fill="#fff"/>
<ellipse cx="1481.9" cy="426.2" rx="6.4" ry="5.6" fill="#3e590d"/><circle cx="1481.9" cy="426.2" r="2.5" fill="#fff"/>
<ellipse cx="1487.4" cy="412.7" rx="6.4" ry="5.6" fill="#3e590d"/><circle cx="1487.4" cy="412.7" r="2.5" fill="#fff"/>
<ellipse cx="1492.8" cy="409.9" rx="6.4" ry="5.6" fill="#3e590d"/><circle cx="1492.8" cy="409.9" r="2.5" fill="#fff"/>
<ellipse cx="1498.3" cy="421.5" rx="6.4" ry="5.6" fill="#3e590d"/><circle cx="1498.3" cy="421.5" r="2.5" fill="#fff"/>
<ellipse cx="1503.8" cy="442" rx="6.4" ry="5.6" fill="#3e590d"/><circle cx="1503.8" cy="442" r="2.5" fill="#fff"/>
<ellipse cx="1509.3" cy="438.4" rx="6.4" ry="5.6" fill="#3e590d"/><circle cx="1509.3" cy="438.4" r="2.5" fill="#fff"/>
<ellipse cx="1514.8" cy="430.2" rx="6.4" ry="5.6" fill="#3e590d"/><circle cx="1514.8" cy="430.2" r="2.5" fill="#fff"/>
<ellipse cx="1520.3" cy="407.1" rx="6.4" ry="5.6" fill="#3e590d"/><circle cx="1520.3" cy="407.1" r="2.5" fill="#fff"/>
<ellipse cx="1525.8" cy="450.4" rx="6.4" ry="5.6" fill="#3e590d"/><circle cx="1525.8" cy="450.4" r="2.5" fill="#fff"/>
<ellipse cx="1531.3" cy="420.9" rx="6.4" ry="5.6" fill="#3e590d"/><circle cx="1531.3" cy="420.9" r="2.5" fill="#fff"/>
<ellipse cx="1536.8" cy="437" rx="6.4" ry="5.6" fill="#3e590d"/><circle cx="1536.8" cy="437" r="2.5" fill="#fff"/>
<ellipse cx="1542.3" cy="449.8" rx="6.4" ry="5.6" fill="#3e590d"/><circle cx="1542.3" cy="449.8" r="2.5" fill="#fff"/>
<ellipse cx="1547.8" cy="461.8" rx="6.4" ry="5.6" fill="#3e590d"/><circle cx="1547.8" cy="461.8" r="2.5" fill="#fff"/>
<ellipse cx="1553.3" cy="451.5" rx="6.4" ry="5.6" fill="#3e590d"/><circle cx="1553.3" cy="451.5" r="2.5" fill="#fff"/>
<ellipse cx="1558.8" cy="447.4" rx="6.4" ry="5.6" fill="#3e590d"/><circle cx="1558.8" cy="447.4" r="2.5" fill="#fff"/>
<ellipse cx="1564.3" cy="472.8" rx="6.4" ry="5.6" fill="#3e590d"/><circle cx="1564.3" cy="472.8" r="2.5" fill="#fff"/>
<ellipse cx="1569.8" cy="444.2" rx="6.4" ry="5.6" fill="#3e590d"/><circle cx="1569.8" cy="444.2" r="2.5" fill="#fff"/>
<ellipse cx="1575.3" cy="460.9" rx="6.4" ry="5.6" fill="#3e590d"/><circle cx="1575.3" cy="460.9" r="2.5" fill="#fff"/>
<ellipse cx="1580.8" cy="447.1" rx="6.4" ry="5.6" fill="#3e590d"/><circle cx="1580.8" cy="447.1" r="2.5" fill="#fff"/>
<ellipse cx="1586.3" cy="437.6" rx="6.4" ry="5.6" fill="#3e590d"/><circle cx="1586.3" cy="437.6" r="2.5" fill="#fff"/>
<ellipse cx="1591.8" cy="456.6" rx="6.4" ry="5.6" fill="#3e590d"/><circle cx="1591.8" cy="456.6" r="2.5" fill="#fff"/>
<ellipse cx="1597.3" cy="442.8" rx="6.4" ry="5.6" fill="#3e590d"/><circle cx="1597.3" cy="442.8" r="2.5" fill="#fff"/>
<ellipse cx="1602.8" cy="427.6" rx="6.4" ry="5.6" fill="#3e590d"/><circle cx="1602.8" cy="427.6" r="2.5" fill="#fff"/>
<rect x="1381.2" y="22.7" width="209.3" height="78.5" fill="#fff" stroke="#333" stroke-width="1.6"/>
<line x1="1388.2" y1="37.4" x2="1452.5" y2="37.4" stroke="#b2cf05" stroke-width="3.6"/>
<circle cx="1419.8" cy="37.4" r="3.9" fill="#fff" stroke="#b2cf05" stroke-width="3.5"/>
<text transform="translate(1464.12,43.36) scale(1.1093,1.0000)" font-family="DejaVu Sans, sans-serif" font-size="25.65" fill="#000">peron</text>
<line x1="1388.2" y1="61.9" x2="1452.5" y2="61.9" stroke="#5ea11c" stroke-width="3.6"/>
<circle cx="1419.8" cy="61.9" r="3.9" fill="#fff" stroke="#5ea11c" stroke-width="3.5"/>
<text transform="translate(1462.56,68.84) scale(1.1258,1.0000)" font-family="DejaVu Sans, sans-serif" font-size="25.20" fill="#000">soleus</text>
<line x1="1388.2" y1="87.4" x2="1449" y2="87.4" stroke="#3c520c" stroke-width="2.7"/>
<circle cx="1419.8" cy="87.4" r="3.9" fill="#fff" stroke="#3c520c" stroke-width="3.5"/>
<text transform="translate(1458.43,92.35) scale(1.1046,1.0000)" font-family="DejaVu Sans, sans-serif" font-size="25.71" fill="#000">gastroc</text>
<text transform="translate(721.26,92.30) scale(0.9657,1.0000)" font-family="Liberation Sans, sans-serif" font-weight="bold" font-size="36.15" fill="#000">(b)</text>
<line x1="911" y1="1013.6" x2="1609" y2="1013.6" stroke="#dedede" stroke-width="1.6"/>
<line x1="911" y1="934.3" x2="1609" y2="934.3" stroke="#dedede" stroke-width="1.6"/>
<line x1="911" y1="855.1" x2="1609" y2="855.1" stroke="#dedede" stroke-width="1.6"/>
<line x1="911" y1="775.8" x2="1609" y2="775.8" stroke="#dedede" stroke-width="1.6"/>
<line x1="911" y1="696.6" x2="1609" y2="696.6" stroke="#dedede" stroke-width="1.6"/>
<line x1="911" y1="617.3" x2="1609" y2="617.3" stroke="#dedede" stroke-width="1.6"/>
<path d="M910.8,617 V1091.5 H1609" fill="none" stroke="#2a2a2a" stroke-width="1.6"/>
<line x1="910.8" y1="1013.6" x2="917.7" y2="1013.6" stroke="#2a2a2a" stroke-width="1.6"/>
<line x1="910.8" y1="934.3" x2="917.7" y2="934.3" stroke="#2a2a2a" stroke-width="1.6"/>
<line x1="910.8" y1="855.1" x2="917.7" y2="855.1" stroke="#2a2a2a" stroke-width="1.6"/>
<line x1="910.8" y1="775.8" x2="917.7" y2="775.8" stroke="#2a2a2a" stroke-width="1.6"/>
<line x1="910.8" y1="696.6" x2="917.7" y2="696.6" stroke="#2a2a2a" stroke-width="1.6"/>
<line x1="910.8" y1="617.3" x2="917.7" y2="617.3" stroke="#2a2a2a" stroke-width="1.6"/>
<line x1="910.8" y1="1091.5" x2="910.8" y2="1085" stroke="#2a2a2a" stroke-width="1.6"/>
<line x1="997.5" y1="1091.5" x2="997.5" y2="1085" stroke="#2a2a2a" stroke-width="1.6"/>
<line x1="1084.2" y1="1091.5" x2="1084.2" y2="1085" stroke="#2a2a2a" stroke-width="1.6"/>
<line x1="1170.9" y1="1091.5" x2="1170.9" y2="1085" stroke="#2a2a2a" stroke-width="1.6"/>
<line x1="1257.7" y1="1091.5" x2="1257.7" y2="1085" stroke="#2a2a2a" stroke-width="1.6"/>
<line x1="1344.4" y1="1091.5" x2="1344.4" y2="1085" stroke="#2a2a2a" stroke-width="1.6"/>
<line x1="1431.1" y1="1091.5" x2="1431.1" y2="1085" stroke="#2a2a2a" stroke-width="1.6"/>
<line x1="1517.8" y1="1091.5" x2="1517.8" y2="1085" stroke="#2a2a2a" stroke-width="1.6"/>
<line x1="1604.5" y1="1091.5" x2="1604.5" y2="1085" stroke="#2a2a2a" stroke-width="1.6"/>
<text transform="translate(835.15,1025.05) scale(1.0900,0.7976)" font-family="DejaVu Sans, sans-serif" font-size="31.00" fill="#000">0.92</text>
<text transform="translate(833.66,945.79) scale(1.0900,0.7976)" font-family="DejaVu Sans, sans-serif" font-size="31.00" fill="#000">0.94</text>
<text transform="translate(833.89,866.53) scale(1.0900,0.7976)" font-family="DejaVu Sans, sans-serif" font-size="31.00" fill="#000">0.96</text>
<text transform="translate(834.07,787.27) scale(1.0900,0.7976)" font-family="DejaVu Sans, sans-serif" font-size="31.00" fill="#000">0.98</text>
<text transform="translate(877.22,708.36) scale(1.0900,0.8275)" font-family="DejaVu Sans, sans-serif" font-size="31.00" fill="#000">1</text>
<text transform="translate(835.15,628.75) scale(1.0900,0.7976)" font-family="DejaVu Sans, sans-serif" font-size="31.00" fill="#000">1.02</text>
<text transform="translate(896.76,1118.51) scale(1.1000,0.8786)" font-family="DejaVu Sans, sans-serif" font-size="31.00" fill="#000">0</text>
<text transform="translate(968.09,1118.51) scale(1.1000,0.8786)" font-family="DejaVu Sans, sans-serif" font-size="31.00" fill="#000">20</text>
<text transform="translate(1055.60,1118.51) scale(1.1000,0.8786)" font-family="DejaVu Sans, sans-serif" font-size="31.00" fill="#000">40</text>
<text transform="translate(1143.85,1118.51) scale(1.1000,0.8786)" font-family="DejaVu Sans, sans-serif" font-size="31.00" fill="#000">60</text>
<text transform="translate(1231.58,1118.51) scale(1.1000,0.8786)" font-family="DejaVu Sans, sans-serif" font-size="31.00" fill="#000">80</text>
<text transform="translate(1310.22,1118.51) scale(1.1000,0.8786)" font-family="DejaVu Sans, sans-serif" font-size="31.00" fill="#000">100</text>
<text transform="translate(1397.52,1118.51) scale(1.1000,0.8786)" font-family="DejaVu Sans, sans-serif" font-size="31.00" fill="#000">120</text>
<text transform="translate(1483.02,1118.51) scale(1.1000,0.8786)" font-family="DejaVu Sans, sans-serif" font-size="31.00" fill="#000">140</text>
<text transform="translate(1569.32,1118.51) scale(1.1000,0.8786)" font-family="DejaVu Sans, sans-serif" font-size="31.00" fill="#000">160</text>
<text transform="translate(1181.40,1151.33) scale(1.0744,1.0000)" font-family="DejaVu Sans, sans-serif" font-size="31.63" fill="#000">Time (sec)</text>
<text transform="translate(824.04,966.05) rotate(-90) scale(0.8976,1.0000)" font-family="DejaVu Sans, sans-serif" font-size="32.30" fill="#000">Normalized T2*</text>
<polyline points="915.6,717 921.2,713.3 926.8,709.7 932.4,706.9 938,704.7 943.6,704 949.2,703.5 954.8,704.6 960.4,706.8 966,709.6 971.6,712.2 977.2,714.5 982.8,718.3 988.4,723.1 994,726.6 999.6,728.4 1005.1,730.5 1010.7,732.6 1016.3,730.2 1021.9,727.8 1027.5,725.7 1033.1,723.6 1038.7,721.6 1044.3,719.7 1049.9,715.8 1055.5,714.2 1061.1,715 1066.7,713.8 1072.3,710.3 1077.9,706.8 1083.5,706.2 1089.1,705.7 1094.7,704.8 1100.3,703.8 1105.9,701.9 1111.5,699.9 1117.1,698 1122.7,696.2 1128.3,691 1133.9,691 1139.5,694.9 1145.1,696.6 1150.7,696.5 1156.3,697.8 1161.9,701.4 1167.5,705.6 1173.1,709.8 1178.6,711.3 1184.2,711.3 1189.8,711.8 1195.4,712 1201,710.8 1206.6,705.9 1212.2,703.8 1217.8,705.5 1223.4,705 1229,702.2 1234.6,699.2 1240.2,699.8 1245.8,700.7 1251.4,701.7 1257,699.7 1262.6,700.7 1268.2,703.2 1273.8,705.8 1279.4,708.3 1285,707.9 1290.6,706.2 1296.2,704.6 1301.8,701.3 1307.4,694.7 1313,692.2 1318.6,695.6 1324.2,699.1 1329.8,699.2 1335.4,697 1341,694.8 1346.5,692.8 1352.1,691.2 1357.7,689.7 1363.3,688.4 1368.9,687.1 1374.5,685.5 1380.1,683.5 1385.7,681.9 1391.3,680.7 1396.9,679.7 1402.5,679.1 1408.1,678.5 1413.7,677.9 1419.3,678.1 1424.9,679.5 1430.5,680.1 1436.1,680.5 1441.7,680.5 1447.3,680.6 1452.9,680.9 1458.5,680.3 1464.1,675.4 1469.7,676.5 1475.3,677.5 1480.9,677.5 1486.5,677.3 1492.1,675.7 1497.7,675.3 1503.3,680 1508.9,685.3 1514.5,681.9 1520,678.9 1525.6,681.4 1531.2,683.2 1536.8,680.7 1542.4,678.3 1548,676.7 1553.6,679.8 1559.2,681.6 1564.8,681.4 1570.4,681.3 1576,681.1 1581.6,681.5 1587.2,681.9 1592.8,682.3 1598.4,683.7 1604,685.3" fill="none" stroke="#9fd40c" stroke-width="3.6" stroke-linejoin="round"/>
<ellipse cx="915.6" cy="717" rx="6.3" ry="5.3" fill="#9fd40c"/><circle cx="915.6" cy="717" r="2.6" fill="#fff"/>
<ellipse cx="921.2" cy="713.3" rx="6.3" ry="5.3" fill="#9fd40c"/><circle cx="921.2" cy="713.3" r="2.6" fill="#fff"/>
<ellipse cx="926.8" cy="709.7" rx="6.3" ry="5.3" fill="#9fd40c"/><circle cx="926.8" cy="709.7" r="2.6" fill="#fff"/>
<ellipse cx="932.4" cy="706.9" rx="6.3" ry="5.3" fill="#9fd40c"/><circle cx="932.4" cy="706.9" r="2.6" fill="#fff"/>
<ellipse cx="938" cy="704.7" rx="6.3" ry="5.3" fill="#9fd40c"/><circle cx="938" cy="704.7" r="2.6" fill="#fff"/>
<ellipse cx="943.6" cy="704" rx="6.3" ry="5.3" fill="#9fd40c"/><circle cx="943.6" cy="704" r="2.6" fill="#fff"/>
<ellipse cx="949.2" cy="703.5" rx="6.3" ry="5.3" fill="#9fd40c"/><circle cx="949.2" cy="703.5" r="2.6" fill="#fff"/>
<ellipse cx="954.8" cy="704.6" rx="6.3" ry="5.3" fill="#9fd40c"/><circle cx="954.8" cy="704.6" r="2.6" fill="#fff"/>
<ellipse cx="960.4" cy="706.8" rx="6.3" ry="5.3" fill="#9fd40c"/><circle cx="960.4" cy="706.8" r="2.6" fill="#fff"/>
<ellipse cx="966" cy="709.6" rx="6.3" ry="5.3" fill="#9fd40c"/><circle cx="966" cy="709.6" r="2.6" fill="#fff"/>
<ellipse cx="971.6" cy="712.2" rx="6.3" ry="5.3" fill="#9fd40c"/><circle cx="971.6" cy="712.2" r="2.6" fill="#fff"/>
<ellipse cx="977.2" cy="714.5" rx="6.3" ry="5.3" fill="#9fd40c"/><circle cx="977.2" cy="714.5" r="2.6" fill="#fff"/>
<ellipse cx="982.8" cy="718.3" rx="6.3" ry="5.3" fill="#9fd40c"/><circle cx="982.8" cy="718.3" r="2.6" fill="#fff"/>
<ellipse cx="988.4" cy="723.1" rx="6.3" ry="5.3" fill="#9fd40c"/><circle cx="988.4" cy="723.1" r="2.6" fill="#fff"/>
<ellipse cx="994" cy="726.6" rx="6.3" ry="5.3" fill="#9fd40c"/><circle cx="994" cy="726.6" r="2.6" fill="#fff"/>
<ellipse cx="999.6" cy="728.4" rx="6.3" ry="5.3" fill="#9fd40c"/><circle cx="999.6" cy="728.4" r="2.6" fill="#fff"/>
<ellipse cx="1005.1" cy="730.5" rx="6.3" ry="5.3" fill="#9fd40c"/><circle cx="1005.1" cy="730.5" r="2.6" fill="#fff"/>
<ellipse cx="1010.7" cy="732.6" rx="6.3" ry="5.3" fill="#9fd40c"/><circle cx="1010.7" cy="732.6" r="2.6" fill="#fff"/>
<ellipse cx="1016.3" cy="730.2" rx="6.3" ry="5.3" fill="#9fd40c"/><circle cx="1016.3" cy="730.2" r="2.6" fill="#fff"/>
<ellipse cx="1021.9" cy="727.8" rx="6.3" ry="5.3" fill="#9fd40c"/><circle cx="1021.9" cy="727.8" r="2.6" fill="#fff"/>
<ellipse cx="1027.5" cy="725.7" rx="6.3" ry="5.3" fill="#9fd40c"/><circle cx="1027.5" cy="725.7" r="2.6" fill="#fff"/>
<ellipse cx="1033.1" cy="723.6" rx="6.3" ry="5.3" fill="#9fd40c"/><circle cx="1033.1" cy="723.6" r="2.6" fill="#fff"/>
<ellipse cx="1038.7" cy="721.6" rx="6.3" ry="5.3" fill="#9fd40c"/><circle cx="1038.7" cy="721.6" r="2.6" fill="#fff"/>
<ellipse cx="1044.3" cy="719.7" rx="6.3" ry="5.3" fill="#9fd40c"/><circle cx="1044.3" cy="719.7" r="2.6" fill="#fff"/>
<ellipse cx="1049.9" cy="715.8" rx="6.3" ry="5.3" fill="#9fd40c"/><circle cx="1049.9" cy="715.8" r="2.6" fill="#fff"/>
<ellipse cx="1055.5" cy="714.2" rx="6.3" ry="5.3" fill="#9fd40c"/><circle cx="1055.5" cy="714.2" r="2.6" fill="#fff"/>
<ellipse cx="1061.1" cy="715" rx="6.3" ry="5.3" fill="#9fd40c"/><circle cx="1061.1" cy="715" r="2.6" fill="#fff"/>
<ellipse cx="1066.7" cy="713.8" rx="6.3" ry="5.3" fill="#9fd40c"/><circle cx="1066.7" cy="713.8" r="2.6" fill="#fff"/>
<ellipse cx="1072.3" cy="710.3" rx="6.3" ry="5.3" fill="#9fd40c"/><circle cx="1072.3" cy="710.3" r="2.6" fill="#fff"/>
<ellipse cx="1077.9" cy="706.8" rx="6.3" ry="5.3" fill="#9fd40c"/><circle cx="1077.9" cy="706.8" r="2.6" fill="#fff"/>
<ellipse cx="1083.5" cy="706.2" rx="6.3" ry="5.3" fill="#9fd40c"/><circle cx="1083.5" cy="706.2" r="2.6" fill="#fff"/>
<ellipse cx="1089.1" cy="705.7" rx="6.3" ry="5.3" fill="#9fd40c"/><circle cx="1089.1" cy="705.7" r="2.6" fill="#fff"/>
<ellipse cx="1094.7" cy="704.8" rx="6.3" ry="5.3" fill="#9fd40c"/><circle cx="1094.7" cy="704.8" r="2.6" fill="#fff"/>
<ellipse cx="1100.3" cy="703.8" rx="6.3" ry="5.3" fill="#9fd40c"/><circle cx="1100.3" cy="703.8" r="2.6" fill="#fff"/>
<ellipse cx="1105.9" cy="701.9" rx="6.3" ry="5.3" fill="#9fd40c"/><circle cx="1105.9" cy="701.9" r="2.6" fill="#fff"/>
<ellipse cx="1111.5" cy="699.9" rx="6.3" ry="5.3" fill="#9fd40c"/><circle cx="1111.5" cy="699.9" r="2.6" fill="#fff"/>
<ellipse cx="1117.1" cy="698" rx="6.3" ry="5.3" fill="#9fd40c"/><circle cx="1117.1" cy="698" r="2.6" fill="#fff"/>
<ellipse cx="1122.7" cy="696.2" rx="6.3" ry="5.3" fill="#9fd40c"/><circle cx="1122.7" cy="696.2" r="2.6" fill="#fff"/>
<ellipse cx="1128.3" cy="691" rx="6.3" ry="5.3" fill="#9fd40c"/><circle cx="1128.3" cy="691" r="2.6" fill="#fff"/>
<ellipse cx="1133.9" cy="691" rx="6.3" ry="5.3" fill="#9fd40c"/><circle cx="1133.9" cy="691" r="2.6" fill="#fff"/>
<ellipse cx="1139.5" cy="694.9" rx="6.3" ry="5.3" fill="#9fd40c"/><circle cx="1139.5" cy="694.9" r="2.6" fill="#fff"/>
<ellipse cx="1145.1" cy="696.6" rx="6.3" ry="5.3" fill="#9fd40c"/><circle cx="1145.1" cy="696.6" r="2.6" fill="#fff"/>
<ellipse cx="1150.7" cy="696.5" rx="6.3" ry="5.3" fill="#9fd40c"/><circle cx="1150.7" cy="696.5" r="2.6" fill="#fff"/>
<ellipse cx="1156.3" cy="697.8" rx="6.3" ry="5.3" fill="#9fd40c"/><circle cx="1156.3" cy="697.8" r="2.6" fill="#fff"/>
<ellipse cx="1161.9" cy="701.4" rx="6.3" ry="5.3" fill="#9fd40c"/><circle cx="1161.9" cy="701.4" r="2.6" fill="#fff"/>
<ellipse cx="1167.5" cy="705.6" rx="6.3" ry="5.3" fill="#9fd40c"/><circle cx="1167.5" cy="705.6" r="2.6" fill="#fff"/>
<ellipse cx="1173.1" cy="709.8" rx="6.3" ry="5.3" fill="#9fd40c"/><circle cx="1173.1" cy="709.8" r="2.6" fill="#fff"/>
<ellipse cx="1178.6" cy="711.3" rx="6.3" ry="5.3" fill="#9fd40c"/><circle cx="1178.6" cy="711.3" r="2.6" fill="#fff"/>
<ellipse cx="1184.2" cy="711.3" rx="6.3" ry="5.3" fill="#9fd40c"/><circle cx="1184.2" cy="711.3" r="2.6" fill="#fff"/>
<ellipse cx="1189.8" cy="711.8" rx="6.3" ry="5.3" fill="#9fd40c"/><circle cx="1189.8" cy="711.8" r="2.6" fill="#fff"/>
<ellipse cx="1195.4" cy="712" rx="6.3" ry="5.3" fill="#9fd40c"/><circle cx="1195.4" cy="712" r="2.6" fill="#fff"/>
<ellipse cx="1201" cy="710.8" rx="6.3" ry="5.3" fill="#9fd40c"/><circle cx="1201" cy="710.8" r="2.6" fill="#fff"/>
<ellipse cx="1206.6" cy="705.9" rx="6.3" ry="5.3" fill="#9fd40c"/><circle cx="1206.6" cy="705.9" r="2.6" fill="#fff"/>
<ellipse cx="1212.2" cy="703.8" rx="6.3" ry="5.3" fill="#9fd40c"/><circle cx="1212.2" cy="703.8" r="2.6" fill="#fff"/>
<ellipse cx="1217.8" cy="705.5" rx="6.3" ry="5.3" fill="#9fd40c"/><circle cx="1217.8" cy="705.5" r="2.6" fill="#fff"/>
<ellipse cx="1223.4" cy="705" rx="6.3" ry="5.3" fill="#9fd40c"/><circle cx="1223.4" cy="705" r="2.6" fill="#fff"/>
<ellipse cx="1229" cy="702.2" rx="6.3" ry="5.3" fill="#9fd40c"/><circle cx="1229" cy="702.2" r="2.6" fill="#fff"/>
<ellipse cx="1234.6" cy="699.2" rx="6.3" ry="5.3" fill="#9fd40c"/><circle cx="1234.6" cy="699.2" r="2.6" fill="#fff"/>
<ellipse cx="1240.2" cy="699.8" rx="6.3" ry="5.3" fill="#9fd40c"/><circle cx="1240.2" cy="699.8" r="2.6" fill="#fff"/>
<ellipse cx="1245.8" cy="700.7" rx="6.3" ry="5.3" fill="#9fd40c"/><circle cx="1245.8" cy="700.7" r="2.6" fill="#fff"/>
<ellipse cx="1251.4" cy="701.7" rx="6.3" ry="5.3" fill="#9fd40c"/><circle cx="1251.4" cy="701.7" r="2.6" fill="#fff"/>
<ellipse cx="1257" cy="699.7" rx="6.3" ry="5.3" fill="#9fd40c"/><circle cx="1257" cy="699.7" r="2.6" fill="#fff"/>
<ellipse cx="1262.6" cy="700.7" rx="6.3" ry="5.3" fill="#9fd40c"/><circle cx="1262.6" cy="700.7" r="2.6" fill="#fff"/>
<ellipse cx="1268.2" cy="703.2" rx="6.3" ry="5.3" fill="#9fd40c"/><circle cx="1268.2" cy="703.2" r="2.6" fill="#fff"/>
<ellipse cx="1273.8" cy="705.8" rx="6.3" ry="5.3" fill="#9fd40c"/><circle cx="1273.8" cy="705.8" r="2.6" fill="#fff"/>
<ellipse cx="1279.4" cy="708.3" rx="6.3" ry="5.3" fill="#9fd40c"/><circle cx="1279.4" cy="708.3" r="2.6" fill="#fff"/>
<ellipse cx="1285" cy="707.9" rx="6.3" ry="5.3" fill="#9fd40c"/><circle cx="1285" cy="707.9" r="2.6" fill="#fff"/>
<ellipse cx="1290.6" cy="706.2" rx="6.3" ry="5.3" fill="#9fd40c"/><circle cx="1290.6" cy="706.2" r="2.6" fill="#fff"/>
<ellipse cx="1296.2" cy="704.6" rx="6.3" ry="5.3" fill="#9fd40c"/><circle cx="1296.2" cy="704.6" r="2.6" fill="#fff"/>
<ellipse cx="1301.8" cy="701.3" rx="6.3" ry="5.3" fill="#9fd40c"/><circle cx="1301.8" cy="701.3" r="2.6" fill="#fff"/>
<ellipse cx="1307.4" cy="694.7" rx="6.3" ry="5.3" fill="#9fd40c"/><circle cx="1307.4" cy="694.7" r="2.6" fill="#fff"/>
<ellipse cx="1313" cy="692.2" rx="6.3" ry="5.3" fill="#9fd40c"/><circle cx="1313" cy="692.2" r="2.6" fill="#fff"/>
<ellipse cx="1318.6" cy="695.6" rx="6.3" ry="5.3" fill="#9fd40c"/><circle cx="1318.6" cy="695.6" r="2.6" fill="#fff"/>
<ellipse cx="1324.2" cy="699.1" rx="6.3" ry="5.3" fill="#9fd40c"/><circle cx="1324.2" cy="699.1" r="2.6" fill="#fff"/>
<ellipse cx="1329.8" cy="699.2" rx="6.3" ry="5.3" fill="#9fd40c"/><circle cx="1329.8" cy="699.2" r="2.6" fill="#fff"/>
<ellipse cx="1335.4" cy="697" rx="6.3" ry="5.3" fill="#9fd40c"/><circle cx="1335.4" cy="697" r="2.6" fill="#fff"/>
<ellipse cx="1341" cy="694.8" rx="6.3" ry="5.3" fill="#9fd40c"/><circle cx="1341" cy="694.8" r="2.6" fill="#fff"/>
<ellipse cx="1346.5" cy="692.8" rx="6.3" ry="5.3" fill="#9fd40c"/><circle cx="1346.5" cy="692.8" r="2.6" fill="#fff"/>
<ellipse cx="1352.1" cy="691.2" rx="6.3" ry="5.3" fill="#9fd40c"/><circle cx="1352.1" cy="691.2" r="2.6" fill="#fff"/>
<ellipse cx="1357.7" cy="689.7" rx="6.3" ry="5.3" fill="#9fd40c"/><circle cx="1357.7" cy="689.7" r="2.6" fill="#fff"/>
<ellipse cx="1363.3" cy="688.4" rx="6.3" ry="5.3" fill="#9fd40c"/><circle cx="1363.3" cy="688.4" r="2.6" fill="#fff"/>
<ellipse cx="1368.9" cy="687.1" rx="6.3" ry="5.3" fill="#9fd40c"/><circle cx="1368.9" cy="687.1" r="2.6" fill="#fff"/>
<ellipse cx="1374.5" cy="685.5" rx="6.3" ry="5.3" fill="#9fd40c"/><circle cx="1374.5" cy="685.5" r="2.6" fill="#fff"/>
<ellipse cx="1380.1" cy="683.5" rx="6.3" ry="5.3" fill="#9fd40c"/><circle cx="1380.1" cy="683.5" r="2.6" fill="#fff"/>
<ellipse cx="1385.7" cy="681.9" rx="6.3" ry="5.3" fill="#9fd40c"/><circle cx="1385.7" cy="681.9" r="2.6" fill="#fff"/>
<ellipse cx="1391.3" cy="680.7" rx="6.3" ry="5.3" fill="#9fd40c"/><circle cx="1391.3" cy="680.7" r="2.6" fill="#fff"/>
<ellipse cx="1396.9" cy="679.7" rx="6.3" ry="5.3" fill="#9fd40c"/><circle cx="1396.9" cy="679.7" r="2.6" fill="#fff"/>
<ellipse cx="1402.5" cy="679.1" rx="6.3" ry="5.3" fill="#9fd40c"/><circle cx="1402.5" cy="679.1" r="2.6" fill="#fff"/>
<ellipse cx="1408.1" cy="678.5" rx="6.3" ry="5.3" fill="#9fd40c"/><circle cx="1408.1" cy="678.5" r="2.6" fill="#fff"/>
<ellipse cx="1413.7" cy="677.9" rx="6.3" ry="5.3" fill="#9fd40c"/><circle cx="1413.7" cy="677.9" r="2.6" fill="#fff"/>
<ellipse cx="1419.3" cy="678.1" rx="6.3" ry="5.3" fill="#9fd40c"/><circle cx="1419.3" cy="678.1" r="2.6" fill="#fff"/>
<ellipse cx="1424.9" cy="679.5" rx="6.3" ry="5.3" fill="#9fd40c"/><circle cx="1424.9" cy="679.5" r="2.6" fill="#fff"/>
<ellipse cx="1430.5" cy="680.1" rx="6.3" ry="5.3" fill="#9fd40c"/><circle cx="1430.5" cy="680.1" r="2.6" fill="#fff"/>
<ellipse cx="1436.1" cy="680.5" rx="6.3" ry="5.3" fill="#9fd40c"/><circle cx="1436.1" cy="680.5" r="2.6" fill="#fff"/>
<ellipse cx="1441.7" cy="680.5" rx="6.3" ry="5.3" fill="#9fd40c"/><circle cx="1441.7" cy="680.5" r="2.6" fill="#fff"/>
<ellipse cx="1447.3" cy="680.6" rx="6.3" ry="5.3" fill="#9fd40c"/><circle cx="1447.3" cy="680.6" r="2.6" fill="#fff"/>
<ellipse cx="1452.9" cy="680.9" rx="6.3" ry="5.3" fill="#9fd40c"/><circle cx="1452.9" cy="680.9" r="2.6" fill="#fff"/>
<ellipse cx="1458.5" cy="680.3" rx="6.3" ry="5.3" fill="#9fd40c"/><circle cx="1458.5" cy="680.3" r="2.6" fill="#fff"/>
<ellipse cx="1464.1" cy="675.4" rx="6.3" ry="5.3" fill="#9fd40c"/><circle cx="1464.1" cy="675.4" r="2.6" fill="#fff"/>
<ellipse cx="1469.7" cy="676.5" rx="6.3" ry="5.3" fill="#9fd40c"/><circle cx="1469.7" cy="676.5" r="2.6" fill="#fff"/>
<ellipse cx="1475.3" cy="677.5" rx="6.3" ry="5.3" fill="#9fd40c"/><circle cx="1475.3" cy="677.5" r="2.6" fill="#fff"/>
<ellipse cx="1480.9" cy="677.5" rx="6.3" ry="5.3" fill="#9fd40c"/><circle cx="1480.9" cy="677.5" r="2.6" fill="#fff"/>
<ellipse cx="1486.5" cy="677.3" rx="6.3" ry="5.3" fill="#9fd40c"/><circle cx="1486.5" cy="677.3" r="2.6" fill="#fff"/>
<ellipse cx="1492.1" cy="675.7" rx="6.3" ry="5.3" fill="#9fd40c"/><circle cx="1492.1" cy="675.7" r="2.6" fill="#fff"/>
<ellipse cx="1497.7" cy="675.3" rx="6.3" ry="5.3" fill="#9fd40c"/><circle cx="1497.7" cy="675.3" r="2.6" fill="#fff"/>
<ellipse cx="1503.3" cy="680" rx="6.3" ry="5.3" fill="#9fd40c"/><circle cx="1503.3" cy="680" r="2.6" fill="#fff"/>
<ellipse cx="1508.9" cy="685.3" rx="6.3" ry="5.3" fill="#9fd40c"/><circle cx="1508.9" cy="685.3" r="2.6" fill="#fff"/>
<ellipse cx="1514.5" cy="681.9" rx="6.3" ry="5.3" fill="#9fd40c"/><circle cx="1514.5" cy="681.9" r="2.6" fill="#fff"/>
<ellipse cx="1520" cy="678.9" rx="6.3" ry="5.3" fill="#9fd40c"/><circle cx="1520" cy="678.9" r="2.6" fill="#fff"/>
<ellipse cx="1525.6" cy="681.4" rx="6.3" ry="5.3" fill="#9fd40c"/><circle cx="1525.6" cy="681.4" r="2.6" fill="#fff"/>
<ellipse cx="1531.2" cy="683.2" rx="6.3" ry="5.3" fill="#9fd40c"/><circle cx="1531.2" cy="683.2" r="2.6" fill="#fff"/>
<ellipse cx="1536.8" cy="680.7" rx="6.3" ry="5.3" fill="#9fd40c"/><circle cx="1536.8" cy="680.7" r="2.6" fill="#fff"/>
<ellipse cx="1542.4" cy="678.3" rx="6.3" ry="5.3" fill="#9fd40c"/><circle cx="1542.4" cy="678.3" r="2.6" fill="#fff"/>
<ellipse cx="1548" cy="676.7" rx="6.3" ry="5.3" fill="#9fd40c"/><circle cx="1548" cy="676.7" r="2.6" fill="#fff"/>
<ellipse cx="1553.6" cy="679.8" rx="6.3" ry="5.3" fill="#9fd40c"/><circle cx="1553.6" cy="679.8" r="2.6" fill="#fff"/>
<ellipse cx="1559.2" cy="681.6" rx="6.3" ry="5.3" fill="#9fd40c"/><circle cx="1559.2" cy="681.6" r="2.6" fill="#fff"/>
<ellipse cx="1564.8" cy="681.4" rx="6.3" ry="5.3" fill="#9fd40c"/><circle cx="1564.8" cy="681.4" r="2.6" fill="#fff"/>
<ellipse cx="1570.4" cy="681.3" rx="6.3" ry="5.3" fill="#9fd40c"/><circle cx="1570.4" cy="681.3" r="2.6" fill="#fff"/>
<ellipse cx="1576" cy="681.1" rx="6.3" ry="5.3" fill="#9fd40c"/><circle cx="1576" cy="681.1" r="2.6" fill="#fff"/>
<ellipse cx="1581.6" cy="681.5" rx="6.3" ry="5.3" fill="#9fd40c"/><circle cx="1581.6" cy="681.5" r="2.6" fill="#fff"/>
<ellipse cx="1587.2" cy="681.9" rx="6.3" ry="5.3" fill="#9fd40c"/><circle cx="1587.2" cy="681.9" r="2.6" fill="#fff"/>
<ellipse cx="1592.8" cy="682.3" rx="6.3" ry="5.3" fill="#9fd40c"/><circle cx="1592.8" cy="682.3" r="2.6" fill="#fff"/>
<ellipse cx="1598.4" cy="683.7" rx="6.3" ry="5.3" fill="#9fd40c"/><circle cx="1598.4" cy="683.7" r="2.6" fill="#fff"/>
<ellipse cx="1604" cy="685.3" rx="6.3" ry="5.3" fill="#9fd40c"/><circle cx="1604" cy="685.3" r="2.6" fill="#fff"/>
<polyline points="915.6,871.2 921.2,855.3 926.8,843.2 932.4,830.3 938,819 943.6,809.2 949.2,798.3 954.8,790.7 960.4,782 966,774.4 971.6,770.4 977.2,767.7 982.8,764.6 988.4,761.3 994,753.4 999.6,752.5 1005.1,753.5 1010.7,750.1 1016.3,746.5 1021.9,748.8 1027.5,753.4 1033.1,760.4 1038.7,759.4 1044.3,759 1049.9,761.8 1055.5,764.2 1061.1,765.3 1066.7,762.2 1072.3,758.1 1077.9,755.7 1083.5,754.6 1089.1,749.4 1094.7,742.8 1100.3,741.8 1105.9,743.5 1111.5,743.1 1117.1,739.4 1122.7,734.4 1128.3,736.8 1133.9,738.9 1139.5,738 1145.1,735.7 1150.7,737.4 1156.3,741.4 1161.9,740.3 1167.5,735.5 1173.1,732.4 1178.6,732.3 1184.2,732.8 1189.8,728.8 1195.4,723 1201,718.9 1206.6,716.8 1212.2,716.2 1217.8,716.1 1223.4,716.6 1229,718.4 1234.6,720.8 1240.2,719.7 1245.8,717.6 1251.4,714.4 1257,718.6 1262.6,718.6 1268.2,714.5 1273.8,707.3 1279.4,702.4 1285,700.5 1290.6,699.3 1296.2,697.4 1301.8,696.3 1307.4,696.6 1313,696.9 1318.6,696.4 1324.2,694.9 1329.8,695.3 1335.4,699.5 1341,704 1346.5,704.2 1352.1,698.3 1357.7,696.8 1363.3,698.9 1368.9,698 1374.5,694.3 1380.1,691.3 1385.7,689.9 1391.3,689.4 1396.9,688.1 1402.5,686.4 1408.1,686.7 1413.7,689.4 1419.3,691.8 1424.9,691.2 1430.5,687.8 1436.1,689.8 1441.7,692.1 1447.3,693.7 1452.9,693.2 1458.5,692.7 1464.1,692.4 1469.7,692.2 1475.3,691.5 1480.9,686 1486.5,689.5 1492.1,692.5 1497.7,694.1 1503.3,695.9 1508.9,698.1 1514.5,700.4 1520,704.1 1525.6,706.7 1531.2,705.2 1536.8,706.7 1542.4,709.5 1548,711 1553.6,709.9 1559.2,710.3 1564.8,717.6 1570.4,720.8 1576,723.4 1581.6,722.9 1587.2,722.3 1592.8,719.2 1598.4,716.1 1604,713.4" fill="none" stroke="#3aa512" stroke-width="3.6" stroke-linejoin="round"/>
<ellipse cx="915.6" cy="871.2" rx="6.3" ry="5.3" fill="#3aa512"/><circle cx="915.6" cy="871.2" r="2.6" fill="#fff"/>
<ellipse cx="921.2" cy="855.3" rx="6.3" ry="5.3" fill="#3aa512"/><circle cx="921.2" cy="855.3" r="2.6" fill="#fff"/>
<ellipse cx="926.8" cy="843.2" rx="6.3" ry="5.3" fill="#3aa512"/><circle cx="926.8" cy="843.2" r="2.6" fill="#fff"/>
<ellipse cx="932.4" cy="830.3" rx="6.3" ry="5.3" fill="#3aa512"/><circle cx="932.4" cy="830.3" r="2.6" fill="#fff"/>
<ellipse cx="938" cy="819" rx="6.3" ry="5.3" fill="#3aa512"/><circle cx="938" cy="819" r="2.6" fill="#fff"/>
<ellipse cx="943.6" cy="809.2" rx="6.3" ry="5.3" fill="#3aa512"/><circle cx="943.6" cy="809.2" r="2.6" fill="#fff"/>
<ellipse cx="949.2" cy="798.3" rx="6.3" ry="5.3" fill="#3aa512"/><circle cx="949.2" cy="798.3" r="2.6" fill="#fff"/>
<ellipse cx="954.8" cy="790.7" rx="6.3" ry="5.3" fill="#3aa512"/><circle cx="954.8" cy="790.7" r="2.6" fill="#fff"/>
<ellipse cx="960.4" cy="782" rx="6.3" ry="5.3" fill="#3aa512"/><circle cx="960.4" cy="782" r="2.6" fill="#fff"/>
<ellipse cx="966" cy="774.4" rx="6.3" ry="5.3" fill="#3aa512"/><circle cx="966" cy="774.4" r="2.6" fill="#fff"/>
<ellipse cx="971.6" cy="770.4" rx="6.3" ry="5.3" fill="#3aa512"/><circle cx="971.6" cy="770.4" r="2.6" fill="#fff"/>
<ellipse cx="977.2" cy="767.7" rx="6.3" ry="5.3" fill="#3aa512"/><circle cx="977.2" cy="767.7" r="2.6" fill="#fff"/>
<ellipse cx="982.8" cy="764.6" rx="6.3" ry="5.3" fill="#3aa512"/><circle cx="982.8" cy="764.6" r="2.6" fill="#fff"/>
<ellipse cx="988.4" cy="761.3" rx="6.3" ry="5.3" fill="#3aa512"/><circle cx="988.4" cy="761.3" r="2.6" fill="#fff"/>
<ellipse cx="994" cy="753.4" rx="6.3" ry="5.3" fill="#3aa512"/><circle cx="994" cy="753.4" r="2.6" fill="#fff"/>
<ellipse cx="999.6" cy="752.5" rx="6.3" ry="5.3" fill="#3aa512"/><circle cx="999.6" cy="752.5" r="2.6" fill="#fff"/>
<ellipse cx="1005.1" cy="753.5" rx="6.3" ry="5.3" fill="#3aa512"/><circle cx="1005.1" cy="753.5" r="2.6" fill="#fff"/>
<ellipse cx="1010.7" cy="750.1" rx="6.3" ry="5.3" fill="#3aa512"/><circle cx="1010.7" cy="750.1" r="2.6" fill="#fff"/>
<ellipse cx="1016.3" cy="746.5" rx="6.3" ry="5.3" fill="#3aa512"/><circle cx="1016.3" cy="746.5" r="2.6" fill="#fff"/>
<ellipse cx="1021.9" cy="748.8" rx="6.3" ry="5.3" fill="#3aa512"/><circle cx="1021.9" cy="748.8" r="2.6" fill="#fff"/>
<ellipse cx="1027.5" cy="753.4" rx="6.3" ry="5.3" fill="#3aa512"/><circle cx="1027.5" cy="753.4" r="2.6" fill="#fff"/>
<ellipse cx="1033.1" cy="760.4" rx="6.3" ry="5.3" fill="#3aa512"/><circle cx="1033.1" cy="760.4" r="2.6" fill="#fff"/>
<ellipse cx="1038.7" cy="759.4" rx="6.3" ry="5.3" fill="#3aa512"/><circle cx="1038.7" cy="759.4" r="2.6" fill="#fff"/>
<ellipse cx="1044.3" cy="759" rx="6.3" ry="5.3" fill="#3aa512"/><circle cx="1044.3" cy="759" r="2.6" fill="#fff"/>
<ellipse cx="1049.9" cy="761.8" rx="6.3" ry="5.3" fill="#3aa512"/><circle cx="1049.9" cy="761.8" r="2.6" fill="#fff"/>
<ellipse cx="1055.5" cy="764.2" rx="6.3" ry="5.3" fill="#3aa512"/><circle cx="1055.5" cy="764.2" r="2.6" fill="#fff"/>
<ellipse cx="1061.1" cy="765.3" rx="6.3" ry="5.3" fill="#3aa512"/><circle cx="1061.1" cy="765.3" r="2.6" fill="#fff"/>
<ellipse cx="1066.7" cy="762.2" rx="6.3" ry="5.3" fill="#3aa512"/><circle cx="1066.7" cy="762.2" r="2.6" fill="#fff"/>
<ellipse cx="1072.3" cy="758.1" rx="6.3" ry="5.3" fill="#3aa512"/><circle cx="1072.3" cy="758.1" r="2.6" fill="#fff"/>
<ellipse cx="1077.9" cy="755.7" rx="6.3" ry="5.3" fill="#3aa512"/><circle cx="1077.9" cy="755.7" r="2.6" fill="#fff"/>
<ellipse cx="1083.5" cy="754.6" rx="6.3" ry="5.3" fill="#3aa512"/><circle cx="1083.5" cy="754.6" r="2.6" fill="#fff"/>
<ellipse cx="1089.1" cy="749.4" rx="6.3" ry="5.3" fill="#3aa512"/><circle cx="1089.1" cy="749.4" r="2.6" fill="#fff"/>
<ellipse cx="1094.7" cy="742.8" rx="6.3" ry="5.3" fill="#3aa512"/><circle cx="1094.7" cy="742.8" r="2.6" fill="#fff"/>
<ellipse cx="1100.3" cy="741.8" rx="6.3" ry="5.3" fill="#3aa512"/><circle cx="1100.3" cy="741.8" r="2.6" fill="#fff"/>
<ellipse cx="1105.9" cy="743.5" rx="6.3" ry="5.3" fill="#3aa512"/><circle cx="1105.9" cy="743.5" r="2.6" fill="#fff"/>
<ellipse cx="1111.5" cy="743.1" rx="6.3" ry="5.3" fill="#3aa512"/><circle cx="1111.5" cy="743.1" r="2.6" fill="#fff"/>
<ellipse cx="1117.1" cy="739.4" rx="6.3" ry="5.3" fill="#3aa512"/><circle cx="1117.1" cy="739.4" r="2.6" fill="#fff"/>
<ellipse cx="1122.7" cy="734.4" rx="6.3" ry="5.3" fill="#3aa512"/><circle cx="1122.7" cy="734.4" r="2.6" fill="#fff"/>
<ellipse cx="1128.3" cy="736.8" rx="6.3" ry="5.3" fill="#3aa512"/><circle cx="1128.3" cy="736.8" r="2.6" fill="#fff"/>
<ellipse cx="1133.9" cy="738.9" rx="6.3" ry="5.3" fill="#3aa512"/><circle cx="1133.9" cy="738.9" r="2.6" fill="#fff"/>
<ellipse cx="1139.5" cy="738" rx="6.3" ry="5.3" fill="#3aa512"/><circle cx="1139.5" cy="738" r="2.6" fill="#fff"/>
<ellipse cx="1145.1" cy="735.7" rx="6.3" ry="5.3" fill="#3aa512"/><circle cx="1145.1" cy="735.7" r="2.6" fill="#fff"/>
<ellipse cx="1150.7" cy="737.4" rx="6.3" ry="5.3" fill="#3aa512"/><circle cx="1150.7" cy="737.4" r="2.6" fill="#fff"/>
<ellipse cx="1156.3" cy="741.4" rx="6.3" ry="5.3" fill="#3aa512"/><circle cx="1156.3" cy="741.4" r="2.6" fill="#fff"/>
<ellipse cx="1161.9" cy="740.3" rx="6.3" ry="5.3" fill="#3aa512"/><circle cx="1161.9" cy="740.3" r="2.6" fill="#fff"/>
<ellipse cx="1167.5" cy="735.5" rx="6.3" ry="5.3" fill="#3aa512"/><circle cx="1167.5" cy="735.5" r="2.6" fill="#fff"/>
<ellipse cx="1173.1" cy="732.4" rx="6.3" ry="5.3" fill="#3aa512"/><circle cx="1173.1" cy="732.4" r="2.6" fill="#fff"/>
<ellipse cx="1178.6" cy="732.3" rx="6.3" ry="5.3" fill="#3aa512"/><circle cx="1178.6" cy="732.3" r="2.6" fill="#fff"/>
<ellipse cx="1184.2" cy="732.8" rx="6.3" ry="5.3" fill="#3aa512"/><circle cx="1184.2" cy="732.8" r="2.6" fill="#fff"/>
<ellipse cx="1189.8" cy="728.8" rx="6.3" ry="5.3" fill="#3aa512"/><circle cx="1189.8" cy="728.8" r="2.6" fill="#fff"/>
<ellipse cx="1195.4" cy="723" rx="6.3" ry="5.3" fill="#3aa512"/><circle cx="1195.4" cy="723" r="2.6" fill="#fff"/>
<ellipse cx="1201" cy="718.9" rx="6.3" ry="5.3" fill="#3aa512"/><circle cx="1201" cy="718.9" r="2.6" fill="#fff"/>
<ellipse cx="1206.6" cy="716.8" rx="6.3" ry="5.3" fill="#3aa512"/><circle cx="1206.6" cy="716.8" r="2.6" fill="#fff"/>
<ellipse cx="1212.2" cy="716.2" rx="6.3" ry="5.3" fill="#3aa512"/><circle cx="1212.2" cy="716.2" r="2.6" fill="#fff"/>
<ellipse cx="1217.8" cy="716.1" rx="6.3" ry="5.3" fill="#3aa512"/><circle cx="1217.8" cy="716.1" r="2.6" fill="#fff"/>
<ellipse cx="1223.4" cy="716.6" rx="6.3" ry="5.3" fill="#3aa512"/><circle cx="1223.4" cy="716.6" r="2.6" fill="#fff"/>
<ellipse cx="1229" cy="718.4" rx="6.3" ry="5.3" fill="#3aa512"/><circle cx="1229" cy="718.4" r="2.6" fill="#fff"/>
<ellipse cx="1234.6" cy="720.8" rx="6.3" ry="5.3" fill="#3aa512"/><circle cx="1234.6" cy="720.8" r="2.6" fill="#fff"/>
<ellipse cx="1240.2" cy="719.7" rx="6.3" ry="5.3" fill="#3aa512"/><circle cx="1240.2" cy="719.7" r="2.6" fill="#fff"/>
<ellipse cx="1245.8" cy="717.6" rx="6.3" ry="5.3" fill="#3aa512"/><circle cx="1245.8" cy="717.6" r="2.6" fill="#fff"/>
<ellipse cx="1251.4" cy="714.4" rx="6.3" ry="5.3" fill="#3aa512"/><circle cx="1251.4" cy="714.4" r="2.6" fill="#fff"/>
<ellipse cx="1257" cy="718.6" rx="6.3" ry="5.3" fill="#3aa512"/><circle cx="1257" cy="718.6" r="2.6" fill="#fff"/>
<ellipse cx="1262.6" cy="718.6" rx="6.3" ry="5.3" fill="#3aa512"/><circle cx="1262.6" cy="718.6" r="2.6" fill="#fff"/>
<ellipse cx="1268.2" cy="714.5" rx="6.3" ry="5.3" fill="#3aa512"/><circle cx="1268.2" cy="714.5" r="2.6" fill="#fff"/>
<ellipse cx="1273.8" cy="707.3" rx="6.3" ry="5.3" fill="#3aa512"/><circle cx="1273.8" cy="707.3" r="2.6" fill="#fff"/>
<ellipse cx="1279.4" cy="702.4" rx="6.3" ry="5.3" fill="#3aa512"/><circle cx="1279.4" cy="702.4" r="2.6" fill="#fff"/>
<ellipse cx="1285" cy="700.5" rx="6.3" ry="5.3" fill="#3aa512"/><circle cx="1285" cy="700.5" r="2.6" fill="#fff"/>
<ellipse cx="1290.6" cy="699.3" rx="6.3" ry="5.3" fill="#3aa512"/><circle cx="1290.6" cy="699.3" r="2.6" fill="#fff"/>
<ellipse cx="1296.2" cy="697.4" rx="6.3" ry="5.3" fill="#3aa512"/><circle cx="1296.2" cy="697.4" r="2.6" fill="#fff"/>
<ellipse cx="1301.8" cy="696.3" rx="6.3" ry="5.3" fill="#3aa512"/><circle cx="1301.8" cy="696.3" r="2.6" fill="#fff"/>
<ellipse cx="1307.4" cy="696.6" rx="6.3" ry="5.3" fill="#3aa512"/><circle cx="1307.4" cy="696.6" r="2.6" fill="#fff"/>
<ellipse cx="1313" cy="696.9" rx="6.3" ry="5.3" fill="#3aa512"/><circle cx="1313" cy="696.9" r="2.6" fill="#fff"/>
<ellipse cx="1318.6" cy="696.4" rx="6.3" ry="5.3" fill="#3aa512"/><circle cx="1318.6" cy="696.4" r="2.6" fill="#fff"/>
<ellipse cx="1324.2" cy="694.9" rx="6.3" ry="5.3" fill="#3aa512"/><circle cx="1324.2" cy="694.9" r="2.6" fill="#fff"/>
<ellipse cx="1329.8" cy="695.3" rx="6.3" ry="5.3" fill="#3aa512"/><circle cx="1329.8" cy="695.3" r="2.6" fill="#fff"/>
<ellipse cx="1335.4" cy="699.5" rx="6.3" ry="5.3" fill="#3aa512"/><circle cx="1335.4" cy="699.5" r="2.6" fill="#fff"/>
<ellipse cx="1341" cy="704" rx="6.3" ry="5.3" fill="#3aa512"/><circle cx="1341" cy="704" r="2.6" fill="#fff"/>
<ellipse cx="1346.5" cy="704.2" rx="6.3" ry="5.3" fill="#3aa512"/><circle cx="1346.5" cy="704.2" r="2.6" fill="#fff"/>
<ellipse cx="1352.1" cy="698.3" rx="6.3" ry="5.3" fill="#3aa512"/><circle cx="1352.1" cy="698.3" r="2.6" fill="#fff"/>
<ellipse cx="1357.7" cy="696.8" rx="6.3" ry="5.3" fill="#3aa512"/><circle cx="1357.7" cy="696.8" r="2.6" fill="#fff"/>
<ellipse cx="1363.3" cy="698.9" rx="6.3" ry="5.3" fill="#3aa512"/><circle cx="1363.3" cy="698.9" r="2.6" fill="#fff"/>
<ellipse cx="1368.9" cy="698" rx="6.3" ry="5.3" fill="#3aa512"/><circle cx="1368.9" cy="698" r="2.6" fill="#fff"/>
<ellipse cx="1374.5" cy="694.3" rx="6.3" ry="5.3" fill="#3aa512"/><circle cx="1374.5" cy="694.3" r="2.6" fill="#fff"/>
<ellipse cx="1380.1" cy="691.3" rx="6.3" ry="5.3" fill="#3aa512"/><circle cx="1380.1" cy="691.3" r="2.6" fill="#fff"/>
<ellipse cx="1385.7" cy="689.9" rx="6.3" ry="5.3" fill="#3aa512"/><circle cx="1385.7" cy="689.9" r="2.6" fill="#fff"/>
<ellipse cx="1391.3" cy="689.4" rx="6.3" ry="5.3" fill="#3aa512"/><circle cx="1391.3" cy="689.4" r="2.6" fill="#fff"/>
<ellipse cx="1396.9" cy="688.1" rx="6.3" ry="5.3" fill="#3aa512"/><circle cx="1396.9" cy="688.1" r="2.6" fill="#fff"/>
<ellipse cx="1402.5" cy="686.4" rx="6.3" ry="5.3" fill="#3aa512"/><circle cx="1402.5" cy="686.4" r="2.6" fill="#fff"/>
<ellipse cx="1408.1" cy="686.7" rx="6.3" ry="5.3" fill="#3aa512"/><circle cx="1408.1" cy="686.7" r="2.6" fill="#fff"/>
<ellipse cx="1413.7" cy="689.4" rx="6.3" ry="5.3" fill="#3aa512"/><circle cx="1413.7" cy="689.4" r="2.6" fill="#fff"/>
<ellipse cx="1419.3" cy="691.8" rx="6.3" ry="5.3" fill="#3aa512"/><circle cx="1419.3" cy="691.8" r="2.6" fill="#fff"/>
<ellipse cx="1424.9" cy="691.2" rx="6.3" ry="5.3" fill="#3aa512"/><circle cx="1424.9" cy="691.2" r="2.6" fill="#fff"/>
<ellipse cx="1430.5" cy="687.8" rx="6.3" ry="5.3" fill="#3aa512"/><circle cx="1430.5" cy="687.8" r="2.6" fill="#fff"/>
<ellipse cx="1436.1" cy="689.8" rx="6.3" ry="5.3" fill="#3aa512"/><circle cx="1436.1" cy="689.8" r="2.6" fill="#fff"/>
<ellipse cx="1441.7" cy="692.1" rx="6.3" ry="5.3" fill="#3aa512"/><circle cx="1441.7" cy="692.1" r="2.6" fill="#fff"/>
<ellipse cx="1447.3" cy="693.7" rx="6.3" ry="5.3" fill="#3aa512"/><circle cx="1447.3" cy="693.7" r="2.6" fill="#fff"/>
<ellipse cx="1452.9" cy="693.2" rx="6.3" ry="5.3" fill="#3aa512"/><circle cx="1452.9" cy="693.2" r="2.6" fill="#fff"/>
<ellipse cx="1458.5" cy="692.7" rx="6.3" ry="5.3" fill="#3aa512"/><circle cx="1458.5" cy="692.7" r="2.6" fill="#fff"/>
<ellipse cx="1464.1" cy="692.4" rx="6.3" ry="5.3" fill="#3aa512"/><circle cx="1464.1" cy="692.4" r="2.6" fill="#fff"/>
<ellipse cx="1469.7" cy="692.2" rx="6.3" ry="5.3" fill="#3aa512"/><circle cx="1469.7" cy="692.2" r="2.6" fill="#fff"/>
<ellipse cx="1475.3" cy="691.5" rx="6.3" ry="5.3" fill="#3aa512"/><circle cx="1475.3" cy="691.5" r="2.6" fill="#fff"/>
<ellipse cx="1480.9" cy="686" rx="6.3" ry="5.3" fill="#3aa512"/><circle cx="1480.9" cy="686" r="2.6" fill="#fff"/>
<ellipse cx="1486.5" cy="689.5" rx="6.3" ry="5.3" fill="#3aa512"/><circle cx="1486.5" cy="689.5" r="2.6" fill="#fff"/>
<ellipse cx="1492.1" cy="692.5" rx="6.3" ry="5.3" fill="#3aa512"/><circle cx="1492.1" cy="692.5" r="2.6" fill="#fff"/>
<ellipse cx="1497.7" cy="694.1" rx="6.3" ry="5.3" fill="#3aa512"/><circle cx="1497.7" cy="694.1" r="2.6" fill="#fff"/>
<ellipse cx="1503.3" cy="695.9" rx="6.3" ry="5.3" fill="#3aa512"/><circle cx="1503.3" cy="695.9" r="2.6" fill="#fff"/>
<ellipse cx="1508.9" cy="698.1" rx="6.3" ry="5.3" fill="#3aa512"/><circle cx="1508.9" cy="698.1" r="2.6" fill="#fff"/>
<ellipse cx="1514.5" cy="700.4" rx="6.3" ry="5.3" fill="#3aa512"/><circle cx="1514.5" cy="700.4" r="2.6" fill="#fff"/>
<ellipse cx="1520" cy="704.1" rx="6.3" ry="5.3" fill="#3aa512"/><circle cx="1520" cy="704.1" r="2.6" fill="#fff"/>
<ellipse cx="1525.6" cy="706.7" rx="6.3" ry="5.3" fill="#3aa512"/><circle cx="1525.6" cy="706.7" r="2.6" fill="#fff"/>
<ellipse cx="1531.2" cy="705.2" rx="6.3" ry="5.3" fill="#3aa512"/><circle cx="1531.2" cy="705.2" r="2.6" fill="#fff"/>
<ellipse cx="1536.8" cy="706.7" rx="6.3" ry="5.3" fill="#3aa512"/><circle cx="1536.8" cy="706.7" r="2.6" fill="#fff"/>
<ellipse cx="1542.4" cy="709.5" rx="6.3" ry="5.3" fill="#3aa512"/><circle cx="1542.4" cy="709.5" r="2.6" fill="#fff"/>
<ellipse cx="1548" cy="711" rx="6.3" ry="5.3" fill="#3aa512"/><circle cx="1548" cy="711" r="2.6" fill="#fff"/>
<ellipse cx="1553.6" cy="709.9" rx="6.3" ry="5.3" fill="#3aa512"/><circle cx="1553.6" cy="709.9" r="2.6" fill="#fff"/>
<ellipse cx="1559.2" cy="710.3" rx="6.3" ry="5.3" fill="#3aa512"/><circle cx="1559.2" cy="710.3" r="2.6" fill="#fff"/>
<ellipse cx="1564.8" cy="717.6" rx="6.3" ry="5.3" fill="#3aa512"/><circle cx="1564.8" cy="717.6" r="2.6" fill="#fff"/>
<ellipse cx="1570.4" cy="720.8" rx="6.3" ry="5.3" fill="#3aa512"/><circle cx="1570.4" cy="720.8" r="2.6" fill="#fff"/>
<ellipse cx="1576" cy="723.4" rx="6.3" ry="5.3" fill="#3aa512"/><circle cx="1576" cy="723.4" r="2.6" fill="#fff"/>
<ellipse cx="1581.6" cy="722.9" rx="6.3" ry="5.3" fill="#3aa512"/><circle cx="1581.6" cy="722.9" r="2.6" fill="#fff"/>
<ellipse cx="1587.2" cy="722.3" rx="6.3" ry="5.3" fill="#3aa512"/><circle cx="1587.2" cy="722.3" r="2.6" fill="#fff"/>
<ellipse cx="1592.8" cy="719.2" rx="6.3" ry="5.3" fill="#3aa512"/><circle cx="1592.8" cy="719.2" r="2.6" fill="#fff"/>
<ellipse cx="1598.4" cy="716.1" rx="6.3" ry="5.3" fill="#3aa512"/><circle cx="1598.4" cy="716.1" r="2.6" fill="#fff"/>
<ellipse cx="1604" cy="713.4" rx="6.3" ry="5.3" fill="#3aa512"/><circle cx="1604" cy="713.4" r="2.6" fill="#fff"/>
<polyline points="915.6,1052.5 921.2,1041.2 926.8,1027.1 932.4,1013.8 938,1000.8 943.6,991 949.2,978.6 954.8,967.1 960.4,954.3 966,945.8 971.6,938.1 977.2,929.2 982.8,920.7 988.4,912.9 994,907.9 999.6,903.5 1005.1,899 1010.7,892.1 1016.3,883.4 1021.9,877.1 1027.5,871.5 1033.1,865.9 1038.7,857.7 1044.3,851.9 1049.9,847 1055.5,842.1 1061.1,837.6 1066.7,834 1072.3,831 1077.9,829.4 1083.5,824.9 1089.1,818.7 1094.7,812.7 1100.3,808.2 1105.9,803.4 1111.5,797.3 1117.1,790.6 1122.7,787.7 1128.3,785.5 1133.9,783.2 1139.5,780.6 1145.1,778.9 1150.7,778.9 1156.3,779.4 1161.9,775.8 1167.5,770 1173.1,766 1178.6,762.9 1184.2,758.4 1189.8,752.2 1195.4,747.3 1201,743.6 1206.6,740.8 1212.2,737.5 1217.8,733.3 1223.4,730.4 1229,729 1234.6,727.3 1240.2,721.9 1245.8,714.9 1251.4,708.7 1257,705.2 1262.6,701.4 1268.2,695.8 1273.8,691.7 1279.4,689.1 1285,686.6 1290.6,683.5 1296.2,679.4 1301.8,677.2 1307.4,676.3 1313,674.3 1318.6,670.3 1324.2,665.8 1329.8,663.9 1335.4,664.4 1341,664.1 1346.5,661.3 1352.1,659.2 1357.7,657.6 1363.3,655.7 1368.9,652 1374.5,647.3 1380.1,644.7 1385.7,642.7 1391.3,640.4 1396.9,637.9 1402.5,636.3 1408.1,636.9 1413.7,638 1419.3,636.4 1424.9,633.1 1430.5,630.9 1436.1,630.6 1441.7,629.7 1447.3,628.6 1452.9,626.7 1458.5,625 1464.1,623.9 1469.7,622.6 1475.3,620.1 1480.9,618.5 1486.5,619.7 1492.1,620.4 1497.7,619.9 1503.3,619.4 1508.9,619.7 1514.5,620 1520,622.6 1525.6,620.9 1531.2,618.8 1536.8,618.8 1542.4,618.8 1548,618.8 1553.6,618.8 1559.2,619.5 1564.8,623.7 1570.4,624.6 1576,625.4 1581.6,625.1 1587.2,624.8 1592.8,623.8 1598.4,622.8 1604,621.8" fill="none" stroke="#3e590d" stroke-width="3.6" stroke-linejoin="round"/>
<ellipse cx="915.6" cy="1052.5" rx="6.3" ry="5.3" fill="#3e590d"/><circle cx="915.6" cy="1052.5" r="2.6" fill="#fff"/>
<ellipse cx="921.2" cy="1041.2" rx="6.3" ry="5.3" fill="#3e590d"/><circle cx="921.2" cy="1041.2" r="2.6" fill="#fff"/>
<ellipse cx="926.8" cy="1027.1" rx="6.3" ry="5.3" fill="#3e590d"/><circle cx="926.8" cy="1027.1" r="2.6" fill="#fff"/>
<ellipse cx="932.4" cy="1013.8" rx="6.3" ry="5.3" fill="#3e590d"/><circle cx="932.4" cy="1013.8" r="2.6" fill="#fff"/>
<ellipse cx="938" cy="1000.8" rx="6.3" ry="5.3" fill="#3e590d"/><circle cx="938" cy="1000.8" r="2.6" fill="#fff"/>
<ellipse cx="943.6" cy="991" rx="6.3" ry="5.3" fill="#3e590d"/><circle cx="943.6" cy="991" r="2.6" fill="#fff"/>
<ellipse cx="949.2" cy="978.6" rx="6.3" ry="5.3" fill="#3e590d"/><circle cx="949.2" cy="978.6" r="2.6" fill="#fff"/>
<ellipse cx="954.8" cy="967.1" rx="6.3" ry="5.3" fill="#3e590d"/><circle cx="954.8" cy="967.1" r="2.6" fill="#fff"/>
<ellipse cx="960.4" cy="954.3" rx="6.3" ry="5.3" fill="#3e590d"/><circle cx="960.4" cy="954.3" r="2.6" fill="#fff"/>
<ellipse cx="966" cy="945.8" rx="6.3" ry="5.3" fill="#3e590d"/><circle cx="966" cy="945.8" r="2.6" fill="#fff"/>
<ellipse cx="971.6" cy="938.1" rx="6.3" ry="5.3" fill="#3e590d"/><circle cx="971.6" cy="938.1" r="2.6" fill="#fff"/>
<ellipse cx="977.2" cy="929.2" rx="6.3" ry="5.3" fill="#3e590d"/><circle cx="977.2" cy="929.2" r="2.6" fill="#fff"/>
<ellipse cx="982.8" cy="920.7" rx="6.3" ry="5.3" fill="#3e590d"/><circle cx="982.8" cy="920.7" r="2.6" fill="#fff"/>
<ellipse cx="988.4" cy="912.9" rx="6.3" ry="5.3" fill="#3e590d"/><circle cx="988.4" cy="912.9" r="2.6" fill="#fff"/>
<ellipse cx="994" cy="907.9" rx="6.3" ry="5.3" fill="#3e590d"/><circle cx="994" cy="907.9" r="2.6" fill="#fff"/>
<ellipse cx="999.6" cy="903.5" rx="6.3" ry="5.3" fill="#3e590d"/><circle cx="999.6" cy="903.5" r="2.6" fill="#fff"/>
<ellipse cx="1005.1" cy="899" rx="6.3" ry="5.3" fill="#3e590d"/><circle cx="1005.1" cy="899" r="2.6" fill="#fff"/>
<ellipse cx="1010.7" cy="892.1" rx="6.3" ry="5.3" fill="#3e590d"/><circle cx="1010.7" cy="892.1" r="2.6" fill="#fff"/>
<ellipse cx="1016.3" cy="883.4" rx="6.3" ry="5.3" fill="#3e590d"/><circle cx="1016.3" cy="883.4" r="2.6" fill="#fff"/>
<ellipse cx="1021.9" cy="877.1" rx="6.3" ry="5.3" fill="#3e590d"/><circle cx="1021.9" cy="877.1" r="2.6" fill="#fff"/>
<ellipse cx="1027.5" cy="871.5" rx="6.3" ry="5.3" fill="#3e590d"/><circle cx="1027.5" cy="871.5" r="2.6" fill="#fff"/>
<ellipse cx="1033.1" cy="865.9" rx="6.3" ry="5.3" fill="#3e590d"/><circle cx="1033.1" cy="865.9" r="2.6" fill="#fff"/>
<ellipse cx="1038.7" cy="857.7" rx="6.3" ry="5.3" fill="#3e590d"/><circle cx="1038.7" cy="857.7" r="2.6" fill="#fff"/>
<ellipse cx="1044.3" cy="851.9" rx="6.3" ry="5.3" fill="#3e590d"/><circle cx="1044.3" cy="851.9" r="2.6" fill="#fff"/>
<ellipse cx="1049.9" cy="847" rx="6.3" ry="5.3" fill="#3e590d"/><circle cx="1049.9" cy="847" r="2.6" fill="#fff"/>
<ellipse cx="1055.5" cy="842.1" rx="6.3" ry="5.3" fill="#3e590d"/><circle cx="1055.5" cy="842.1" r="2.6" fill="#fff"/>
<ellipse cx="1061.1" cy="837.6" rx="6.3" ry="5.3" fill="#3e590d"/><circle cx="1061.1" cy="837.6" r="2.6" fill="#fff"/>
<ellipse cx="1066.7" cy="834" rx="6.3" ry="5.3" fill="#3e590d"/><circle cx="1066.7" cy="834" r="2.6" fill="#fff"/>
<ellipse cx="1072.3" cy="831" rx="6.3" ry="5.3" fill="#3e590d"/><circle cx="1072.3" cy="831" r="2.6" fill="#fff"/>
<ellipse cx="1077.9" cy="829.4" rx="6.3" ry="5.3" fill="#3e590d"/><circle cx="1077.9" cy="829.4" r="2.6" fill="#fff"/>
<ellipse cx="1083.5" cy="824.9" rx="6.3" ry="5.3" fill="#3e590d"/><circle cx="1083.5" cy="824.9" r="2.6" fill="#fff"/>
<ellipse cx="1089.1" cy="818.7" rx="6.3" ry="5.3" fill="#3e590d"/><circle cx="1089.1" cy="818.7" r="2.6" fill="#fff"/>
<ellipse cx="1094.7" cy="812.7" rx="6.3" ry="5.3" fill="#3e590d"/><circle cx="1094.7" cy="812.7" r="2.6" fill="#fff"/>
<ellipse cx="1100.3" cy="808.2" rx="6.3" ry="5.3" fill="#3e590d"/><circle cx="1100.3" cy="808.2" r="2.6" fill="#fff"/>
<ellipse cx="1105.9" cy="803.4" rx="6.3" ry="5.3" fill="#3e590d"/><circle cx="1105.9" cy="803.4" r="2.6" fill="#fff"/>
<ellipse cx="1111.5" cy="797.3" rx="6.3" ry="5.3" fill="#3e590d"/><circle cx="1111.5" cy="797.3" r="2.6" fill="#fff"/>
<ellipse cx="1117.1" cy="790.6" rx="6.3" ry="5.3" fill="#3e590d"/><circle cx="1117.1" cy="790.6" r="2.6" fill="#fff"/>
<ellipse cx="1122.7" cy="787.7" rx="6.3" ry="5.3" fill="#3e590d"/><circle cx="1122.7" cy="787.7" r="2.6" fill="#fff"/>
<ellipse cx="1128.3" cy="785.5" rx="6.3" ry="5.3" fill="#3e590d"/><circle cx="1128.3" cy="785.5" r="2.6" fill="#fff"/>
<ellipse cx="1133.9" cy="783.2" rx="6.3" ry="5.3" fill="#3e590d"/><circle cx="1133.9" cy="783.2" r="2.6" fill="#fff"/>
<ellipse cx="1139.5" cy="780.6" rx="6.3" ry="5.3" fill="#3e590d"/><circle cx="1139.5" cy="780.6" r="2.6" fill="#fff"/>
<ellipse cx="1145.1" cy="778.9" rx="6.3" ry="5.3" fill="#3e590d"/><circle cx="1145.1" cy="778.9" r="2.6" fill="#fff"/>
<ellipse cx="1150.7" cy="778.9" rx="6.3" ry="5.3" fill="#3e590d"/><circle cx="1150.7" cy="778.9" r="2.6" fill="#fff"/>
<ellipse cx="1156.3" cy="779.4" rx="6.3" ry="5.3" fill="#3e590d"/><circle cx="1156.3" cy="779.4" r="2.6" fill="#fff"/>
<ellipse cx="1161.9" cy="775.8" rx="6.3" ry="5.3" fill="#3e590d"/><circle cx="1161.9" cy="775.8" r="2.6" fill="#fff"/>
<ellipse cx="1167.5" cy="770" rx="6.3" ry="5.3" fill="#3e590d"/><circle cx="1167.5" cy="770" r="2.6" fill="#fff"/>
<ellipse cx="1173.1" cy="766" rx="6.3" ry="5.3" fill="#3e590d"/><circle cx="1173.1" cy="766" r="2.6" fill="#fff"/>
<ellipse cx="1178.6" cy="762.9" rx="6.3" ry="5.3" fill="#3e590d"/><circle cx="1178.6" cy="762.9" r="2.6" fill="#fff"/>
<ellipse cx="1184.2" cy="758.4" rx="6.3" ry="5.3" fill="#3e590d"/><circle cx="1184.2" cy="758.4" r="2.6" fill="#fff"/>
<ellipse cx="1189.8" cy="752.2" rx="6.3" ry="5.3" fill="#3e590d"/><circle cx="1189.8" cy="752.2" r="2.6" fill="#fff"/>
<ellipse cx="1195.4" cy="747.3" rx="6.3" ry="5.3" fill="#3e590d"/><circle cx="1195.4" cy="747.3" r="2.6" fill="#fff"/>
<ellipse cx="1201" cy="743.6" rx="6.3" ry="5.3" fill="#3e590d"/><circle cx="1201" cy="743.6" r="2.6" fill="#fff"/>
<ellipse cx="1206.6" cy="740.8" rx="6.3" ry="5.3" fill="#3e590d"/><circle cx="1206.6" cy="740.8" r="2.6" fill="#fff"/>
<ellipse cx="1212.2" cy="737.5" rx="6.3" ry="5.3" fill="#3e590d"/><circle cx="1212.2" cy="737.5" r="2.6" fill="#fff"/>
<ellipse cx="1217.8" cy="733.3" rx="6.3" ry="5.3" fill="#3e590d"/><circle cx="1217.8" cy="733.3" r="2.6" fill="#fff"/>
<ellipse cx="1223.4" cy="730.4" rx="6.3" ry="5.3" fill="#3e590d"/><circle cx="1223.4" cy="730.4" r="2.6" fill="#fff"/>
<ellipse cx="1229" cy="729" rx="6.3" ry="5.3" fill="#3e590d"/><circle cx="1229" cy="729" r="2.6" fill="#fff"/>
<ellipse cx="1234.6" cy="727.3" rx="6.3" ry="5.3" fill="#3e590d"/><circle cx="1234.6" cy="727.3" r="2.6" fill="#fff"/>
<ellipse cx="1240.2" cy="721.9" rx="6.3" ry="5.3" fill="#3e590d"/><circle cx="1240.2" cy="721.9" r="2.6" fill="#fff"/>
<ellipse cx="1245.8" cy="714.9" rx="6.3" ry="5.3" fill="#3e590d"/><circle cx="1245.8" cy="714.9" r="2.6" fill="#fff"/>
<ellipse cx="1251.4" cy="708.7" rx="6.3" ry="5.3" fill="#3e590d"/><circle cx="1251.4" cy="708.7" r="2.6" fill="#fff"/>
<ellipse cx="1257" cy="705.2" rx="6.3" ry="5.3" fill="#3e590d"/><circle cx="1257" cy="705.2" r="2.6" fill="#fff"/>
<ellipse cx="1262.6" cy="701.4" rx="6.3" ry="5.3" fill="#3e590d"/><circle cx="1262.6" cy="701.4" r="2.6" fill="#fff"/>
<ellipse cx="1268.2" cy="695.8" rx="6.3" ry="5.3" fill="#3e590d"/><circle cx="1268.2" cy="695.8" r="2.6" fill="#fff"/>
<ellipse cx="1273.8" cy="691.7" rx="6.3" ry="5.3" fill="#3e590d"/><circle cx="1273.8" cy="691.7" r="2.6" fill="#fff"/>
<ellipse cx="1279.4" cy="689.1" rx="6.3" ry="5.3" fill="#3e590d"/><circle cx="1279.4" cy="689.1" r="2.6" fill="#fff"/>
<ellipse cx="1285" cy="686.6" rx="6.3" ry="5.3" fill="#3e590d"/><circle cx="1285" cy="686.6" r="2.6" fill="#fff"/>
<ellipse cx="1290.6" cy="683.5" rx="6.3" ry="5.3" fill="#3e590d"/><circle cx="1290.6" cy="683.5" r="2.6" fill="#fff"/>
<ellipse cx="1296.2" cy="679.4" rx="6.3" ry="5.3" fill="#3e590d"/><circle cx="1296.2" cy="679.4" r="2.6" fill="#fff"/>
<ellipse cx="1301.8" cy="677.2" rx="6.3" ry="5.3" fill="#3e590d"/><circle cx="1301.8" cy="677.2" r="2.6" fill="#fff"/>
<ellipse cx="1307.4" cy="676.3" rx="6.3" ry="5.3" fill="#3e590d"/><circle cx="1307.4" cy="676.3" r="2.6" fill="#fff"/>
<ellipse cx="1313" cy="674.3" rx="6.3" ry="5.3" fill="#3e590d"/><circle cx="1313" cy="674.3" r="2.6" fill="#fff"/>
<ellipse cx="1318.6" cy="670.3" rx="6.3" ry="5.3" fill="#3e590d"/><circle cx="1318.6" cy="670.3" r="2.6" fill="#fff"/>
<ellipse cx="1324.2" cy="665.8" rx="6.3" ry="5.3" fill="#3e590d"/><circle cx="1324.2" cy="665.8" r="2.6" fill="#fff"/>
<ellipse cx="1329.8" cy="663.9" rx="6.3" ry="5.3" fill="#3e590d"/><circle cx="1329.8" cy="663.9" r="2.6" fill="#fff"/>
<ellipse cx="1335.4" cy="664.4" rx="6.3" ry="5.3" fill="#3e590d"/><circle cx="1335.4" cy="664.4" r="2.6" fill="#fff"/>
<ellipse cx="1341" cy="664.1" rx="6.3" ry="5.3" fill="#3e590d"/><circle cx="1341" cy="664.1" r="2.6" fill="#fff"/>
<ellipse cx="1346.5" cy="661.3" rx="6.3" ry="5.3" fill="#3e590d"/><circle cx="1346.5" cy="661.3" r="2.6" fill="#fff"/>
<ellipse cx="1352.1" cy="659.2" rx="6.3" ry="5.3" fill="#3e590d"/><circle cx="1352.1" cy="659.2" r="2.6" fill="#fff"/>
<ellipse cx="1357.7" cy="657.6" rx="6.3" ry="5.3" fill="#3e590d"/><circle cx="1357.7" cy="657.6" r="2.6" fill="#fff"/>
<ellipse cx="1363.3" cy="655.7" rx="6.3" ry="5.3" fill="#3e590d"/><circle cx="1363.3" cy="655.7" r="2.6" fill="#fff"/>
<ellipse cx="1368.9" cy="652" rx="6.3" ry="5.3" fill="#3e590d"/><circle cx="1368.9" cy="652" r="2.6" fill="#fff"/>
<ellipse cx="1374.5" cy="647.3" rx="6.3" ry="5.3" fill="#3e590d"/><circle cx="1374.5" cy="647.3" r="2.6" fill="#fff"/>
<ellipse cx="1380.1" cy="644.7" rx="6.3" ry="5.3" fill="#3e590d"/><circle cx="1380.1" cy="644.7" r="2.6" fill="#fff"/>
<ellipse cx="1385.7" cy="642.7" rx="6.3" ry="5.3" fill="#3e590d"/><circle cx="1385.7" cy="642.7" r="2.6" fill="#fff"/>
<ellipse cx="1391.3" cy="640.4" rx="6.3" ry="5.3" fill="#3e590d"/><circle cx="1391.3" cy="640.4" r="2.6" fill="#fff"/>
<ellipse cx="1396.9" cy="637.9" rx="6.3" ry="5.3" fill="#3e590d"/><circle cx="1396.9" cy="637.9" r="2.6" fill="#fff"/>
<ellipse cx="1402.5" cy="636.3" rx="6.3" ry="5.3" fill="#3e590d"/><circle cx="1402.5" cy="636.3" r="2.6" fill="#fff"/>
<ellipse cx="1408.1" cy="636.9" rx="6.3" ry="5.3" fill="#3e590d"/><circle cx="1408.1" cy="636.9" r="2.6" fill="#fff"/>
<ellipse cx="1413.7" cy="638" rx="6.3" ry="5.3" fill="#3e590d"/><circle cx="1413.7" cy="638" r="2.6" fill="#fff"/>
<ellipse cx="1419.3" cy="636.4" rx="6.3" ry="5.3" fill="#3e590d"/><circle cx="1419.3" cy="636.4" r="2.6" fill="#fff"/>
<ellipse cx="1424.9" cy="633.1" rx="6.3" ry="5.3" fill="#3e590d"/><circle cx="1424.9" cy="633.1" r="2.6" fill="#fff"/>
<ellipse cx="1430.5" cy="630.9" rx="6.3" ry="5.3" fill="#3e590d"/><circle cx="1430.5" cy="630.9" r="2.6" fill="#fff"/>
<ellipse cx="1436.1" cy="630.6" rx="6.3" ry="5.3" fill="#3e590d"/><circle cx="1436.1" cy="630.6" r="2.6" fill="#fff"/>
<ellipse cx="1441.7" cy="629.7" rx="6.3" ry="5.3" fill="#3e590d"/><circle cx="1441.7" cy="629.7" r="2.6" fill="#fff"/>
<ellipse cx="1447.3" cy="628.6" rx="6.3" ry="5.3" fill="#3e590d"/><circle cx="1447.3" cy="628.6" r="2.6" fill="#fff"/>
<ellipse cx="1452.9" cy="626.7" rx="6.3" ry="5.3" fill="#3e590d"/><circle cx="1452.9" cy="626.7" r="2.6" fill="#fff"/>
<ellipse cx="1458.5" cy="625" rx="6.3" ry="5.3" fill="#3e590d"/><circle cx="1458.5" cy="625" r="2.6" fill="#fff"/>
<ellipse cx="1464.1" cy="623.9" rx="6.3" ry="5.3" fill="#3e590d"/><circle cx="1464.1" cy="623.9" r="2.6" fill="#fff"/>
<ellipse cx="1469.7" cy="622.6" rx="6.3" ry="5.3" fill="#3e590d"/><circle cx="1469.7" cy="622.6" r="2.6" fill="#fff"/>
<ellipse cx="1475.3" cy="620.1" rx="6.3" ry="5.3" fill="#3e590d"/><circle cx="1475.3" cy="620.1" r="2.6" fill="#fff"/>
<ellipse cx="1480.9" cy="618.5" rx="6.3" ry="5.3" fill="#3e590d"/><circle cx="1480.9" cy="618.5" r="2.6" fill="#fff"/>
<ellipse cx="1486.5" cy="619.7" rx="6.3" ry="5.3" fill="#3e590d"/><circle cx="1486.5" cy="619.7" r="2.6" fill="#fff"/>
<ellipse cx="1492.1" cy="620.4" rx="6.3" ry="5.3" fill="#3e590d"/><circle cx="1492.1" cy="620.4" r="2.6" fill="#fff"/>
<ellipse cx="1497.7" cy="619.9" rx="6.3" ry="5.3" fill="#3e590d"/><circle cx="1497.7" cy="619.9" r="2.6" fill="#fff"/>
<ellipse cx="1503.3" cy="619.4" rx="6.3" ry="5.3" fill="#3e590d"/><circle cx="1503.3" cy="619.4" r="2.6" fill="#fff"/>
<ellipse cx="1508.9" cy="619.7" rx="6.3" ry="5.3" fill="#3e590d"/><circle cx="1508.9" cy="619.7" r="2.6" fill="#fff"/>
<ellipse cx="1514.5" cy="620" rx="6.3" ry="5.3" fill="#3e590d"/><circle cx="1514.5" cy="620" r="2.6" fill="#fff"/>
<ellipse cx="1520" cy="622.6" rx="6.3" ry="5.3" fill="#3e590d"/><circle cx="1520" cy="622.6" r="2.6" fill="#fff"/>
<ellipse cx="1525.6" cy="620.9" rx="6.3" ry="5.3" fill="#3e590d"/><circle cx="1525.6" cy="620.9" r="2.6" fill="#fff"/>
<ellipse cx="1531.2" cy="618.8" rx="6.3" ry="5.3" fill="#3e590d"/><circle cx="1531.2" cy="618.8" r="2.6" fill="#fff"/>
<ellipse cx="1536.8" cy="618.8" rx="6.3" ry="5.3" fill="#3e590d"/><circle cx="1536.8" cy="618.8" r="2.6" fill="#fff"/>
<ellipse cx="1542.4" cy="618.8" rx="6.3" ry="5.3" fill="#3e590d"/><circle cx="1542.4" cy="618.8" r="2.6" fill="#fff"/>
<ellipse cx="1548" cy="618.8" rx="6.3" ry="5.3" fill="#3e590d"/><circle cx="1548" cy="618.8" r="2.6" fill="#fff"/>
<ellipse cx="1553.6" cy="618.8" rx="6.3" ry="5.3" fill="#3e590d"/><circle cx="1553.6" cy="618.8" r="2.6" fill="#fff"/>
<ellipse cx="1559.2" cy="619.5" rx="6.3" ry="5.3" fill="#3e590d"/><circle cx="1559.2" cy="619.5" r="2.6" fill="#fff"/>
<ellipse cx="1564.8" cy="623.7" rx="6.3" ry="5.3" fill="#3e590d"/><circle cx="1564.8" cy="623.7" r="2.6" fill="#fff"/>
<ellipse cx="1570.4" cy="624.6" rx="6.3" ry="5.3" fill="#3e590d"/><circle cx="1570.4" cy="624.6" r="2.6" fill="#fff"/>
<ellipse cx="1576" cy="625.4" rx="6.3" ry="5.3" fill="#3e590d"/><circle cx="1576" cy="625.4" r="2.6" fill="#fff"/>
<ellipse cx="1581.6" cy="625.1" rx="6.3" ry="5.3" fill="#3e590d"/><circle cx="1581.6" cy="625.1" r="2.6" fill="#fff"/>
<ellipse cx="1587.2" cy="624.8" rx="6.3" ry="5.3" fill="#3e590d"/><circle cx="1587.2" cy="624.8" r="2.6" fill="#fff"/>
<ellipse cx="1592.8" cy="623.8" rx="6.3" ry="5.3" fill="#3e590d"/><circle cx="1592.8" cy="623.8" r="2.6" fill="#fff"/>
<ellipse cx="1598.4" cy="622.8" rx="6.3" ry="5.3" fill="#3e590d"/><circle cx="1598.4" cy="622.8" r="2.6" fill="#fff"/>
<ellipse cx="1604" cy="621.8" rx="6.3" ry="5.3" fill="#3e590d"/><circle cx="1604" cy="621.8" r="2.6" fill="#fff"/>
<rect x="1336.9" y="730.7" width="209.7" height="72.5" fill="#fff" stroke="#333" stroke-width="1.6"/>
<line x1="1343.9" y1="744.5" x2="1408.4" y2="744.5" stroke="#b2cf05" stroke-width="3.6"/>
<circle cx="1376.2" cy="744.5" r="3.9" fill="#fff" stroke="#b2cf05" stroke-width="3.5"/>
<text transform="translate(1420.21,750.27) scale(1.2022,1.0000)" font-family="DejaVu Sans, sans-serif" font-size="23.70" fill="#000">peron</text>
<line x1="1343.9" y1="767.4" x2="1408.4" y2="767.4" stroke="#5ea11c" stroke-width="3.6"/>
<circle cx="1376.2" cy="767.4" r="3.9" fill="#fff" stroke="#5ea11c" stroke-width="3.5"/>
<text transform="translate(1418.67,773.57) scale(1.1969,1.0000)" font-family="DejaVu Sans, sans-serif" font-size="23.65" fill="#000">soleus</text>
<line x1="1343.9" y1="790.1" x2="1405" y2="790.1" stroke="#3c520c" stroke-width="2.7"/>
<circle cx="1376.2" cy="790.1" r="3.9" fill="#fff" stroke="#3c520c" stroke-width="3.5"/>
<text transform="translate(1414.34,794.65) scale(1.2169,1.0000)" font-family="DejaVu Sans, sans-serif" font-size="23.29" fill="#000">gastroc</text>
<text transform="translate(721.26,654.00) scale(0.9657,1.0000)" font-family="Liberation Sans, sans-serif" font-weight="bold" font-size="36.15" fill="#000">(d)</text>
</svg></body></html>
